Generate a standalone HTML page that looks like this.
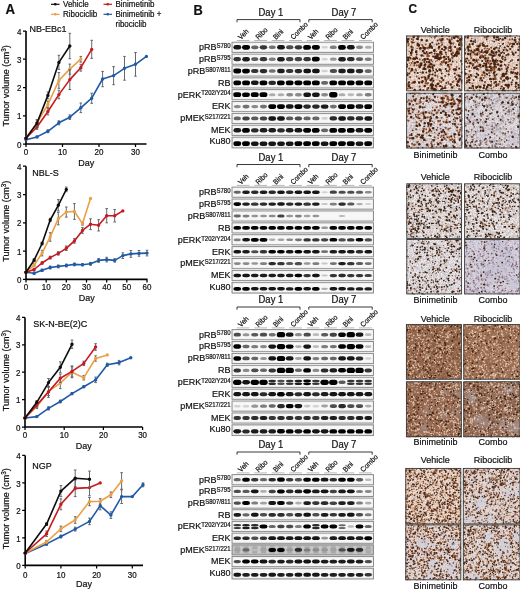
<!DOCTYPE html>
<html><head><meta charset="utf-8"><title>Figure</title>
<style>html,body{margin:0;padding:0;background:#fff;}svg{display:block;}text{stroke:#111;stroke-width:.2px;}</style></head>
<body><svg width="520" height="592" viewBox="0 0 520 592" font-family="&quot;Liberation Sans&quot;, Arial, sans-serif" fill="#111">
<defs><filter id="bl" x="-5%" y="-50%" width="110%" height="200%"><feGaussianBlur stdDeviation="0.7"/></filter>
<filter id="bl2" x="-5%" y="-5%" width="110%" height="110%"><feGaussianBlur stdDeviation="1.2"/></filter><filter id="spT" x="0" y="0" width="1" height="1"><feTurbulence type="fractalNoise" baseFrequency="0.75" numOctaves="2" seed="3"/><feColorMatrix type="matrix" values="0 0 0 0 0.62  0 0 0 0 0.48  0 0 0 0 0.42  3.2 0 0 0 -1.25"/></filter>
<filter id="spG" x="0" y="0" width="1" height="1"><feTurbulence type="fractalNoise" baseFrequency="0.75" numOctaves="2" seed="5"/><feColorMatrix type="matrix" values="0 0 0 0 0.55  0 0 0 0 0.53  0 0 0 0 0.6  3.2 0 0 0 -1.2"/></filter>
<filter id="spB" x="0" y="0" width="1" height="1"><feTurbulence type="fractalNoise" baseFrequency="0.6" numOctaves="2" seed="9"/><feColorMatrix type="matrix" values="0 0 0 0 0.3  0 0 0 0 0.18  0 0 0 0 0.12  3.4 0 0 0 -1.3"/></filter>
<filter id="bl3" x="-20%" y="-20%" width="140%" height="140%"><feGaussianBlur stdDeviation="2.5"/></filter></defs>
<rect width="520" height="592" fill="#fff"/>
<text transform="translate(5.6,13.9) scale(1,1.1)" font-size="13.2" font-weight="bold" stroke="#000" stroke-width="0.35">A</text>
<line x1="51" y1="4.3" x2="59.5" y2="4.3" stroke="#0d0d0d" stroke-width="1.2"/><circle cx="55.25" cy="4.3" r="1.3" fill="#0d0d0d"/>
<text transform="translate(63,7.199999999999999) scale(1,1.1)" font-size="8">Vehicle</text>
<line x1="51" y1="14.3" x2="59.5" y2="14.3" stroke="#eaa045" stroke-width="1.2"/><circle cx="55.25" cy="14.3" r="1.3" fill="#eaa045"/>
<text transform="translate(63,17.2) scale(1,1.1)" font-size="8">Ribociclib</text>
<line x1="103.5" y1="4.3" x2="112.0" y2="4.3" stroke="#c8191f" stroke-width="1.2"/><circle cx="107.75" cy="4.3" r="1.3" fill="#c8191f"/>
<text transform="translate(115.5,7.199999999999999) scale(1,1.1)" font-size="8">Binimetinib</text>
<line x1="103.5" y1="14.3" x2="112.0" y2="14.3" stroke="#1f5aa8" stroke-width="1.2"/><circle cx="107.75" cy="14.3" r="1.3" fill="#1f5aa8"/>
<text transform="translate(115.5,17.2) scale(1,1.1)" font-size="8">Binimetinib +</text>
<text transform="translate(115.5,26.5) scale(1,1.1)" font-size="8">ribociclib</text>
<path d="M26 31V144H146.5" fill="none" stroke="#000" stroke-width="1.6"/>
<text transform="translate(21.4,147.6) scale(1,1.1)" font-size="8" text-anchor="end">0</text>
<text transform="translate(21.4,119.3) scale(1,1.1)" font-size="8" text-anchor="end">1</text>
<text transform="translate(21.4,91.1) scale(1,1.1)" font-size="8" text-anchor="end">2</text>
<text transform="translate(21.4,62.9) scale(1,1.1)" font-size="8" text-anchor="end">3</text>
<text transform="translate(21.4,34.6) scale(1,1.1)" font-size="8" text-anchor="end">4</text>
<text transform="translate(26,155.2) scale(1,1.1)" font-size="8" text-anchor="middle">0</text>
<text transform="translate(62.5,155.2) scale(1,1.1)" font-size="8" text-anchor="middle">10</text>
<text transform="translate(99,155.2) scale(1,1.1)" font-size="8" text-anchor="middle">20</text>
<text transform="translate(135.5,155.2) scale(1,1.1)" font-size="8" text-anchor="middle">30</text>
<path d="M23 144H26M23 115.8H26M23 87.5H26M23 59.2H26M23 31H26M26 144V147M62.5 144V147M99 144V147M135.5 144V147" stroke="#000" stroke-width="1.25"/>
<text transform="translate(86.2,165.6) scale(1,1.1)" font-size="9" text-anchor="middle">Day</text>
<text transform="translate(9.3,85.9) rotate(-90) scale(1,1.1)" font-size="9" text-anchor="middle">Tumor volume (cm<tspan font-size="6.3" dy="-3.2">3</tspan><tspan dy="3.2">)</tspan></text>
<text transform="translate(29.6,32.2) scale(1,1.1)" font-size="9">NB-EBc1</text>
<path d="M37 136.1V137.8M35.7 136.1h2.6M35.7 137.8h2.6M47.9 129.9V132.7M46.6 129.9h2.6M46.6 132.7h2.6M58.9 120.8V124.8M57.6 120.8h2.6M57.6 124.8h2.6M69.8 114.9V119.4M68.5 114.9h2.6M68.5 119.4h2.6M80.8 103V112.6M79.5 103h2.6M79.5 112.6h2.6M91.7 93.2V103.3M90.4 93.2h2.6M90.4 103.3h2.6M102.6 71.4V86.7M101.3 71.4h2.6M101.3 86.7h2.6M113.6 66.6V84.7M112.3 66.6h2.6M112.3 84.7h2.6M124.5 56.4V80.2M123.2 56.4h2.6M123.2 80.2h2.6M135.5 52.5V76.2M134.2 52.5h2.6M134.2 76.2h2.6" stroke="#5c6168" stroke-width="0.95" fill="none"/>
<polyline points="26,139.8 37,136.9 47.9,131.3 58.9,122.8 69.8,117.2 80.8,107.8 91.7,98.2 102.6,79 113.6,75.6 124.5,68.3 135.5,64.3 146.4,56.4" fill="none" stroke="#1f5aa8" stroke-width="1.6" stroke-linejoin="round"/>
<path d="M26 139.8h0M37 136.9h0M47.9 131.3h0M58.9 122.8h0M69.8 117.2h0M80.8 107.8h0M91.7 98.2h0M102.6 79h0M113.6 75.6h0M124.5 68.3h0M135.5 64.3h0M146.4 56.4h0" stroke="#1f5aa8" stroke-width="3.4" stroke-linecap="round"/>
<path d="M37 120V125.6M35.7 120h2.6M35.7 125.6h2.6M47.9 101.1V107.8M46.6 101.1h2.6M46.6 107.8h2.6M58.9 72.5V88.3M57.6 72.5h2.6M57.6 88.3h2.6M69.8 64.1V74.2M68.5 64.1h2.6M68.5 74.2h2.6M80.8 56.4V62.1M79.5 56.4h2.6M79.5 62.1h2.6" stroke="#5c6168" stroke-width="0.95" fill="none"/>
<polyline points="26,138.3 37,122.8 47.9,104.5 58.9,80.4 69.8,69.1 80.8,59.2" fill="none" stroke="#eaa045" stroke-width="1.6" stroke-linejoin="round"/>
<path d="M26 138.3h0M37 122.8h0M47.9 104.5h0M58.9 80.4h0M69.8 69.1h0M80.8 59.2h0" stroke="#eaa045" stroke-width="3.4" stroke-linecap="round"/>
<path d="M37 124.8V129.3M35.7 124.8h2.6M35.7 129.3h2.6M47.9 108.1V114.9M46.6 108.1h2.6M46.6 114.9h2.6M58.9 90.3V98.8M57.6 90.3h2.6M57.6 98.8h2.6M69.8 69.7V89.5M68.5 69.7h2.6M68.5 89.5h2.6M80.8 64.3V71.1M79.5 64.3h2.6M79.5 71.1h2.6M91.7 40.3V58.4M90.4 40.3h2.6M90.4 58.4h2.6" stroke="#5c6168" stroke-width="0.95" fill="none"/>
<polyline points="26,138.3 37,127 47.9,111.5 58.9,94.6 69.8,79.6 80.8,67.7 91.7,49.4" fill="none" stroke="#c8191f" stroke-width="1.6" stroke-linejoin="round"/>
<path d="M26 138.3h0M37 127h0M47.9 111.5h0M58.9 94.6h0M69.8 79.6h0M80.8 67.7h0M91.7 49.4h0" stroke="#c8191f" stroke-width="3.4" stroke-linecap="round"/>
<path d="M37 119.7V126.5M35.7 119.7h2.6M35.7 126.5h2.6M47.9 92V98.8M46.6 92h2.6M46.6 98.8h2.6M58.9 55.3V69.4M57.6 55.3h2.6M57.6 69.4h2.6M69.8 33.3V58.7M68.5 33.3h2.6M68.5 58.7h2.6" stroke="#5c6168" stroke-width="0.95" fill="none"/>
<polyline points="26,138.3 37,123.1 47.9,95.4 58.9,62.4 69.8,46" fill="none" stroke="#0d0d0d" stroke-width="1.6" stroke-linejoin="round"/>
<path d="M26 138.3h0M37 123.1h0M47.9 95.4h0M58.9 62.4h0M69.8 46h0" stroke="#0d0d0d" stroke-width="3.4" stroke-linecap="round"/>
<path d="M26 166.2V279.4H147.5" fill="none" stroke="#000" stroke-width="1.6"/>
<text transform="translate(21.4,283) scale(1,1.1)" font-size="8" text-anchor="end">0</text>
<text transform="translate(21.4,254.7) scale(1,1.1)" font-size="8" text-anchor="end">1</text>
<text transform="translate(21.4,226.4) scale(1,1.1)" font-size="8" text-anchor="end">2</text>
<text transform="translate(21.4,198.1) scale(1,1.1)" font-size="8" text-anchor="end">3</text>
<text transform="translate(21.4,169.8) scale(1,1.1)" font-size="8" text-anchor="end">4</text>
<text transform="translate(26,290.2) scale(1,1.1)" font-size="8" text-anchor="middle">0</text>
<text transform="translate(46.2,290.2) scale(1,1.1)" font-size="8" text-anchor="middle">10</text>
<text transform="translate(66.3,290.2) scale(1,1.1)" font-size="8" text-anchor="middle">20</text>
<text transform="translate(86.5,290.2) scale(1,1.1)" font-size="8" text-anchor="middle">30</text>
<text transform="translate(106.7,290.2) scale(1,1.1)" font-size="8" text-anchor="middle">40</text>
<text transform="translate(126.8,290.2) scale(1,1.1)" font-size="8" text-anchor="middle">50</text>
<text transform="translate(147,290.2) scale(1,1.1)" font-size="8" text-anchor="middle">60</text>
<path d="M23 279.4H26M23 251.1H26M23 222.8H26M23 194.5H26M23 166.2H26M26 279.4V282.4M46.2 279.4V282.4M66.3 279.4V282.4M86.5 279.4V282.4M106.7 279.4V282.4M126.8 279.4V282.4M147 279.4V282.4" stroke="#000" stroke-width="1.25"/>
<text transform="translate(86.8,300.5) scale(1,1.1)" font-size="9" text-anchor="middle">Day</text>
<text transform="translate(9.3,221.2) rotate(-90) scale(1,1.1)" font-size="9" text-anchor="middle">Tumor volume (cm<tspan font-size="6.3" dy="-3.2">3</tspan><tspan dy="3.2">)</tspan></text>
<text transform="translate(32.3,176) scale(1,1.1)" font-size="9">NBL-S</text>
<path d="M34.1 272V274.3M32.8 272h2.6M32.8 274.3h2.6M42.1 269.2V271.5M40.8 269.2h2.6M40.8 271.5h2.6M50.2 266.1V268.9M48.9 266.1h2.6M48.9 268.9h2.6M58.3 265V267.8M57 265h2.6M57 267.8h2.6M66.3 264.1V266.9M65 264.1h2.6M65 266.9h2.6M74.4 263V265.8M73.1 263h2.6M73.1 265.8h2.6M82.5 263.6V265.8M81.2 263.6h2.6M81.2 265.8h2.6M90.5 262.4V265.2M89.2 262.4h2.6M89.2 265.2h2.6M98.6 258.5V262.4M97.3 258.5h2.6M97.3 262.4h2.6M106.7 257.3V261.9M105.4 257.3h2.6M105.4 261.9h2.6M114.7 258.7V262.1M113.4 258.7h2.6M113.4 262.1h2.6M122.8 252.8V258.5M121.5 252.8h2.6M121.5 258.5h2.6M130.9 250.5V257.3M129.6 250.5h2.6M129.6 257.3h2.6M139 250.5V256.2M137.7 250.5h2.6M137.7 256.2h2.6M147 250.3V255.9M145.7 250.3h2.6M145.7 255.9h2.6" stroke="#5c6168" stroke-width="0.95" fill="none"/>
<polyline points="26,272.3 34.1,273.2 42.1,270.3 50.2,267.5 58.3,266.4 66.3,265.5 74.4,264.4 82.5,264.7 90.5,263.8 98.6,260.4 106.7,259.6 114.7,260.4 122.8,255.6 130.9,253.9 139,253.4 147,253.1" fill="none" stroke="#1f5aa8" stroke-width="1.6" stroke-linejoin="round"/>
<path d="M26 272.3h0M34.1 273.2h0M42.1 270.3h0M50.2 267.5h0M58.3 266.4h0M66.3 265.5h0M74.4 264.4h0M82.5 264.7h0M90.5 263.8h0M98.6 260.4h0M106.7 259.6h0M114.7 260.4h0M122.8 255.6h0M130.9 253.9h0M139 253.4h0M147 253.1h0" stroke="#1f5aa8" stroke-width="3.4" stroke-linecap="round"/>
<path d="M34.1 263.8V266.7M32.8 263.8h2.6M32.8 266.7h2.6M42.1 250.3V255.9M40.8 250.3h2.6M40.8 255.9h2.6M50.2 232.7V241.2M48.9 232.7h2.6M48.9 241.2h2.6M58.3 212.3V224.8M57 212.3h2.6M57 224.8h2.6M66.3 207V217.1M65 207h2.6M65 217.1h2.6M74.4 203.6V219.4M73.1 203.6h2.6M73.1 219.4h2.6M82.5 222.2V225.1M81.2 222.2h2.6M81.2 225.1h2.6" stroke="#5c6168" stroke-width="0.95" fill="none"/>
<polyline points="26,272.3 34.1,265.2 42.1,253.1 50.2,236.9 58.3,218.6 66.3,212 74.4,211.5 82.5,223.6 90.5,198.5" fill="none" stroke="#eaa045" stroke-width="1.6" stroke-linejoin="round"/>
<path d="M26 272.3h0M34.1 265.2h0M42.1 253.1h0M50.2 236.9h0M58.3 218.6h0M66.3 212h0M74.4 211.5h0M82.5 223.6h0M90.5 198.5h0" stroke="#eaa045" stroke-width="3.4" stroke-linecap="round"/>
<path d="M34.1 268.6V270.3M32.8 268.6h2.6M32.8 270.3h2.6M42.1 261.9V264.1M40.8 261.9h2.6M40.8 264.1h2.6M50.2 256.2V259M48.9 256.2h2.6M48.9 259h2.6M58.3 251.7V255.1M57 251.7h2.6M57 255.1h2.6M66.3 246V250.5M65 246h2.6M65 250.5h2.6M74.4 238.6V243.2M73.1 238.6h2.6M73.1 243.2h2.6M82.5 227.6V233.3M81.2 227.6h2.6M81.2 233.3h2.6M90.5 218.8V229.6M89.2 218.8h2.6M89.2 229.6h2.6M98.6 219.7V231M97.3 219.7h2.6M97.3 231h2.6M106.7 208.6V222.8M105.4 208.6h2.6M105.4 222.8h2.6M114.7 209.5V222M113.4 209.5h2.6M113.4 222h2.6" stroke="#5c6168" stroke-width="0.95" fill="none"/>
<polyline points="26,272.3 34.1,269.5 42.1,263 50.2,257.6 58.3,253.4 66.3,248.3 74.4,240.9 82.5,230.4 90.5,224.2 98.6,225.3 106.7,215.7 114.7,215.7 122.8,210.9" fill="none" stroke="#c8191f" stroke-width="1.6" stroke-linejoin="round"/>
<path d="M26 272.3h0M34.1 269.5h0M42.1 263h0M50.2 257.6h0M58.3 253.4h0M66.3 248.3h0M74.4 240.9h0M82.5 230.4h0M90.5 224.2h0M98.6 225.3h0M106.7 215.7h0M114.7 215.7h0M122.8 210.9h0" stroke="#c8191f" stroke-width="3.4" stroke-linecap="round"/>
<path d="M34.1 258.7V261.6M32.8 258.7h2.6M32.8 261.6h2.6M42.1 242V244.9M40.8 242h2.6M40.8 244.9h2.6M50.2 218.3V221.7M48.9 218.3h2.6M48.9 221.7h2.6M58.3 199.6V210.9M57 199.6h2.6M57 210.9h2.6M66.3 187.1V191.7M65 187.1h2.6M65 191.7h2.6" stroke="#5c6168" stroke-width="0.95" fill="none"/>
<polyline points="26,272.3 34.1,260.2 42.1,243.5 50.2,220 58.3,205.3 66.3,189.4" fill="none" stroke="#0d0d0d" stroke-width="1.6" stroke-linejoin="round"/>
<path d="M26 272.3h0M34.1 260.2h0M42.1 243.5h0M50.2 220h0M58.3 205.3h0M66.3 189.4h0" stroke="#0d0d0d" stroke-width="3.4" stroke-linecap="round"/>
<path d="M25 317.4V427H142.5" fill="none" stroke="#000" stroke-width="1.6"/>
<text transform="translate(20.4,430.6) scale(1,1.1)" font-size="8" text-anchor="end">0</text>
<text transform="translate(20.4,403.2) scale(1,1.1)" font-size="8" text-anchor="end">1</text>
<text transform="translate(20.4,375.8) scale(1,1.1)" font-size="8" text-anchor="end">2</text>
<text transform="translate(20.4,348.4) scale(1,1.1)" font-size="8" text-anchor="end">3</text>
<text transform="translate(20.4,321) scale(1,1.1)" font-size="8" text-anchor="end">4</text>
<text transform="translate(25,438.2) scale(1,1.1)" font-size="8" text-anchor="middle">0</text>
<text transform="translate(64.2,438.2) scale(1,1.1)" font-size="8" text-anchor="middle">10</text>
<text transform="translate(103.4,438.2) scale(1,1.1)" font-size="8" text-anchor="middle">20</text>
<text transform="translate(142.6,438.2) scale(1,1.1)" font-size="8" text-anchor="middle">30</text>
<path d="M22 427H25M22 399.6H25M22 372.2H25M22 344.8H25M22 317.4H25M25 427V430M64.2 427V430M103.4 427V430M142.6 427V430" stroke="#000" stroke-width="1.25"/>
<text transform="translate(83.8,448.5) scale(1,1.1)" font-size="9" text-anchor="middle">Day</text>
<text transform="translate(9.3,370.6) rotate(-90) scale(1,1.1)" font-size="9" text-anchor="middle">Tumor volume (cm<tspan font-size="6.3" dy="-3.2">3</tspan><tspan dy="3.2">)</tspan></text>
<text transform="translate(33.2,327) scale(1,1.1)" font-size="9">SK-N-BE(2)C</text>
<path d="M36.8 416V417.1M35.5 416h2.6M35.5 417.1h2.6M48.5 406.7V410M47.2 406.7h2.6M47.2 410h2.6M60.3 400.1V402.9M59 400.1h2.6M59 402.9h2.6M72 392.5V394.7M70.7 392.5h2.6M70.7 394.7h2.6M83.8 385.9V387.5M82.5 385.9h2.6M82.5 387.5h2.6M95.6 377.1V382.6M94.3 377.1h2.6M94.3 382.6h2.6M107.3 363.2V366.4M106 363.2h2.6M106 366.4h2.6M119.1 360.4V364.8M117.8 360.4h2.6M117.8 364.8h2.6" stroke="#5c6168" stroke-width="0.95" fill="none"/>
<polyline points="25,418 36.8,416.6 48.5,408.4 60.3,401.5 72,393.6 83.8,386.7 95.6,379.9 107.3,364.8 119.1,362.6 130.8,357.7" fill="none" stroke="#1f5aa8" stroke-width="1.6" stroke-linejoin="round"/>
<path d="M25 418h0M36.8 416.6h0M48.5 408.4h0M60.3 401.5h0M72 393.6h0M83.8 386.7h0M95.6 379.9h0M107.3 364.8h0M119.1 362.6h0M130.8 357.7h0" stroke="#1f5aa8" stroke-width="3.4" stroke-linecap="round"/>
<path d="M36.8 404.3V408.6M35.5 404.3h2.6M35.5 408.6h2.6M48.5 387.3V395.5M47.2 387.3h2.6M47.2 395.5h2.6M60.3 377.7V388.6M59 377.7h2.6M59 388.6h2.6M72 366.7V377.7M70.7 366.7h2.6M70.7 377.7h2.6M83.8 375.5V379.9M82.5 375.5h2.6M82.5 379.9h2.6M95.6 355.8V361.2M94.3 355.8h2.6M94.3 361.2h2.6" stroke="#5c6168" stroke-width="0.95" fill="none"/>
<polyline points="25,418 36.8,406.4 48.5,391.4 60.3,383.2 72,372.2 83.8,377.7 95.6,358.5 107.3,354.9" fill="none" stroke="#eaa045" stroke-width="1.6" stroke-linejoin="round"/>
<path d="M25 418h0M36.8 406.4h0M48.5 391.4h0M60.3 383.2h0M72 372.2h0M83.8 377.7h0M95.6 358.5h0M107.3 354.9h0" stroke="#eaa045" stroke-width="3.4" stroke-linecap="round"/>
<path d="M36.8 402.9V407.3M35.5 402.9h2.6M35.5 407.3h2.6M48.5 386.4V397.4M47.2 386.4h2.6M47.2 397.4h2.6M60.3 374.1V382.3M59 374.1h2.6M59 382.3h2.6M72 365.9V376.9M70.7 365.9h2.6M70.7 376.9h2.6M83.8 361.2V365.6M82.5 361.2h2.6M82.5 365.6h2.6M95.6 343.7V350.3M94.3 343.7h2.6M94.3 350.3h2.6" stroke="#5c6168" stroke-width="0.95" fill="none"/>
<polyline points="25,418 36.8,405.1 48.5,391.9 60.3,378.2 72,371.4 83.8,363.4 95.6,347" fill="none" stroke="#c8191f" stroke-width="1.6" stroke-linejoin="round"/>
<path d="M25 418h0M36.8 405.1h0M48.5 391.9h0M60.3 378.2h0M72 371.4h0M83.8 363.4h0M95.6 347h0" stroke="#c8191f" stroke-width="3.4" stroke-linecap="round"/>
<path d="M36.8 400.7V404M35.5 400.7h2.6M35.5 404h2.6M48.5 378.5V386.7M47.2 378.5h2.6M47.2 386.7h2.6M60.3 361.8V372.7M59 361.8h2.6M59 372.7h2.6M72 340.1V348.4M70.7 340.1h2.6M70.7 348.4h2.6" stroke="#5c6168" stroke-width="0.95" fill="none"/>
<polyline points="25,418 36.8,402.3 48.5,382.6 60.3,367.3 72,344.3" fill="none" stroke="#0d0d0d" stroke-width="1.6" stroke-linejoin="round"/>
<path d="M25 418h0M36.8 402.3h0M48.5 382.6h0M60.3 367.3h0M72 344.3h0" stroke="#0d0d0d" stroke-width="3.4" stroke-linecap="round"/>
<path d="M25.2 455.4V565.4H143" fill="none" stroke="#000" stroke-width="1.6"/>
<text transform="translate(20.6,569) scale(1,1.1)" font-size="8" text-anchor="end">0</text>
<text transform="translate(20.6,541.5) scale(1,1.1)" font-size="8" text-anchor="end">1</text>
<text transform="translate(20.6,514) scale(1,1.1)" font-size="8" text-anchor="end">2</text>
<text transform="translate(20.6,486.5) scale(1,1.1)" font-size="8" text-anchor="end">3</text>
<text transform="translate(20.6,459) scale(1,1.1)" font-size="8" text-anchor="end">4</text>
<text transform="translate(25.2,577.6) scale(1,1.1)" font-size="8" text-anchor="middle">0</text>
<text transform="translate(60.9,577.6) scale(1,1.1)" font-size="8" text-anchor="middle">10</text>
<text transform="translate(96.6,577.6) scale(1,1.1)" font-size="8" text-anchor="middle">20</text>
<text transform="translate(132.3,577.6) scale(1,1.1)" font-size="8" text-anchor="middle">30</text>
<path d="M22.2 565.4H25.2M22.2 537.9H25.2M22.2 510.4H25.2M22.2 482.9H25.2M22.2 455.4H25.2M25.2 565.4V568.4M60.9 565.4V568.4M96.6 565.4V568.4M132.3 565.4V568.4" stroke="#000" stroke-width="1.25"/>
<text transform="translate(84.1,586.8) scale(1,1.1)" font-size="9" text-anchor="middle">Day</text>
<text transform="translate(9.3,508.8) rotate(-90) scale(1,1.1)" font-size="9" text-anchor="middle">Tumor volume (cm<tspan font-size="6.3" dy="-3.2">3</tspan><tspan dy="3.2">)</tspan></text>
<text transform="translate(32.3,468.5) scale(1,1.1)" font-size="9">NGP</text>
<path d="M46.6 542.6V545.3M45.3 542.6h2.6M45.3 545.3h2.6M60.9 535.1V537.9M59.6 535.1h2.6M59.6 537.9h2.6M75.2 527.2V531M73.9 527.2h2.6M73.9 531h2.6M89.5 518.1V524.7M88.2 518.1h2.6M88.2 524.7h2.6M100.2 501.6V509.8M98.9 501.6h2.6M98.9 509.8h2.6M110.9 511.8V518.4M109.6 511.8h2.6M109.6 518.4h2.6M121.6 489.8V503.5M120.3 489.8h2.6M120.3 503.5h2.6M143 482.9V486.8M141.7 482.9h2.6M141.7 486.8h2.6" stroke="#5c6168" stroke-width="0.95" fill="none"/>
<polyline points="25.2,553.6 46.6,543.9 60.9,536.5 75.2,529.1 89.5,521.4 100.2,505.7 110.9,515.1 121.6,496.6 132.3,496.6 143,484.8" fill="none" stroke="#1f5aa8" stroke-width="1.6" stroke-linejoin="round"/>
<path d="M25.2 553.6h0M46.6 543.9h0M60.9 536.5h0M75.2 529.1h0M89.5 521.4h0M100.2 505.7h0M110.9 515.1h0M121.6 496.6h0M132.3 496.6h0M143 484.8h0" stroke="#1f5aa8" stroke-width="3.4" stroke-linecap="round"/>
<path d="M46.6 540.6V543.4M45.3 540.6h2.6M45.3 543.4h2.6M60.9 526.1V531.6M59.6 526.1h2.6M59.6 531.6h2.6M75.2 516.7V523.3M73.9 516.7h2.6M73.9 523.3h2.6M89.5 497.5V505.7M88.2 497.5h2.6M88.2 505.7h2.6M100.2 498.6V504.1M98.9 498.6h2.6M98.9 504.1h2.6M110.9 492V497.5M109.6 492h2.6M109.6 497.5h2.6M121.6 472.7V489.2M120.3 472.7h2.6M120.3 489.2h2.6" stroke="#5c6168" stroke-width="0.95" fill="none"/>
<polyline points="25.2,553 46.6,542 60.9,528.8 75.2,520 89.5,501.6 100.2,501.3 110.9,494.7 121.6,481" fill="none" stroke="#eaa045" stroke-width="1.6" stroke-linejoin="round"/>
<path d="M25.2 553h0M46.6 542h0M60.9 528.8h0M75.2 520h0M89.5 501.6h0M100.2 501.3h0M110.9 494.7h0M121.6 481h0" stroke="#eaa045" stroke-width="3.4" stroke-linecap="round"/>
<path d="M46.6 531V536.5M45.3 531h2.6M45.3 536.5h2.6M60.9 498.8V509.8M59.6 498.8h2.6M59.6 509.8h2.6M75.2 480.1V496.6M73.9 480.1h2.6M73.9 496.6h2.6M89.5 479.3V495.8M88.2 479.3h2.6M88.2 495.8h2.6" stroke="#5c6168" stroke-width="0.95" fill="none"/>
<polyline points="25.2,553 46.6,533.8 60.9,504.3 75.2,488.4 89.5,487.6 100.2,482.9" fill="none" stroke="#c8191f" stroke-width="1.6" stroke-linejoin="round"/>
<path d="M25.2 553h0M46.6 533.8h0M60.9 504.3h0M75.2 488.4h0M89.5 487.6h0M100.2 482.9h0" stroke="#c8191f" stroke-width="3.4" stroke-linecap="round"/>
<path d="M46.6 522.8V525.5M45.3 522.8h2.6M45.3 525.5h2.6M60.9 485.6V496.6M59.6 485.6h2.6M59.6 496.6h2.6M75.2 470V486.5M73.9 470h2.6M73.9 486.5h2.6M89.5 471.1V487.6M88.2 471.1h2.6M88.2 487.6h2.6" stroke="#5c6168" stroke-width="0.95" fill="none"/>
<polyline points="25.2,553 46.6,524.1 60.9,491.1 75.2,478.2 89.5,479.3" fill="none" stroke="#0d0d0d" stroke-width="1.6" stroke-linejoin="round"/>
<path d="M25.2 553h0M46.6 524.1h0M60.9 491.1h0M75.2 478.2h0M89.5 479.3h0" stroke="#0d0d0d" stroke-width="3.4" stroke-linecap="round"/>
<text transform="translate(193.6,14.5) scale(1,1.1)" font-size="12.8" font-weight="bold" stroke="#000" stroke-width="0.35">B</text>
<text transform="translate(270.9,15.6) scale(1,1.1)" font-size="9.5" text-anchor="middle">Day 1</text>
<text transform="translate(344,15.6) scale(1,1.1)" font-size="9.5" text-anchor="middle">Day 7</text>
<path d="M237 22.3V19.6H300V22.3M308.8 22.3V19.6H372.2V22.3" fill="none" stroke="#222" stroke-width="0.9"/>
<text transform="translate(241.1,40) rotate(-45) scale(1,1.1)" font-size="6.6">Veh</text>
<text transform="translate(258.5,40) rotate(-45) scale(1,1.1)" font-size="6.6">Ribo</text>
<text transform="translate(276,40) rotate(-45) scale(1,1.1)" font-size="6.6">Bini</text>
<text transform="translate(293.4,40) rotate(-45) scale(1,1.1)" font-size="6.6">Combo</text>
<text transform="translate(310.9,40) rotate(-45) scale(1,1.1)" font-size="6.6">Veh</text>
<text transform="translate(328.4,40) rotate(-45) scale(1,1.1)" font-size="6.6">Ribo</text>
<text transform="translate(345.8,40) rotate(-45) scale(1,1.1)" font-size="6.6">Bini</text>
<text transform="translate(363.3,40) rotate(-45) scale(1,1.1)" font-size="6.6">Combo</text>
<path d="M236.8 40.5H249.5M254.3 40.5H267M271.7 40.5H284.5M289.2 40.5H301.9M306.6 40.5H319.4M324.1 40.5H336.8M341.6 40.5H354.3M359 40.5H371.8" stroke="#9a9a9a" stroke-width="0.7"/>
<rect x="232" y="42.2" width="141.5" height="10.2" fill="#ececec" stroke="#858585" stroke-width="0.9"/>
<rect x="233.2" y="43.4" width="139.1" height="7.8" fill="#f7f7f7" filter="url(#bl)"/>
<text transform="translate(230.5,50.1) scale(1,1.1)" font-size="9" text-anchor="end">pRB<tspan font-size="6" dy="-1.9">S780</tspan></text>
<g filter="url(#bl)"><rect x="233.4" y="45" width="7.8" height="4.5" rx="2.6" ry="2.3" fill="rgb(18,18,18)"/><rect x="242.1" y="44.9" width="7.9" height="4.8" rx="2.6" ry="2.4" fill="rgb(0,0,0)"/><rect x="251.2" y="45.5" width="7.2" height="3.7" rx="2.6" ry="1.9" fill="rgb(102,102,102)"/><rect x="259.7" y="45.2" width="7.5" height="4.2" rx="2.6" ry="2.1" fill="rgb(54,54,54)"/><rect x="268.7" y="45.5" width="7.1" height="3.6" rx="2.6" ry="1.8" fill="rgb(114,114,114)"/><rect x="277.1" y="45" width="7.8" height="4.5" rx="2.6" ry="2.3" fill="rgb(18,18,18)"/><rect x="286" y="45.3" width="7.4" height="3.9" rx="2.6" ry="2" fill="rgb(78,78,78)"/><rect x="294.7" y="45.2" width="7.5" height="4.2" rx="2.6" ry="2.1" fill="rgb(54,54,54)"/><rect x="303.2" y="45" width="7.8" height="4.7" rx="2.6" ry="2.3" fill="rgb(6,6,6)"/><rect x="311.9" y="44.9" width="7.9" height="4.8" rx="2.6" ry="2.4" fill="rgb(0,0,0)"/><rect x="321.4" y="46" width="6.5" height="2.6" rx="2.6" ry="1.3" fill="rgb(210,210,210)"/><rect x="329.8" y="45.6" width="7" height="3.5" rx="2.6" ry="1.7" fill="rgb(126,126,126)"/><rect x="338.1" y="45" width="7.8" height="4.7" rx="2.6" ry="2.3" fill="rgb(6,6,6)"/><rect x="346.9" y="45" width="7.8" height="4.5" rx="2.6" ry="2.3" fill="rgb(18,18,18)"/><rect x="356" y="45.6" width="7" height="3.3" rx="2.6" ry="1.7" fill="rgb(138,138,138)"/><rect x="364.9" y="45.8" width="6.7" height="3" rx="2.6" ry="1.5" fill="rgb(174,174,174)"/></g>
<rect x="232" y="54.1" width="141.5" height="10.2" fill="#ececec" stroke="#858585" stroke-width="0.9"/>
<rect x="233.2" y="55.3" width="139.1" height="7.8" fill="#f7f7f7" filter="url(#bl)"/>
<text transform="translate(230.5,62) scale(1,1.1)" font-size="9" text-anchor="end">pRB<tspan font-size="6" dy="-1.9">S795</tspan></text>
<g filter="url(#bl)"><rect x="233.5" y="57.1" width="7.5" height="4.2" rx="2.6" ry="2.1" fill="rgb(54,54,54)"/><rect x="242.2" y="57" width="7.7" height="4.4" rx="2.6" ry="2.2" fill="rgb(30,30,30)"/><rect x="251.1" y="57.2" width="7.3" height="3.8" rx="2.6" ry="1.9" fill="rgb(90,90,90)"/><rect x="259.7" y="57.1" width="7.5" height="4.2" rx="2.6" ry="2.1" fill="rgb(54,54,54)"/><rect x="268.7" y="57.4" width="7" height="3.5" rx="2.6" ry="1.7" fill="rgb(126,126,126)"/><rect x="277.1" y="57" width="7.7" height="4.4" rx="2.6" ry="2.2" fill="rgb(30,30,30)"/><rect x="286" y="57.1" width="7.4" height="4.1" rx="2.6" ry="2" fill="rgb(66,66,66)"/><rect x="294.7" y="57.1" width="7.4" height="4.1" rx="2.6" ry="2" fill="rgb(66,66,66)"/><rect x="303.4" y="57.1" width="7.5" height="4.2" rx="2.6" ry="2.1" fill="rgb(54,54,54)"/><rect x="311.9" y="56.8" width="7.8" height="4.7" rx="2.6" ry="2.3" fill="rgb(6,6,6)"/><rect x="321.4" y="57.9" width="6.5" height="2.6" rx="2.6" ry="1.3" fill="rgb(210,210,210)"/><rect x="329.9" y="57.6" width="6.9" height="3.2" rx="2.6" ry="1.6" fill="rgb(150,150,150)"/><rect x="338.2" y="57" width="7.7" height="4.4" rx="2.6" ry="2.2" fill="rgb(30,30,30)"/><rect x="347" y="57" width="7.6" height="4.3" rx="2.6" ry="2.1" fill="rgb(42,42,42)"/><rect x="355.9" y="57.2" width="7.3" height="3.8" rx="2.6" ry="1.9" fill="rgb(90,90,90)"/><rect x="364.7" y="57.4" width="7" height="3.5" rx="2.6" ry="1.7" fill="rgb(126,126,126)"/></g>
<rect x="232" y="65.9" width="141.5" height="10.2" fill="#ececec" stroke="#858585" stroke-width="0.9"/>
<rect x="233.2" y="67.1" width="139.1" height="7.8" fill="#f7f7f7" filter="url(#bl)"/>
<text transform="translate(230.5,73.8) scale(1,1.1)" font-size="9" text-anchor="end">pRB<tspan font-size="6" dy="-1.9">S807/811</tspan></text>
<g filter="url(#bl)"><rect x="233.3" y="68.6" width="7.9" height="4.8" rx="2.6" ry="2.4" fill="rgb(0,0,0)"/><rect x="242.1" y="68.7" width="7.8" height="4.7" rx="2.6" ry="2.3" fill="rgb(6,6,6)"/><rect x="251" y="68.9" width="7.5" height="4.2" rx="2.6" ry="2.1" fill="rgb(54,54,54)"/><rect x="259.7" y="68.9" width="7.6" height="4.3" rx="2.6" ry="2.1" fill="rgb(42,42,42)"/><rect x="268.7" y="69.2" width="7.1" height="3.6" rx="2.6" ry="1.8" fill="rgb(114,114,114)"/><rect x="277.1" y="68.8" width="7.7" height="4.4" rx="2.6" ry="2.2" fill="rgb(30,30,30)"/><rect x="285.9" y="68.9" width="7.5" height="4.2" rx="2.6" ry="2.1" fill="rgb(54,54,54)"/><rect x="294.6" y="68.9" width="7.6" height="4.3" rx="2.6" ry="2.1" fill="rgb(42,42,42)"/><rect x="303.3" y="68.8" width="7.8" height="4.5" rx="2.6" ry="2.3" fill="rgb(18,18,18)"/><rect x="312" y="68.8" width="7.8" height="4.5" rx="2.6" ry="2.3" fill="rgb(18,18,18)"/><rect x="321.4" y="69.7" width="6.5" height="2.6" rx="2.6" ry="1.3" fill="rgb(210,210,210)"/><rect x="329.7" y="69" width="7.4" height="3.9" rx="2.6" ry="2" fill="rgb(78,78,78)"/><rect x="338.2" y="68.8" width="7.7" height="4.4" rx="2.6" ry="2.2" fill="rgb(30,30,30)"/><rect x="346.9" y="68.8" width="7.8" height="4.5" rx="2.6" ry="2.3" fill="rgb(18,18,18)"/><rect x="355.7" y="68.9" width="7.6" height="4.3" rx="2.6" ry="2.1" fill="rgb(42,42,42)"/><rect x="364.6" y="69.2" width="7.2" height="3.7" rx="2.6" ry="1.9" fill="rgb(102,102,102)"/></g>
<rect x="232" y="77.8" width="141.5" height="10.2" fill="#ececec" stroke="#858585" stroke-width="0.9"/>
<rect x="233.2" y="79" width="139.1" height="7.8" fill="#f7f7f7" filter="url(#bl)"/>
<text transform="translate(230.5,85.7) scale(1,1.1)" font-size="9" text-anchor="end">RB</text>
<g filter="url(#bl)"><rect x="233.4" y="80.5" width="7.8" height="4.7" rx="2.6" ry="2.3" fill="rgb(6,6,6)"/><rect x="242.1" y="80.5" width="7.9" height="4.8" rx="2.6" ry="2.4" fill="rgb(0,0,0)"/><rect x="250.9" y="80.6" width="7.8" height="4.5" rx="2.6" ry="2.3" fill="rgb(18,18,18)"/><rect x="259.6" y="80.5" width="7.8" height="4.7" rx="2.6" ry="2.3" fill="rgb(6,6,6)"/><rect x="268.4" y="80.7" width="7.6" height="4.3" rx="2.6" ry="2.1" fill="rgb(42,42,42)"/><rect x="277" y="80.5" width="7.8" height="4.7" rx="2.6" ry="2.3" fill="rgb(6,6,6)"/><rect x="285.8" y="80.5" width="7.8" height="4.7" rx="2.6" ry="2.3" fill="rgb(6,6,6)"/><rect x="294.4" y="80.4" width="8" height="4.9" rx="2.6" ry="2.5" fill="rgb(0,0,0)"/><rect x="303.2" y="80.5" width="7.9" height="4.8" rx="2.6" ry="2.4" fill="rgb(0,0,0)"/><rect x="311.9" y="80.5" width="7.9" height="4.8" rx="2.6" ry="2.4" fill="rgb(0,0,0)"/><rect x="321" y="81" width="7.2" height="3.7" rx="2.6" ry="1.9" fill="rgb(102,102,102)"/><rect x="329.4" y="80.5" width="7.8" height="4.7" rx="2.6" ry="2.3" fill="rgb(6,6,6)"/><rect x="338.1" y="80.5" width="7.9" height="4.8" rx="2.6" ry="2.4" fill="rgb(0,0,0)"/><rect x="346.9" y="80.5" width="7.8" height="4.7" rx="2.6" ry="2.3" fill="rgb(6,6,6)"/><rect x="355.6" y="80.5" width="7.8" height="4.7" rx="2.6" ry="2.3" fill="rgb(6,6,6)"/><rect x="364.3" y="80.5" width="7.9" height="4.8" rx="2.6" ry="2.4" fill="rgb(0,0,0)"/></g>
<rect x="232" y="89.6" width="141.5" height="10.2" fill="#ececec" stroke="#858585" stroke-width="0.9"/>
<rect x="233.2" y="90.8" width="139.1" height="7.8" fill="#f7f7f7" filter="url(#bl)"/>
<text transform="translate(230.5,97.5) scale(1,1.1)" font-size="9" text-anchor="end">pERK<tspan font-size="6" dy="-1.9">T202/Y204</tspan></text>
<g filter="url(#bl)"><rect x="233.3" y="92.3" width="7.9" height="4.8" rx="2.6" ry="2.4" fill="rgb(0,0,0)"/><rect x="242.1" y="92.4" width="7.8" height="4.7" rx="2.6" ry="2.3" fill="rgb(6,6,6)"/><rect x="250.8" y="92.3" width="7.9" height="4.8" rx="2.6" ry="2.4" fill="rgb(0,0,0)"/><rect x="259.5" y="92.3" width="7.9" height="4.8" rx="2.6" ry="2.4" fill="rgb(0,0,0)"/><rect x="268.9" y="93.2" width="6.7" height="3" rx="2.6" ry="1.5" fill="rgb(174,174,174)"/><rect x="277.6" y="93.2" width="6.7" height="3" rx="2.6" ry="1.5" fill="rgb(174,174,174)"/><rect x="286.2" y="93.1" width="7" height="3.3" rx="2.6" ry="1.7" fill="rgb(138,138,138)"/><rect x="294.9" y="93.1" width="7" height="3.3" rx="2.6" ry="1.7" fill="rgb(138,138,138)"/><rect x="303.3" y="92.5" width="7.8" height="4.5" rx="2.6" ry="2.3" fill="rgb(18,18,18)"/><rect x="312" y="92.5" width="7.8" height="4.5" rx="2.6" ry="2.3" fill="rgb(18,18,18)"/><rect x="321.1" y="93.1" width="7" height="3.3" rx="2.6" ry="1.7" fill="rgb(138,138,138)"/><rect x="329.1" y="92" width="8.4" height="5.5" rx="2.6" ry="2.8" fill="rgb(0,0,0)"/><rect x="338.7" y="93.2" width="6.7" height="3" rx="2.6" ry="1.5" fill="rgb(174,174,174)"/><rect x="347.5" y="93.3" width="6.6" height="2.9" rx="2.6" ry="1.4" fill="rgb(186,186,186)"/><rect x="356.1" y="93.2" width="6.8" height="3.1" rx="2.6" ry="1.6" fill="rgb(162,162,162)"/><rect x="364.7" y="93" width="7" height="3.5" rx="2.6" ry="1.7" fill="rgb(126,126,126)"/></g>
<rect x="232" y="101.5" width="141.5" height="10.2" fill="#ececec" stroke="#858585" stroke-width="0.9"/>
<rect x="233.2" y="102.7" width="139.1" height="7.8" fill="#f7f7f7" filter="url(#bl)"/>
<text transform="translate(230.5,109.4) scale(1,1.1)" font-size="9" text-anchor="end">ERK</text>
<g filter="url(#bl)"><rect x="233.8" y="104.9" width="7" height="3.3" rx="2.6" ry="1.7" fill="rgb(138,138,138)"/><rect x="242.5" y="104.8" width="7.1" height="3.6" rx="2.6" ry="1.8" fill="rgb(114,114,114)"/><rect x="251.3" y="104.9" width="7" height="3.3" rx="2.6" ry="1.7" fill="rgb(138,138,138)"/><rect x="259.9" y="104.8" width="7.1" height="3.6" rx="2.6" ry="1.8" fill="rgb(114,114,114)"/><rect x="268.3" y="104.2" width="7.9" height="4.8" rx="2.6" ry="2.4" fill="rgb(0,0,0)"/><rect x="277" y="104.2" width="7.9" height="4.8" rx="2.6" ry="2.4" fill="rgb(0,0,0)"/><rect x="285.8" y="104.3" width="7.8" height="4.5" rx="2.6" ry="2.3" fill="rgb(18,18,18)"/><rect x="294.5" y="104.2" width="7.9" height="4.8" rx="2.6" ry="2.4" fill="rgb(0,0,0)"/><rect x="303.3" y="104.4" width="7.6" height="4.3" rx="2.6" ry="2.1" fill="rgb(42,42,42)"/><rect x="312.1" y="104.4" width="7.6" height="4.3" rx="2.6" ry="2.1" fill="rgb(42,42,42)"/><rect x="320.8" y="104.4" width="7.7" height="4.4" rx="2.6" ry="2.2" fill="rgb(30,30,30)"/><rect x="329.8" y="104.8" width="7.1" height="3.6" rx="2.6" ry="1.8" fill="rgb(114,114,114)"/><rect x="338.1" y="104.2" width="7.9" height="4.8" rx="2.6" ry="2.4" fill="rgb(0,0,0)"/><rect x="346.9" y="104.3" width="7.8" height="4.7" rx="2.6" ry="2.3" fill="rgb(6,6,6)"/><rect x="355.6" y="104.3" width="7.8" height="4.5" rx="2.6" ry="2.3" fill="rgb(18,18,18)"/><rect x="364.3" y="104.3" width="7.8" height="4.7" rx="2.6" ry="2.3" fill="rgb(6,6,6)"/></g>
<rect x="232" y="113.4" width="141.5" height="10.2" fill="#ececec" stroke="#858585" stroke-width="0.9"/>
<rect x="233.2" y="114.6" width="139.1" height="7.8" fill="#f7f7f7" filter="url(#bl)"/>
<text transform="translate(230.5,121.3) scale(1,1.1)" font-size="9" text-anchor="end">pMEK<tspan font-size="6" dy="-1.9">S217/221</tspan></text>
<g filter="url(#bl)"><rect x="233.7" y="116.6" width="7.2" height="3.7" rx="2.6" ry="1.9" fill="rgb(102,102,102)"/><rect x="242.3" y="116.4" width="7.4" height="4.1" rx="2.6" ry="2" fill="rgb(66,66,66)"/><rect x="251.1" y="116.5" width="7.3" height="3.8" rx="2.6" ry="1.9" fill="rgb(90,90,90)"/><rect x="259.8" y="116.4" width="7.4" height="4.1" rx="2.6" ry="2" fill="rgb(66,66,66)"/><rect x="268.3" y="116.2" width="7.8" height="4.5" rx="2.6" ry="2.3" fill="rgb(18,18,18)"/><rect x="277.1" y="116.2" width="7.8" height="4.5" rx="2.6" ry="2.3" fill="rgb(18,18,18)"/><rect x="286" y="116.5" width="7.3" height="3.8" rx="2.6" ry="1.9" fill="rgb(90,90,90)"/><rect x="294.7" y="116.5" width="7.4" height="3.9" rx="2.6" ry="2" fill="rgb(78,78,78)"/><rect x="303.5" y="116.6" width="7.2" height="3.7" rx="2.6" ry="1.9" fill="rgb(102,102,102)"/><rect x="312.3" y="116.6" width="7.2" height="3.7" rx="2.6" ry="1.9" fill="rgb(102,102,102)"/><rect x="321.4" y="117.1" width="6.5" height="2.6" rx="2.6" ry="1.3" fill="rgb(210,210,210)"/><rect x="329.5" y="116.3" width="7.6" height="4.3" rx="2.6" ry="2.1" fill="rgb(42,42,42)"/><rect x="338.2" y="116.2" width="7.8" height="4.5" rx="2.6" ry="2.3" fill="rgb(18,18,18)"/><rect x="347" y="116.3" width="7.6" height="4.3" rx="2.6" ry="2.1" fill="rgb(42,42,42)"/><rect x="355.7" y="116.3" width="7.6" height="4.3" rx="2.6" ry="2.1" fill="rgb(42,42,42)"/><rect x="364.4" y="116.2" width="7.8" height="4.5" rx="2.6" ry="2.3" fill="rgb(18,18,18)"/></g>
<rect x="232" y="125.2" width="141.5" height="10.2" fill="#ececec" stroke="#858585" stroke-width="0.9"/>
<rect x="233.2" y="126.4" width="139.1" height="7.8" fill="#f7f7f7" filter="url(#bl)"/>
<text transform="translate(230.5,133.1) scale(1,1.1)" font-size="9" text-anchor="end">MEK</text>
<g filter="url(#bl)"><rect x="233.5" y="128.1" width="7.7" height="4.4" rx="2.6" ry="2.2" fill="rgb(30,30,30)"/><rect x="242.1" y="128" width="7.8" height="4.7" rx="2.6" ry="2.3" fill="rgb(6,6,6)"/><rect x="251" y="128.2" width="7.6" height="4.3" rx="2.6" ry="2.1" fill="rgb(42,42,42)"/><rect x="259.7" y="128.1" width="7.7" height="4.4" rx="2.6" ry="2.2" fill="rgb(30,30,30)"/><rect x="268.4" y="128.1" width="7.7" height="4.4" rx="2.6" ry="2.2" fill="rgb(30,30,30)"/><rect x="277.2" y="128.2" width="7.6" height="4.3" rx="2.6" ry="2.1" fill="rgb(42,42,42)"/><rect x="285.8" y="128.1" width="7.7" height="4.4" rx="2.6" ry="2.2" fill="rgb(30,30,30)"/><rect x="294.5" y="128" width="7.8" height="4.5" rx="2.6" ry="2.3" fill="rgb(18,18,18)"/><rect x="303.2" y="127.9" width="7.9" height="4.8" rx="2.6" ry="2.4" fill="rgb(0,0,0)"/><rect x="311.9" y="128" width="7.8" height="4.7" rx="2.6" ry="2.3" fill="rgb(6,6,6)"/><rect x="321" y="128.5" width="7.2" height="3.7" rx="2.6" ry="1.9" fill="rgb(102,102,102)"/><rect x="329.4" y="128" width="7.8" height="4.7" rx="2.6" ry="2.3" fill="rgb(6,6,6)"/><rect x="338.1" y="128" width="7.8" height="4.7" rx="2.6" ry="2.3" fill="rgb(6,6,6)"/><rect x="346.9" y="128" width="7.8" height="4.7" rx="2.6" ry="2.3" fill="rgb(6,6,6)"/><rect x="355.6" y="128" width="7.8" height="4.5" rx="2.6" ry="2.3" fill="rgb(18,18,18)"/><rect x="364.3" y="127.9" width="7.9" height="4.8" rx="2.6" ry="2.4" fill="rgb(0,0,0)"/></g>
<rect x="232" y="137.1" width="141.5" height="10.8" fill="#dedede" stroke="#858585" stroke-width="0.9"/>
<rect x="233.2" y="138.3" width="139.1" height="8.4" fill="#f7f7f7" filter="url(#bl)"/>
<text transform="translate(230.5,144.4) scale(1,1.1)" font-size="9" text-anchor="end">Ku80</text>
<g filter="url(#bl)"><rect x="233.4" y="141.3" width="7.8" height="4.7" rx="2.6" ry="2.3" fill="rgb(6,6,6)"/><rect x="242.1" y="141.3" width="7.8" height="4.7" rx="2.6" ry="2.3" fill="rgb(6,6,6)"/><rect x="250.9" y="141.4" width="7.8" height="4.5" rx="2.6" ry="2.3" fill="rgb(18,18,18)"/><rect x="259.6" y="141.4" width="7.8" height="4.5" rx="2.6" ry="2.3" fill="rgb(18,18,18)"/><rect x="268.3" y="141.4" width="7.8" height="4.5" rx="2.6" ry="2.3" fill="rgb(18,18,18)"/><rect x="277.1" y="141.4" width="7.8" height="4.5" rx="2.6" ry="2.3" fill="rgb(18,18,18)"/><rect x="285.8" y="141.4" width="7.8" height="4.5" rx="2.6" ry="2.3" fill="rgb(18,18,18)"/><rect x="294.5" y="141.3" width="7.8" height="4.7" rx="2.6" ry="2.3" fill="rgb(6,6,6)"/><rect x="303.2" y="141.3" width="7.8" height="4.7" rx="2.6" ry="2.3" fill="rgb(6,6,6)"/><rect x="311.9" y="141.3" width="7.8" height="4.7" rx="2.6" ry="2.3" fill="rgb(6,6,6)"/><rect x="320.7" y="141.4" width="7.8" height="4.5" rx="2.6" ry="2.3" fill="rgb(18,18,18)"/><rect x="329.4" y="141.3" width="7.8" height="4.7" rx="2.6" ry="2.3" fill="rgb(6,6,6)"/><rect x="338.1" y="141.3" width="7.8" height="4.7" rx="2.6" ry="2.3" fill="rgb(6,6,6)"/><rect x="346.8" y="141.3" width="7.9" height="4.8" rx="2.6" ry="2.4" fill="rgb(0,0,0)"/><rect x="355.6" y="141.4" width="7.8" height="4.5" rx="2.6" ry="2.3" fill="rgb(18,18,18)"/><rect x="364.3" y="141.3" width="7.8" height="4.7" rx="2.6" ry="2.3" fill="rgb(6,6,6)"/></g>
<text transform="translate(270.9,160.5) scale(1,1.1)" font-size="9.5" text-anchor="middle">Day 1</text>
<text transform="translate(344,160.5) scale(1,1.1)" font-size="9.5" text-anchor="middle">Day 7</text>
<path d="M237 167.2V164.5H300V167.2M308.8 167.2V164.5H372.2V167.2" fill="none" stroke="#222" stroke-width="0.9"/>
<text transform="translate(241.1,184.9) rotate(-45) scale(1,1.1)" font-size="6.6">Veh</text>
<text transform="translate(258.5,184.9) rotate(-45) scale(1,1.1)" font-size="6.6">Ribo</text>
<text transform="translate(276,184.9) rotate(-45) scale(1,1.1)" font-size="6.6">Bini</text>
<text transform="translate(293.4,184.9) rotate(-45) scale(1,1.1)" font-size="6.6">Combo</text>
<text transform="translate(310.9,184.9) rotate(-45) scale(1,1.1)" font-size="6.6">Veh</text>
<text transform="translate(328.4,184.9) rotate(-45) scale(1,1.1)" font-size="6.6">Ribo</text>
<text transform="translate(345.8,184.9) rotate(-45) scale(1,1.1)" font-size="6.6">Bini</text>
<text transform="translate(363.3,184.9) rotate(-45) scale(1,1.1)" font-size="6.6">Combo</text>
<path d="M236.8 185.4H249.5M254.3 185.4H267M271.7 185.4H284.5M289.2 185.4H301.9M306.6 185.4H319.4M324.1 185.4H336.8M341.6 185.4H354.3M359 185.4H371.8" stroke="#9a9a9a" stroke-width="0.7"/>
<rect x="232" y="187.1" width="141.5" height="10.2" fill="#ececec" stroke="#858585" stroke-width="0.9"/>
<rect x="233.2" y="188.3" width="139.1" height="7.8" fill="#f7f7f7" filter="url(#bl)"/>
<text transform="translate(230.5,195) scale(1,1.1)" font-size="9" text-anchor="end">pRB<tspan font-size="6" dy="-1.9">S780</tspan></text>
<g filter="url(#bl)"><rect x="233.7" y="190.8" width="7.2" height="2.9" rx="2.6" ry="1.4" fill="rgb(102,102,102)"/><rect x="242.2" y="190.5" width="7.7" height="3.4" rx="2.6" ry="1.7" fill="rgb(30,30,30)"/><rect x="251" y="190.5" width="7.6" height="3.4" rx="2.6" ry="1.7" fill="rgb(42,42,42)"/><rect x="259.7" y="190.5" width="7.7" height="3.4" rx="2.6" ry="1.7" fill="rgb(30,30,30)"/><rect x="268.4" y="190.5" width="7.6" height="3.4" rx="2.6" ry="1.7" fill="rgb(42,42,42)"/><rect x="277.1" y="190.4" width="7.8" height="3.5" rx="2.6" ry="1.8" fill="rgb(18,18,18)"/><rect x="285.9" y="190.5" width="7.6" height="3.4" rx="2.6" ry="1.7" fill="rgb(42,42,42)"/><rect x="294.5" y="190.4" width="7.8" height="3.5" rx="2.6" ry="1.8" fill="rgb(18,18,18)"/><rect x="303.3" y="190.4" width="7.8" height="3.5" rx="2.6" ry="1.8" fill="rgb(18,18,18)"/><rect x="312" y="190.4" width="7.8" height="3.5" rx="2.6" ry="1.8" fill="rgb(18,18,18)"/><rect x="321.4" y="191.2" width="6.5" height="2" rx="2.6" ry="1" fill="rgb(210,210,210)"/><rect x="329.6" y="190.6" width="7.4" height="3.2" rx="2.6" ry="1.6" fill="rgb(66,66,66)"/><rect x="338.4" y="190.7" width="7.4" height="3.1" rx="2.6" ry="1.5" fill="rgb(78,78,78)"/><rect x="347.1" y="190.7" width="7.4" height="3.1" rx="2.6" ry="1.5" fill="rgb(78,78,78)"/><rect x="355.9" y="190.7" width="7.3" height="3" rx="2.6" ry="1.5" fill="rgb(90,90,90)"/><rect x="364.8" y="190.9" width="7" height="2.6" rx="2.6" ry="1.3" fill="rgb(138,138,138)"/></g>
<rect x="232" y="199" width="141.5" height="10.2" fill="#ececec" stroke="#858585" stroke-width="0.9"/>
<rect x="233.2" y="200.2" width="139.1" height="7.8" fill="#f7f7f7" filter="url(#bl)"/>
<text transform="translate(230.5,206.9) scale(1,1.1)" font-size="9" text-anchor="end">pRB<tspan font-size="6" dy="-1.9">S795</tspan></text>
<g filter="url(#bl)"><rect x="233.4" y="202.3" width="7.8" height="3.6" rx="2.6" ry="1.8" fill="rgb(6,6,6)"/><rect x="242.2" y="202.4" width="7.7" height="3.4" rx="2.6" ry="1.7" fill="rgb(30,30,30)"/><rect x="251" y="202.5" width="7.5" height="3.3" rx="2.6" ry="1.6" fill="rgb(54,54,54)"/><rect x="259.7" y="202.4" width="7.6" height="3.4" rx="2.6" ry="1.7" fill="rgb(42,42,42)"/><rect x="268.4" y="202.4" width="7.7" height="3.4" rx="2.6" ry="1.7" fill="rgb(30,30,30)"/><rect x="277.1" y="202.3" width="7.8" height="3.5" rx="2.6" ry="1.8" fill="rgb(18,18,18)"/><rect x="285.9" y="202.4" width="7.6" height="3.4" rx="2.6" ry="1.7" fill="rgb(42,42,42)"/><rect x="294.6" y="202.4" width="7.7" height="3.4" rx="2.6" ry="1.7" fill="rgb(30,30,30)"/><rect x="303.4" y="202.5" width="7.5" height="3.3" rx="2.6" ry="1.6" fill="rgb(54,54,54)"/><rect x="312" y="202.4" width="7.7" height="3.4" rx="2.6" ry="1.7" fill="rgb(30,30,30)"/><rect x="321.3" y="203" width="6.6" height="2.1" rx="2.6" ry="1.1" fill="rgb(198,198,198)"/><rect x="329.8" y="202.8" width="7" height="2.7" rx="2.6" ry="1.3" fill="rgb(126,126,126)"/><rect x="338.3" y="202.4" width="7.6" height="3.4" rx="2.6" ry="1.7" fill="rgb(42,42,42)"/><rect x="347.2" y="202.6" width="7.3" height="3" rx="2.6" ry="1.5" fill="rgb(90,90,90)"/><rect x="356.2" y="202.9" width="6.7" height="2.3" rx="2.6" ry="1.2" fill="rgb(174,174,174)"/><rect x="365" y="203.1" width="6.5" height="2" rx="2.6" ry="1" fill="rgb(210,210,210)"/></g>
<rect x="232" y="210.9" width="141.5" height="10.2" fill="#ececec" stroke="#858585" stroke-width="0.9"/>
<rect x="233.2" y="212.1" width="139.1" height="7.8" fill="#f7f7f7" filter="url(#bl)"/>
<text transform="translate(230.5,218.8) scale(1,1.1)" font-size="9" text-anchor="end">pRB<tspan font-size="6" dy="-1.9">S807/811</tspan></text>
<g filter="url(#bl)"><rect x="233.7" y="214.6" width="7.2" height="2.9" rx="2.6" ry="1.4" fill="rgb(102,102,102)"/><rect x="242.5" y="214.7" width="7" height="2.7" rx="2.6" ry="1.3" fill="rgb(126,126,126)"/><rect x="251.3" y="214.7" width="6.9" height="2.5" rx="2.6" ry="1.3" fill="rgb(150,150,150)"/><rect x="260.1" y="214.7" width="6.9" height="2.5" rx="2.6" ry="1.3" fill="rgb(150,150,150)"/><rect x="268.7" y="214.7" width="7" height="2.6" rx="2.6" ry="1.3" fill="rgb(138,138,138)"/><rect x="277.2" y="214.4" width="7.4" height="3.2" rx="2.6" ry="1.6" fill="rgb(66,66,66)"/><rect x="286.2" y="214.7" width="6.9" height="2.5" rx="2.6" ry="1.3" fill="rgb(150,150,150)"/><rect x="294.9" y="214.7" width="7" height="2.7" rx="2.6" ry="1.3" fill="rgb(126,126,126)"/><rect x="303.7" y="214.8" width="6.8" height="2.4" rx="2.6" ry="1.2" fill="rgb(162,162,162)"/><rect x="312.4" y="214.7" width="6.9" height="2.5" rx="2.6" ry="1.3" fill="rgb(150,150,150)"/><rect x="338.7" y="214.9" width="6.6" height="2.2" rx="2.6" ry="1.1" fill="rgb(186,186,186)"/></g>
<rect x="232" y="222.8" width="141.5" height="10.2" fill="#ececec" stroke="#858585" stroke-width="0.9"/>
<rect x="233.2" y="224" width="139.1" height="7.8" fill="#f7f7f7" filter="url(#bl)"/>
<text transform="translate(230.5,230.7) scale(1,1.1)" font-size="9" text-anchor="end">RB</text>
<g filter="url(#bl)"><rect x="233.4" y="226.1" width="7.8" height="3.6" rx="2.6" ry="1.8" fill="rgb(6,6,6)"/><rect x="242.1" y="226" width="7.9" height="3.7" rx="2.6" ry="1.9" fill="rgb(0,0,0)"/><rect x="250.8" y="226.1" width="7.8" height="3.6" rx="2.6" ry="1.8" fill="rgb(6,6,6)"/><rect x="259.6" y="226.1" width="7.8" height="3.6" rx="2.6" ry="1.8" fill="rgb(6,6,6)"/><rect x="268.3" y="226.1" width="7.8" height="3.6" rx="2.6" ry="1.8" fill="rgb(6,6,6)"/><rect x="277" y="226.1" width="7.8" height="3.6" rx="2.6" ry="1.8" fill="rgb(6,6,6)"/><rect x="285.8" y="226.1" width="7.8" height="3.6" rx="2.6" ry="1.8" fill="rgb(6,6,6)"/><rect x="294.5" y="226.1" width="7.8" height="3.6" rx="2.6" ry="1.8" fill="rgb(6,6,6)"/><rect x="303.2" y="226" width="7.9" height="3.7" rx="2.6" ry="1.9" fill="rgb(0,0,0)"/><rect x="311.9" y="226" width="7.9" height="3.7" rx="2.6" ry="1.9" fill="rgb(0,0,0)"/><rect x="321.2" y="226.6" width="6.9" height="2.5" rx="2.6" ry="1.3" fill="rgb(150,150,150)"/><rect x="329.4" y="226.1" width="7.8" height="3.6" rx="2.6" ry="1.8" fill="rgb(6,6,6)"/><rect x="338.1" y="226" width="7.9" height="3.7" rx="2.6" ry="1.9" fill="rgb(0,0,0)"/><rect x="346.9" y="226.1" width="7.8" height="3.6" rx="2.6" ry="1.8" fill="rgb(6,6,6)"/><rect x="355.6" y="226.1" width="7.8" height="3.6" rx="2.6" ry="1.8" fill="rgb(6,6,6)"/><rect x="364.3" y="226.1" width="7.8" height="3.6" rx="2.6" ry="1.8" fill="rgb(6,6,6)"/></g>
<rect x="232" y="234.7" width="141.5" height="10.2" fill="#ececec" stroke="#858585" stroke-width="0.9"/>
<rect x="233.2" y="235.9" width="139.1" height="7.8" fill="#f7f7f7" filter="url(#bl)"/>
<text transform="translate(230.5,242.6) scale(1,1.1)" font-size="9" text-anchor="end">pERK<tspan font-size="6" dy="-1.9">T202/Y204</tspan></text>
<g filter="url(#bl)"><rect x="233.8" y="238.5" width="7" height="2.7" rx="2.6" ry="1.3" fill="rgb(126,126,126)"/><rect x="242.2" y="238" width="7.8" height="3.5" rx="2.6" ry="1.8" fill="rgb(18,18,18)"/><rect x="250.8" y="237.9" width="8" height="3.8" rx="2.6" ry="1.9" fill="rgb(0,0,0)"/><rect x="259.5" y="237.9" width="8" height="3.8" rx="2.6" ry="1.9" fill="rgb(0,0,0)"/><rect x="268.9" y="238.6" width="6.7" height="2.3" rx="2.6" ry="1.2" fill="rgb(174,174,174)"/><rect x="277.6" y="238.6" width="6.8" height="2.4" rx="2.6" ry="1.2" fill="rgb(162,162,162)"/><rect x="286.2" y="238.5" width="7" height="2.6" rx="2.6" ry="1.3" fill="rgb(138,138,138)"/><rect x="294.9" y="238.4" width="7.1" height="2.8" rx="2.6" ry="1.4" fill="rgb(114,114,114)"/><rect x="303.4" y="238.2" width="7.5" height="3.3" rx="2.6" ry="1.6" fill="rgb(54,54,54)"/><rect x="312.1" y="238.2" width="7.5" height="3.3" rx="2.6" ry="1.6" fill="rgb(54,54,54)"/><rect x="320.9" y="238.2" width="7.4" height="3.2" rx="2.6" ry="1.6" fill="rgb(66,66,66)"/><rect x="329.4" y="237.9" width="7.9" height="3.7" rx="2.6" ry="1.9" fill="rgb(0,0,0)"/><rect x="338.4" y="238.3" width="7.4" height="3.1" rx="2.6" ry="1.5" fill="rgb(78,78,78)"/><rect x="347" y="238.2" width="7.5" height="3.3" rx="2.6" ry="1.6" fill="rgb(54,54,54)"/><rect x="355.6" y="238" width="7.8" height="3.6" rx="2.6" ry="1.8" fill="rgb(6,6,6)"/><rect x="364.6" y="238.3" width="7.4" height="3.1" rx="2.6" ry="1.5" fill="rgb(78,78,78)"/></g>
<rect x="232" y="246.6" width="141.5" height="10.2" fill="#ececec" stroke="#858585" stroke-width="0.9"/>
<rect x="233.2" y="247.8" width="139.1" height="7.8" fill="#f7f7f7" filter="url(#bl)"/>
<text transform="translate(230.5,254.5) scale(1,1.1)" font-size="9" text-anchor="end">ERK</text>
<g filter="url(#bl)"><rect x="233.4" y="249.9" width="7.8" height="3.5" rx="2.6" ry="1.8" fill="rgb(18,18,18)"/><rect x="242.2" y="250" width="7.7" height="3.4" rx="2.6" ry="1.7" fill="rgb(30,30,30)"/><rect x="251.1" y="250.2" width="7.4" height="3.1" rx="2.6" ry="1.5" fill="rgb(78,78,78)"/><rect x="259.7" y="250.1" width="7.5" height="3.3" rx="2.6" ry="1.6" fill="rgb(54,54,54)"/><rect x="268.3" y="249.9" width="7.8" height="3.6" rx="2.6" ry="1.8" fill="rgb(6,6,6)"/><rect x="277" y="249.9" width="7.8" height="3.6" rx="2.6" ry="1.8" fill="rgb(6,6,6)"/><rect x="285.8" y="249.9" width="7.8" height="3.5" rx="2.6" ry="1.8" fill="rgb(18,18,18)"/><rect x="294.5" y="249.9" width="7.8" height="3.6" rx="2.6" ry="1.8" fill="rgb(6,6,6)"/><rect x="303.3" y="249.9" width="7.8" height="3.5" rx="2.6" ry="1.8" fill="rgb(18,18,18)"/><rect x="312" y="249.9" width="7.8" height="3.5" rx="2.6" ry="1.8" fill="rgb(18,18,18)"/><rect x="321" y="250.3" width="7.1" height="2.8" rx="2.6" ry="1.4" fill="rgb(114,114,114)"/><rect x="329.5" y="250" width="7.7" height="3.4" rx="2.6" ry="1.7" fill="rgb(30,30,30)"/><rect x="338.2" y="249.9" width="7.8" height="3.5" rx="2.6" ry="1.8" fill="rgb(18,18,18)"/><rect x="346.9" y="249.9" width="7.8" height="3.5" rx="2.6" ry="1.8" fill="rgb(18,18,18)"/><rect x="355.7" y="250" width="7.6" height="3.4" rx="2.6" ry="1.7" fill="rgb(42,42,42)"/><rect x="364.4" y="249.9" width="7.8" height="3.5" rx="2.6" ry="1.8" fill="rgb(18,18,18)"/></g>
<rect x="232" y="258.5" width="141.5" height="10.2" fill="#ececec" stroke="#858585" stroke-width="0.9"/>
<rect x="233.2" y="259.7" width="139.1" height="7.8" fill="#f7f7f7" filter="url(#bl)"/>
<text transform="translate(230.5,266.4) scale(1,1.1)" font-size="9" text-anchor="end">pMEK<tspan font-size="6" dy="-1.9">S217/221</tspan></text>
<g filter="url(#bl)"><rect x="233.8" y="262.3" width="7" height="2.6" rx="2.6" ry="1.3" fill="rgb(138,138,138)"/><rect x="242.6" y="262.3" width="7" height="2.6" rx="2.6" ry="1.3" fill="rgb(138,138,138)"/><rect x="251.3" y="262.3" width="6.9" height="2.5" rx="2.6" ry="1.3" fill="rgb(150,150,150)"/><rect x="260" y="262.3" width="7" height="2.7" rx="2.6" ry="1.3" fill="rgb(126,126,126)"/><rect x="268.4" y="261.9" width="7.6" height="3.4" rx="2.6" ry="1.7" fill="rgb(42,42,42)"/><rect x="277.2" y="262" width="7.5" height="3.3" rx="2.6" ry="1.6" fill="rgb(54,54,54)"/><rect x="286" y="262.1" width="7.3" height="3" rx="2.6" ry="1.5" fill="rgb(90,90,90)"/><rect x="294.7" y="262.1" width="7.4" height="3.1" rx="2.6" ry="1.5" fill="rgb(78,78,78)"/><rect x="303.7" y="262.3" width="6.9" height="2.5" rx="2.6" ry="1.3" fill="rgb(150,150,150)"/><rect x="312.4" y="262.3" width="7" height="2.7" rx="2.6" ry="1.3" fill="rgb(126,126,126)"/><rect x="321.3" y="262.5" width="6.6" height="2.1" rx="2.6" ry="1.1" fill="rgb(198,198,198)"/><rect x="329.8" y="262.2" width="7.1" height="2.8" rx="2.6" ry="1.4" fill="rgb(114,114,114)"/><rect x="338.2" y="261.9" width="7.7" height="3.4" rx="2.6" ry="1.7" fill="rgb(30,30,30)"/><rect x="347" y="262" width="7.5" height="3.3" rx="2.6" ry="1.6" fill="rgb(54,54,54)"/><rect x="355.9" y="262.1" width="7.3" height="3" rx="2.6" ry="1.5" fill="rgb(90,90,90)"/><rect x="364.7" y="262.2" width="7.1" height="2.8" rx="2.6" ry="1.4" fill="rgb(114,114,114)"/></g>
<rect x="232" y="270.4" width="141.5" height="10.2" fill="#ececec" stroke="#858585" stroke-width="0.9"/>
<rect x="233.2" y="271.6" width="139.1" height="7.8" fill="#f7f7f7" filter="url(#bl)"/>
<text transform="translate(230.5,278.3) scale(1,1.1)" font-size="9" text-anchor="end">MEK</text>
<g filter="url(#bl)"><rect x="233.4" y="273.7" width="7.8" height="3.5" rx="2.6" ry="1.8" fill="rgb(18,18,18)"/><rect x="242.2" y="273.7" width="7.8" height="3.5" rx="2.6" ry="1.8" fill="rgb(18,18,18)"/><rect x="250.9" y="273.8" width="7.7" height="3.4" rx="2.6" ry="1.7" fill="rgb(30,30,30)"/><rect x="259.7" y="273.8" width="7.7" height="3.4" rx="2.6" ry="1.7" fill="rgb(30,30,30)"/><rect x="268.4" y="273.8" width="7.7" height="3.4" rx="2.6" ry="1.7" fill="rgb(30,30,30)"/><rect x="277.1" y="273.8" width="7.7" height="3.4" rx="2.6" ry="1.7" fill="rgb(30,30,30)"/><rect x="285.8" y="273.8" width="7.7" height="3.4" rx="2.6" ry="1.7" fill="rgb(30,30,30)"/><rect x="294.5" y="273.7" width="7.8" height="3.6" rx="2.6" ry="1.8" fill="rgb(6,6,6)"/><rect x="303.4" y="273.9" width="7.5" height="3.3" rx="2.6" ry="1.6" fill="rgb(54,54,54)"/><rect x="312" y="273.7" width="7.8" height="3.5" rx="2.6" ry="1.8" fill="rgb(18,18,18)"/><rect x="321.3" y="274.4" width="6.6" height="2.1" rx="2.6" ry="1.1" fill="rgb(198,198,198)"/><rect x="329.6" y="273.9" width="7.5" height="3.3" rx="2.6" ry="1.6" fill="rgb(54,54,54)"/><rect x="338.3" y="273.8" width="7.6" height="3.4" rx="2.6" ry="1.7" fill="rgb(42,42,42)"/><rect x="347" y="273.9" width="7.5" height="3.3" rx="2.6" ry="1.6" fill="rgb(54,54,54)"/><rect x="355.8" y="273.9" width="7.5" height="3.3" rx="2.6" ry="1.6" fill="rgb(54,54,54)"/><rect x="364.5" y="273.9" width="7.4" height="3.2" rx="2.6" ry="1.6" fill="rgb(66,66,66)"/></g>
<rect x="232" y="282.3" width="141.5" height="10.8" fill="#dedede" stroke="#858585" stroke-width="0.9"/>
<rect x="233.2" y="283.5" width="139.1" height="8.4" fill="#f7f7f7" filter="url(#bl)"/>
<text transform="translate(230.5,289.6) scale(1,1.1)" font-size="9" text-anchor="end">Ku80</text>
<g filter="url(#bl)"><rect x="233.4" y="287.1" width="7.8" height="3.6" rx="2.6" ry="1.8" fill="rgb(6,6,6)"/><rect x="242.1" y="287.1" width="7.8" height="3.6" rx="2.6" ry="1.8" fill="rgb(6,6,6)"/><rect x="250.9" y="287.1" width="7.8" height="3.5" rx="2.6" ry="1.8" fill="rgb(18,18,18)"/><rect x="259.6" y="287.1" width="7.8" height="3.5" rx="2.6" ry="1.8" fill="rgb(18,18,18)"/><rect x="268.3" y="287.1" width="7.8" height="3.5" rx="2.6" ry="1.8" fill="rgb(18,18,18)"/><rect x="277.1" y="287.1" width="7.8" height="3.5" rx="2.6" ry="1.8" fill="rgb(18,18,18)"/><rect x="285.8" y="287.2" width="7.7" height="3.4" rx="2.6" ry="1.7" fill="rgb(30,30,30)"/><rect x="294.5" y="287.1" width="7.8" height="3.6" rx="2.6" ry="1.8" fill="rgb(6,6,6)"/><rect x="303.3" y="287.1" width="7.8" height="3.5" rx="2.6" ry="1.8" fill="rgb(18,18,18)"/><rect x="311.9" y="287.1" width="7.8" height="3.6" rx="2.6" ry="1.8" fill="rgb(6,6,6)"/><rect x="321.2" y="287.7" width="6.7" height="2.3" rx="2.6" ry="1.2" fill="rgb(174,174,174)"/><rect x="329.5" y="287.1" width="7.8" height="3.5" rx="2.6" ry="1.8" fill="rgb(18,18,18)"/><rect x="338.2" y="287.1" width="7.8" height="3.5" rx="2.6" ry="1.8" fill="rgb(18,18,18)"/><rect x="347" y="287.2" width="7.7" height="3.4" rx="2.6" ry="1.7" fill="rgb(30,30,30)"/><rect x="355.7" y="287.2" width="7.7" height="3.4" rx="2.6" ry="1.7" fill="rgb(30,30,30)"/><rect x="364.4" y="287.2" width="7.7" height="3.4" rx="2.6" ry="1.7" fill="rgb(30,30,30)"/></g>
<text transform="translate(270.9,303) scale(1,1.1)" font-size="9.5" text-anchor="middle">Day 1</text>
<text transform="translate(344,303) scale(1,1.1)" font-size="9.5" text-anchor="middle">Day 7</text>
<path d="M237 309.7V307H300V309.7M308.8 309.7V307H372.2V309.7" fill="none" stroke="#222" stroke-width="0.9"/>
<text transform="translate(241.1,327.4) rotate(-45) scale(1,1.1)" font-size="6.6">Veh</text>
<text transform="translate(258.5,327.4) rotate(-45) scale(1,1.1)" font-size="6.6">Ribo</text>
<text transform="translate(276,327.4) rotate(-45) scale(1,1.1)" font-size="6.6">Bini</text>
<text transform="translate(293.4,327.4) rotate(-45) scale(1,1.1)" font-size="6.6">Combo</text>
<text transform="translate(310.9,327.4) rotate(-45) scale(1,1.1)" font-size="6.6">Veh</text>
<text transform="translate(328.4,327.4) rotate(-45) scale(1,1.1)" font-size="6.6">Ribo</text>
<text transform="translate(345.8,327.4) rotate(-45) scale(1,1.1)" font-size="6.6">Bini</text>
<text transform="translate(363.3,327.4) rotate(-45) scale(1,1.1)" font-size="6.6">Combo</text>
<path d="M236.8 327.9H249.5M254.3 327.9H267M271.7 327.9H284.5M289.2 327.9H301.9M306.6 327.9H319.4M324.1 327.9H336.8M341.6 327.9H354.3M359 327.9H371.8" stroke="#9a9a9a" stroke-width="0.7"/>
<rect x="232" y="329.6" width="141.5" height="10.2" fill="#ececec" stroke="#858585" stroke-width="0.9"/>
<rect x="233.2" y="330.8" width="139.1" height="7.8" fill="#f7f7f7" filter="url(#bl)"/>
<text transform="translate(230.5,337.5) scale(1,1.1)" font-size="9" text-anchor="end">pRB<tspan font-size="6" dy="-1.9">S780</tspan></text>
<g filter="url(#bl)"><rect x="233.6" y="332.8" width="7.4" height="3.7" rx="2.6" ry="1.9" fill="rgb(78,78,78)"/><rect x="242.6" y="333.2" width="6.9" height="3.1" rx="2.6" ry="1.5" fill="rgb(150,150,150)"/><rect x="251.1" y="332.9" width="7.3" height="3.6" rx="2.6" ry="1.8" fill="rgb(90,90,90)"/><rect x="259.8" y="332.8" width="7.4" height="3.7" rx="2.6" ry="1.9" fill="rgb(78,78,78)"/><rect x="268.7" y="333" width="7.1" height="3.4" rx="2.6" ry="1.7" fill="rgb(114,114,114)"/><rect x="276.8" y="332.1" width="8.4" height="5.2" rx="2.6" ry="2.6" fill="rgb(0,0,0)"/><rect x="285.8" y="332.5" width="7.8" height="4.3" rx="2.6" ry="2.2" fill="rgb(18,18,18)"/><rect x="294.9" y="333.1" width="7" height="3.2" rx="2.6" ry="1.6" fill="rgb(138,138,138)"/><rect x="303.5" y="332.8" width="7.4" height="3.7" rx="2.6" ry="1.9" fill="rgb(78,78,78)"/><rect x="312.6" y="333.3" width="6.6" height="2.7" rx="2.6" ry="1.4" fill="rgb(186,186,186)"/><rect x="321" y="332.9" width="7.3" height="3.6" rx="2.6" ry="1.8" fill="rgb(90,90,90)"/><rect x="329.6" y="332.8" width="7.4" height="3.9" rx="2.6" ry="1.9" fill="rgb(66,66,66)"/><rect x="338.1" y="332.5" width="7.8" height="4.4" rx="2.6" ry="2.2" fill="rgb(6,6,6)"/><rect x="346.6" y="332.1" width="8.4" height="5.2" rx="2.6" ry="2.6" fill="rgb(0,0,0)"/><rect x="355.6" y="332.5" width="7.8" height="4.3" rx="2.6" ry="2.2" fill="rgb(18,18,18)"/><rect x="364.9" y="333.3" width="6.6" height="2.7" rx="2.6" ry="1.4" fill="rgb(186,186,186)"/></g>
<rect x="232" y="341.5" width="141.5" height="10.2" fill="#ececec" stroke="#858585" stroke-width="0.9"/>
<rect x="233.2" y="342.7" width="139.1" height="7.8" fill="#f7f7f7" filter="url(#bl)"/>
<text transform="translate(230.5,349.4) scale(1,1.1)" font-size="9" text-anchor="end">pRB<tspan font-size="6" dy="-1.9">S795</tspan></text>
<g filter="url(#bl)"><rect x="233.3" y="344.3" width="7.9" height="4.5" rx="2.6" ry="2.3" fill="rgb(0,0,0)"/><rect x="242.4" y="344.8" width="7.2" height="3.5" rx="2.6" ry="1.8" fill="rgb(102,102,102)"/><rect x="251.2" y="345" width="7" height="3.3" rx="2.6" ry="1.6" fill="rgb(126,126,126)"/><rect x="260" y="345" width="7" height="3.2" rx="2.6" ry="1.6" fill="rgb(138,138,138)"/><rect x="268.3" y="344.4" width="7.8" height="4.3" rx="2.6" ry="2.2" fill="rgb(18,18,18)"/><rect x="276.8" y="344" width="8.4" height="5.2" rx="2.6" ry="2.6" fill="rgb(0,0,0)"/><rect x="285.8" y="344.4" width="7.8" height="4.4" rx="2.6" ry="2.2" fill="rgb(6,6,6)"/><rect x="295.1" y="345.2" width="6.7" height="2.8" rx="2.6" ry="1.4" fill="rgb(174,174,174)"/><rect x="303.3" y="344.4" width="7.8" height="4.3" rx="2.6" ry="2.2" fill="rgb(18,18,18)"/><rect x="312.6" y="345.2" width="6.6" height="2.7" rx="2.6" ry="1.4" fill="rgb(186,186,186)"/><rect x="321.1" y="345" width="7" height="3.3" rx="2.6" ry="1.6" fill="rgb(126,126,126)"/><rect x="329.8" y="344.9" width="7.1" height="3.4" rx="2.6" ry="1.7" fill="rgb(114,114,114)"/><rect x="338.1" y="344.3" width="7.9" height="4.5" rx="2.6" ry="2.3" fill="rgb(0,0,0)"/><rect x="346.6" y="344" width="8.4" height="5.2" rx="2.6" ry="2.6" fill="rgb(0,0,0)"/><rect x="355.6" y="344.3" width="7.9" height="4.5" rx="2.6" ry="2.3" fill="rgb(0,0,0)"/><rect x="364.9" y="345.2" width="6.6" height="2.7" rx="2.6" ry="1.4" fill="rgb(186,186,186)"/></g>
<rect x="232" y="353.4" width="141.5" height="10.2" fill="#ececec" stroke="#858585" stroke-width="0.9"/>
<rect x="233.2" y="354.6" width="139.1" height="7.8" fill="#f7f7f7" filter="url(#bl)"/>
<text transform="translate(230.5,361.3) scale(1,1.1)" font-size="9" text-anchor="end">pRB<tspan font-size="6" dy="-1.9">S807/811</tspan></text>
<g filter="url(#bl)"><rect x="233.4" y="356.3" width="7.8" height="4.4" rx="2.6" ry="2.2" fill="rgb(6,6,6)"/><rect x="242.3" y="356.6" width="7.4" height="3.7" rx="2.6" ry="1.9" fill="rgb(78,78,78)"/><rect x="251.2" y="356.7" width="7.2" height="3.5" rx="2.6" ry="1.8" fill="rgb(102,102,102)"/><rect x="260.1" y="357" width="6.9" height="3.1" rx="2.6" ry="1.5" fill="rgb(150,150,150)"/><rect x="268.3" y="356.3" width="7.8" height="4.3" rx="2.6" ry="2.2" fill="rgb(18,18,18)"/><rect x="276.8" y="355.9" width="8.4" height="5.2" rx="2.6" ry="2.6" fill="rgb(0,0,0)"/><rect x="285.8" y="356.3" width="7.8" height="4.3" rx="2.6" ry="2.2" fill="rgb(18,18,18)"/><rect x="295" y="357" width="6.8" height="2.9" rx="2.6" ry="1.5" fill="rgb(162,162,162)"/><rect x="303.3" y="356.3" width="7.8" height="4.3" rx="2.6" ry="2.2" fill="rgb(18,18,18)"/><rect x="312.4" y="356.9" width="7" height="3.3" rx="2.6" ry="1.6" fill="rgb(126,126,126)"/><rect x="321" y="356.7" width="7.2" height="3.5" rx="2.6" ry="1.8" fill="rgb(102,102,102)"/><rect x="329.7" y="356.7" width="7.2" height="3.5" rx="2.6" ry="1.8" fill="rgb(102,102,102)"/><rect x="338.2" y="356.3" width="7.8" height="4.3" rx="2.6" ry="2.2" fill="rgb(18,18,18)"/><rect x="346.9" y="356.3" width="7.8" height="4.3" rx="2.6" ry="2.2" fill="rgb(18,18,18)"/><rect x="355.7" y="356.5" width="7.6" height="4.1" rx="2.6" ry="2" fill="rgb(42,42,42)"/><rect x="365" y="357.3" width="6.5" height="2.5" rx="2.6" ry="1.2" fill="rgb(210,210,210)"/></g>
<rect x="232" y="365.3" width="141.5" height="10.2" fill="#ececec" stroke="#858585" stroke-width="0.9"/>
<rect x="233.2" y="366.5" width="139.1" height="7.8" fill="#f7f7f7" filter="url(#bl)"/>
<text transform="translate(230.5,373.2) scale(1,1.1)" font-size="9" text-anchor="end">RB</text>
<g filter="url(#bl)"><rect x="233.5" y="368.4" width="7.5" height="4" rx="2.6" ry="2" fill="rgb(54,54,54)"/><rect x="242.6" y="368.8" width="7" height="3.2" rx="2.6" ry="1.6" fill="rgb(138,138,138)"/><rect x="251.1" y="368.5" width="7.4" height="3.7" rx="2.6" ry="1.9" fill="rgb(78,78,78)"/><rect x="259.9" y="368.6" width="7.2" height="3.5" rx="2.6" ry="1.8" fill="rgb(102,102,102)"/><rect x="268.5" y="368.4" width="7.5" height="4" rx="2.6" ry="2" fill="rgb(54,54,54)"/><rect x="276.8" y="367.8" width="8.4" height="5.2" rx="2.6" ry="2.6" fill="rgb(0,0,0)"/><rect x="285.5" y="367.8" width="8.4" height="5.2" rx="2.6" ry="2.6" fill="rgb(0,0,0)"/><rect x="294.8" y="368.6" width="7.2" height="3.5" rx="2.6" ry="1.8" fill="rgb(102,102,102)"/><rect x="303.2" y="368.2" width="7.8" height="4.4" rx="2.6" ry="2.2" fill="rgb(6,6,6)"/><rect x="312.4" y="368.8" width="7" height="3.2" rx="2.6" ry="1.6" fill="rgb(138,138,138)"/><rect x="320.8" y="368.4" width="7.6" height="4.1" rx="2.6" ry="2" fill="rgb(42,42,42)"/><rect x="329.5" y="368.3" width="7.7" height="4.2" rx="2.6" ry="2.1" fill="rgb(30,30,30)"/><rect x="338.1" y="368.1" width="7.9" height="4.5" rx="2.6" ry="2.3" fill="rgb(0,0,0)"/><rect x="346.6" y="367.8" width="8.4" height="5.2" rx="2.6" ry="2.6" fill="rgb(0,0,0)"/><rect x="355.3" y="367.8" width="8.4" height="5.2" rx="2.6" ry="2.6" fill="rgb(0,0,0)"/><rect x="364.5" y="368.4" width="7.5" height="4" rx="2.6" ry="2" fill="rgb(54,54,54)"/></g>
<rect x="232" y="377.2" width="141.5" height="10.2" fill="#ececec" stroke="#858585" stroke-width="0.9"/>
<rect x="233.2" y="378.4" width="139.1" height="7.8" fill="#f7f7f7" filter="url(#bl)"/>
<text transform="translate(230.5,385.1) scale(1,1.1)" font-size="9" text-anchor="end">pERK<tspan font-size="6" dy="-1.9">T202/Y204</tspan></text>
<g filter="url(#bl)"><rect x="233.1" y="379.7" width="8.4" height="5.2" rx="2.6" ry="2.6" fill="rgb(0,0,0)"/><rect x="242.2" y="380.1" width="7.8" height="4.3" rx="2.6" ry="2.2" fill="rgb(18,18,18)"/><rect x="250.6" y="379.7" width="8.4" height="5.2" rx="2.6" ry="2.6" fill="rgb(0,0,0)"/><rect x="259.3" y="379.7" width="8.4" height="5.2" rx="2.6" ry="2.6" fill="rgb(0,0,0)"/><ellipse cx="272.2" cy="381" rx="3.8" ry="1.3" fill="rgb(42,42,42)"/><ellipse cx="272.2" cy="383.8" rx="3.8" ry="1.3" fill="rgb(42,42,42)"/><ellipse cx="281" cy="381" rx="3.7" ry="1.2" fill="rgb(78,78,78)"/><ellipse cx="281" cy="383.8" rx="3.7" ry="1.2" fill="rgb(78,78,78)"/><ellipse cx="289.7" cy="381" rx="3.8" ry="1.2" fill="rgb(54,54,54)"/><ellipse cx="289.7" cy="383.8" rx="3.8" ry="1.2" fill="rgb(54,54,54)"/><ellipse cx="298.4" cy="381" rx="3.8" ry="1.3" fill="rgb(30,30,30)"/><ellipse cx="298.4" cy="383.8" rx="3.8" ry="1.3" fill="rgb(30,30,30)"/><ellipse cx="307.1" cy="381" rx="3.9" ry="1.4" fill="rgb(6,6,6)"/><ellipse cx="307.1" cy="383.8" rx="3.9" ry="1.4" fill="rgb(6,6,6)"/><ellipse cx="315.9" cy="381" rx="3.8" ry="1.2" fill="rgb(54,54,54)"/><ellipse cx="315.9" cy="383.8" rx="3.8" ry="1.2" fill="rgb(54,54,54)"/><rect x="320.4" y="379.7" width="8.4" height="5.2" rx="2.6" ry="2.6" fill="rgb(0,0,0)"/><rect x="329.1" y="379.7" width="8.4" height="5.2" rx="2.6" ry="2.6" fill="rgb(0,0,0)"/><rect x="338.4" y="380.5" width="7.3" height="3.6" rx="2.6" ry="1.8" fill="rgb(90,90,90)"/><ellipse cx="350.8" cy="381" rx="3.8" ry="1.2" fill="rgb(54,54,54)"/><ellipse cx="350.8" cy="383.8" rx="3.8" ry="1.2" fill="rgb(54,54,54)"/><ellipse cx="359.5" cy="381" rx="3.8" ry="1.2" fill="rgb(54,54,54)"/><ellipse cx="359.5" cy="383.8" rx="3.8" ry="1.2" fill="rgb(54,54,54)"/><ellipse cx="368.2" cy="381" rx="3.8" ry="1.2" fill="rgb(54,54,54)"/><ellipse cx="368.2" cy="383.8" rx="3.8" ry="1.2" fill="rgb(54,54,54)"/></g>
<rect x="232" y="389.1" width="141.5" height="10.2" fill="#ececec" stroke="#858585" stroke-width="0.9"/>
<rect x="233.2" y="390.3" width="139.1" height="7.8" fill="#f7f7f7" filter="url(#bl)"/>
<text transform="translate(230.5,397) scale(1,1.1)" font-size="9" text-anchor="end">ERK</text>
<g filter="url(#bl)"><rect x="233.4" y="392" width="7.8" height="4.3" rx="2.6" ry="2.2" fill="rgb(18,18,18)"/><rect x="242.2" y="392" width="7.8" height="4.3" rx="2.6" ry="2.2" fill="rgb(18,18,18)"/><rect x="250.9" y="392" width="7.8" height="4.3" rx="2.6" ry="2.2" fill="rgb(18,18,18)"/><rect x="259.7" y="392.2" width="7.6" height="4.1" rx="2.6" ry="2" fill="rgb(42,42,42)"/><rect x="268.3" y="392" width="7.8" height="4.3" rx="2.6" ry="2.2" fill="rgb(18,18,18)"/><rect x="277" y="392" width="7.8" height="4.4" rx="2.6" ry="2.2" fill="rgb(6,6,6)"/><rect x="285.8" y="392" width="7.8" height="4.3" rx="2.6" ry="2.2" fill="rgb(18,18,18)"/><rect x="294.6" y="392.2" width="7.6" height="4.1" rx="2.6" ry="2" fill="rgb(42,42,42)"/><rect x="303.3" y="392" width="7.8" height="4.3" rx="2.6" ry="2.2" fill="rgb(18,18,18)"/><rect x="312.1" y="392.2" width="7.6" height="4.1" rx="2.6" ry="2" fill="rgb(42,42,42)"/><rect x="320.8" y="392.1" width="7.7" height="4.2" rx="2.6" ry="2.1" fill="rgb(30,30,30)"/><rect x="329.5" y="392" width="7.8" height="4.3" rx="2.6" ry="2.2" fill="rgb(18,18,18)"/><rect x="338.2" y="392" width="7.8" height="4.3" rx="2.6" ry="2.2" fill="rgb(18,18,18)"/><rect x="346.9" y="392" width="7.8" height="4.3" rx="2.6" ry="2.2" fill="rgb(18,18,18)"/><rect x="355.6" y="392" width="7.8" height="4.3" rx="2.6" ry="2.2" fill="rgb(18,18,18)"/><rect x="364.4" y="392" width="7.8" height="4.3" rx="2.6" ry="2.2" fill="rgb(18,18,18)"/></g>
<rect x="232" y="401" width="141.5" height="10.2" fill="#ececec" stroke="#858585" stroke-width="0.9"/>
<rect x="233.2" y="402.2" width="139.1" height="7.8" fill="#f7f7f7" filter="url(#bl)"/>
<text transform="translate(230.5,408.9) scale(1,1.1)" font-size="9" text-anchor="end">pMEK<tspan font-size="6" dy="-1.9">S217/221</tspan></text>
<g filter="url(#bl)"><rect x="234.1" y="404.9" width="6.5" height="2.5" rx="2.6" ry="1.2" fill="rgb(210,210,210)"/><rect x="242.8" y="404.9" width="6.5" height="2.5" rx="2.6" ry="1.2" fill="rgb(210,210,210)"/><rect x="251.3" y="404.6" width="6.9" height="3.1" rx="2.6" ry="1.5" fill="rgb(150,150,150)"/><rect x="260" y="404.5" width="7" height="3.3" rx="2.6" ry="1.6" fill="rgb(126,126,126)"/><rect x="268.6" y="404.3" width="7.2" height="3.5" rx="2.6" ry="1.8" fill="rgb(102,102,102)"/><rect x="277.2" y="404.1" width="7.6" height="4.1" rx="2.6" ry="2" fill="rgb(42,42,42)"/><rect x="285.8" y="403.9" width="7.8" height="4.4" rx="2.6" ry="2.2" fill="rgb(6,6,6)"/><rect x="294.5" y="403.9" width="7.8" height="4.3" rx="2.6" ry="2.2" fill="rgb(18,18,18)"/><rect x="303.9" y="404.8" width="6.6" height="2.6" rx="2.6" ry="1.3" fill="rgb(198,198,198)"/><rect x="312.6" y="404.9" width="6.5" height="2.5" rx="2.6" ry="1.2" fill="rgb(210,210,210)"/><rect x="321.2" y="404.6" width="6.8" height="2.9" rx="2.6" ry="1.5" fill="rgb(162,162,162)"/><rect x="329.7" y="404.2" width="7.4" height="3.7" rx="2.6" ry="1.9" fill="rgb(78,78,78)"/><rect x="338.3" y="404.1" width="7.6" height="4.1" rx="2.6" ry="2" fill="rgb(42,42,42)"/><rect x="347.1" y="404.2" width="7.4" height="3.7" rx="2.6" ry="1.9" fill="rgb(78,78,78)"/><rect x="355.8" y="404.2" width="7.4" height="3.7" rx="2.6" ry="1.9" fill="rgb(78,78,78)"/><rect x="364.9" y="404.7" width="6.7" height="2.8" rx="2.6" ry="1.4" fill="rgb(174,174,174)"/></g>
<rect x="232" y="412.9" width="141.5" height="10.2" fill="#ececec" stroke="#858585" stroke-width="0.9"/>
<rect x="233.2" y="414.1" width="139.1" height="7.8" fill="#f7f7f7" filter="url(#bl)"/>
<text transform="translate(230.5,420.8) scale(1,1.1)" font-size="9" text-anchor="end">MEK</text>
<g filter="url(#bl)"><rect x="233.5" y="416" width="7.5" height="4" rx="2.6" ry="2" fill="rgb(54,54,54)"/><rect x="242.3" y="416" width="7.5" height="4" rx="2.6" ry="2" fill="rgb(54,54,54)"/><rect x="251" y="416" width="7.6" height="4.1" rx="2.6" ry="2" fill="rgb(42,42,42)"/><rect x="259.7" y="415.9" width="7.7" height="4.2" rx="2.6" ry="2.1" fill="rgb(30,30,30)"/><rect x="268.5" y="416" width="7.5" height="4" rx="2.6" ry="2" fill="rgb(54,54,54)"/><rect x="277.2" y="416" width="7.6" height="4.1" rx="2.6" ry="2" fill="rgb(42,42,42)"/><rect x="285.9" y="416" width="7.6" height="4.1" rx="2.6" ry="2" fill="rgb(42,42,42)"/><rect x="294.7" y="416" width="7.5" height="4" rx="2.6" ry="2" fill="rgb(54,54,54)"/><rect x="303.3" y="416" width="7.6" height="4.1" rx="2.6" ry="2" fill="rgb(42,42,42)"/><rect x="312.1" y="416" width="7.5" height="4" rx="2.6" ry="2" fill="rgb(54,54,54)"/><rect x="320.8" y="415.9" width="7.7" height="4.2" rx="2.6" ry="2.1" fill="rgb(30,30,30)"/><rect x="329.5" y="415.9" width="7.7" height="4.2" rx="2.6" ry="2.1" fill="rgb(30,30,30)"/><rect x="338.3" y="416" width="7.6" height="4.1" rx="2.6" ry="2" fill="rgb(42,42,42)"/><rect x="347" y="416" width="7.6" height="4.1" rx="2.6" ry="2" fill="rgb(42,42,42)"/><rect x="355.7" y="415.9" width="7.7" height="4.2" rx="2.6" ry="2.1" fill="rgb(30,30,30)"/><rect x="364.4" y="415.9" width="7.7" height="4.2" rx="2.6" ry="2.1" fill="rgb(30,30,30)"/></g>
<rect x="232" y="424.8" width="141.5" height="10.8" fill="#dedede" stroke="#858585" stroke-width="0.9"/>
<rect x="233.2" y="426" width="139.1" height="8.4" fill="#f7f7f7" filter="url(#bl)"/>
<text transform="translate(230.5,432.1) scale(1,1.1)" font-size="9" text-anchor="end">Ku80</text>
<g filter="url(#bl)"><rect x="233.4" y="429.2" width="7.8" height="4.3" rx="2.6" ry="2.2" fill="rgb(18,18,18)"/><rect x="242.2" y="429.4" width="7.6" height="4.1" rx="2.6" ry="2" fill="rgb(42,42,42)"/><rect x="250.9" y="429.3" width="7.7" height="4.2" rx="2.6" ry="2.1" fill="rgb(30,30,30)"/><rect x="259.7" y="429.3" width="7.7" height="4.2" rx="2.6" ry="2.1" fill="rgb(30,30,30)"/><rect x="268.4" y="429.3" width="7.7" height="4.2" rx="2.6" ry="2.1" fill="rgb(30,30,30)"/><rect x="277" y="429.1" width="7.9" height="4.5" rx="2.6" ry="2.3" fill="rgb(0,0,0)"/><rect x="285.8" y="429.2" width="7.8" height="4.4" rx="2.6" ry="2.2" fill="rgb(6,6,6)"/><rect x="294.5" y="429.2" width="7.8" height="4.3" rx="2.6" ry="2.2" fill="rgb(18,18,18)"/><rect x="303.2" y="429.2" width="7.8" height="4.4" rx="2.6" ry="2.2" fill="rgb(6,6,6)"/><rect x="312" y="429.2" width="7.8" height="4.3" rx="2.6" ry="2.2" fill="rgb(18,18,18)"/><rect x="320.7" y="429.2" width="7.8" height="4.3" rx="2.6" ry="2.2" fill="rgb(18,18,18)"/><rect x="329.4" y="429.2" width="7.8" height="4.4" rx="2.6" ry="2.2" fill="rgb(6,6,6)"/><rect x="338.1" y="429.2" width="7.8" height="4.4" rx="2.6" ry="2.2" fill="rgb(6,6,6)"/><rect x="346.9" y="429.2" width="7.8" height="4.4" rx="2.6" ry="2.2" fill="rgb(6,6,6)"/><rect x="355.6" y="429.2" width="7.8" height="4.4" rx="2.6" ry="2.2" fill="rgb(6,6,6)"/><rect x="364.3" y="429.2" width="7.8" height="4.4" rx="2.6" ry="2.2" fill="rgb(6,6,6)"/></g>
<text transform="translate(270.9,448) scale(1,1.1)" font-size="9.5" text-anchor="middle">Day 1</text>
<text transform="translate(344,448) scale(1,1.1)" font-size="9.5" text-anchor="middle">Day 7</text>
<path d="M237 454.7V452H300V454.7M308.8 454.7V452H372.2V454.7" fill="none" stroke="#222" stroke-width="0.9"/>
<text transform="translate(241.1,472.4) rotate(-45) scale(1,1.1)" font-size="6.6">Veh</text>
<text transform="translate(258.5,472.4) rotate(-45) scale(1,1.1)" font-size="6.6">Ribo</text>
<text transform="translate(276,472.4) rotate(-45) scale(1,1.1)" font-size="6.6">Bini</text>
<text transform="translate(293.4,472.4) rotate(-45) scale(1,1.1)" font-size="6.6">Combo</text>
<text transform="translate(310.9,472.4) rotate(-45) scale(1,1.1)" font-size="6.6">Veh</text>
<text transform="translate(328.4,472.4) rotate(-45) scale(1,1.1)" font-size="6.6">Ribo</text>
<text transform="translate(345.8,472.4) rotate(-45) scale(1,1.1)" font-size="6.6">Bini</text>
<text transform="translate(363.3,472.4) rotate(-45) scale(1,1.1)" font-size="6.6">Combo</text>
<path d="M236.8 472.9H249.5M254.3 472.9H267M271.7 472.9H284.5M289.2 472.9H301.9M306.6 472.9H319.4M324.1 472.9H336.8M341.6 472.9H354.3M359 472.9H371.8" stroke="#9a9a9a" stroke-width="0.7"/>
<rect x="232" y="474.6" width="141.5" height="10.2" fill="#ececec" stroke="#858585" stroke-width="0.9"/>
<rect x="233.2" y="475.8" width="139.1" height="7.8" fill="#f7f7f7" filter="url(#bl)"/>
<text transform="translate(230.5,482.5) scale(1,1.1)" font-size="9" text-anchor="end">pRB<tspan font-size="6" dy="-1.9">S780</tspan></text>
<g filter="url(#bl)"><rect x="233.7" y="478.1" width="7.2" height="3.2" rx="2.6" ry="1.6" fill="rgb(102,102,102)"/><rect x="242.1" y="477.7" width="7.8" height="4" rx="2.6" ry="2" fill="rgb(6,6,6)"/><rect x="251" y="477.9" width="7.5" height="3.6" rx="2.6" ry="1.8" fill="rgb(54,54,54)"/><rect x="259.9" y="478.1" width="7.2" height="3.2" rx="2.6" ry="1.6" fill="rgb(102,102,102)"/><rect x="268.4" y="477.9" width="7.6" height="3.7" rx="2.6" ry="1.8" fill="rgb(42,42,42)"/><rect x="277" y="477.6" width="7.9" height="4.1" rx="2.6" ry="2.1" fill="rgb(0,0,0)"/><rect x="285.9" y="477.9" width="7.5" height="3.6" rx="2.6" ry="1.8" fill="rgb(54,54,54)"/><rect x="294.7" y="478" width="7.4" height="3.4" rx="2.6" ry="1.7" fill="rgb(78,78,78)"/><rect x="303.2" y="477.7" width="7.8" height="4" rx="2.6" ry="2" fill="rgb(6,6,6)"/><rect x="311.9" y="477.7" width="7.8" height="4" rx="2.6" ry="2" fill="rgb(6,6,6)"/><rect x="320.7" y="477.7" width="7.8" height="3.9" rx="2.6" ry="2" fill="rgb(18,18,18)"/><rect x="329.5" y="477.9" width="7.6" height="3.7" rx="2.6" ry="1.8" fill="rgb(42,42,42)"/><rect x="338.1" y="477.7" width="7.8" height="4" rx="2.6" ry="2" fill="rgb(6,6,6)"/><rect x="346.9" y="477.7" width="7.8" height="4" rx="2.6" ry="2" fill="rgb(6,6,6)"/><rect x="355.9" y="478.1" width="7.3" height="3.3" rx="2.6" ry="1.6" fill="rgb(90,90,90)"/><rect x="364.9" y="478.5" width="6.6" height="2.5" rx="2.6" ry="1.2" fill="rgb(186,186,186)"/></g>
<rect x="232" y="486.3" width="141.5" height="10.2" fill="#ececec" stroke="#858585" stroke-width="0.9"/>
<rect x="233.2" y="487.5" width="139.1" height="7.8" fill="#f7f7f7" filter="url(#bl)"/>
<text transform="translate(230.5,494.2) scale(1,1.1)" font-size="9" text-anchor="end">pRB<tspan font-size="6" dy="-1.9">S795</tspan></text>
<g filter="url(#bl)"><rect x="233.6" y="489.7" width="7.4" height="3.4" rx="2.6" ry="1.7" fill="rgb(78,78,78)"/><rect x="242.4" y="489.8" width="7.3" height="3.3" rx="2.6" ry="1.6" fill="rgb(90,90,90)"/><rect x="250.9" y="489.4" width="7.8" height="3.9" rx="2.6" ry="2" fill="rgb(18,18,18)"/><rect x="260.1" y="490.1" width="6.7" height="2.6" rx="2.6" ry="1.3" fill="rgb(174,174,174)"/><rect x="268.5" y="489.7" width="7.4" height="3.5" rx="2.6" ry="1.7" fill="rgb(66,66,66)"/><rect x="277" y="489.4" width="7.8" height="4" rx="2.6" ry="2" fill="rgb(6,6,6)"/><rect x="285.9" y="489.6" width="7.6" height="3.7" rx="2.6" ry="1.8" fill="rgb(42,42,42)"/><rect x="294.6" y="489.5" width="7.7" height="3.8" rx="2.6" ry="1.9" fill="rgb(30,30,30)"/><rect x="303.2" y="489.3" width="7.9" height="4.1" rx="2.6" ry="2.1" fill="rgb(0,0,0)"/><rect x="312" y="489.5" width="7.7" height="3.8" rx="2.6" ry="1.9" fill="rgb(30,30,30)"/><rect x="320.7" y="489.4" width="7.8" height="3.9" rx="2.6" ry="2" fill="rgb(18,18,18)"/><rect x="329.6" y="489.7" width="7.4" height="3.5" rx="2.6" ry="1.7" fill="rgb(66,66,66)"/><rect x="338.2" y="489.5" width="7.7" height="3.8" rx="2.6" ry="1.9" fill="rgb(30,30,30)"/><rect x="346.9" y="489.4" width="7.8" height="3.9" rx="2.6" ry="2" fill="rgb(18,18,18)"/><rect x="356" y="489.9" width="7" height="3" rx="2.6" ry="1.5" fill="rgb(126,126,126)"/><rect x="364.8" y="490" width="7" height="2.9" rx="2.6" ry="1.4" fill="rgb(138,138,138)"/></g>
<rect x="232" y="498" width="141.5" height="10.2" fill="#ececec" stroke="#858585" stroke-width="0.9"/>
<rect x="233.2" y="499.2" width="139.1" height="7.8" fill="#f7f7f7" filter="url(#bl)"/>
<text transform="translate(230.5,505.9) scale(1,1.1)" font-size="9" text-anchor="end">pRB<tspan font-size="6" dy="-1.9">S807/811</tspan></text>
<g filter="url(#bl)"><rect x="233.6" y="501.4" width="7.4" height="3.4" rx="2.6" ry="1.7" fill="rgb(78,78,78)"/><rect x="242.1" y="501" width="7.9" height="4.1" rx="2.6" ry="2.1" fill="rgb(0,0,0)"/><rect x="251.2" y="501.6" width="7" height="3" rx="2.6" ry="1.5" fill="rgb(126,126,126)"/><rect x="260.1" y="501.8" width="6.8" height="2.7" rx="2.6" ry="1.3" fill="rgb(162,162,162)"/><rect x="268.3" y="501.1" width="7.8" height="3.9" rx="2.6" ry="2" fill="rgb(18,18,18)"/><rect x="277" y="501.1" width="7.8" height="4" rx="2.6" ry="2" fill="rgb(6,6,6)"/><rect x="286" y="501.4" width="7.4" height="3.4" rx="2.6" ry="1.7" fill="rgb(78,78,78)"/><rect x="295.1" y="501.8" width="6.7" height="2.6" rx="2.6" ry="1.3" fill="rgb(174,174,174)"/><rect x="303.3" y="501.2" width="7.7" height="3.8" rx="2.6" ry="1.9" fill="rgb(30,30,30)"/><rect x="312.1" y="501.3" width="7.5" height="3.6" rx="2.6" ry="1.8" fill="rgb(54,54,54)"/><rect x="320.8" y="501.3" width="7.6" height="3.7" rx="2.6" ry="1.8" fill="rgb(42,42,42)"/><rect x="329.6" y="501.4" width="7.4" height="3.5" rx="2.6" ry="1.7" fill="rgb(66,66,66)"/><rect x="338.2" y="501.2" width="7.7" height="3.8" rx="2.6" ry="1.9" fill="rgb(30,30,30)"/><rect x="347" y="501.2" width="7.7" height="3.8" rx="2.6" ry="1.9" fill="rgb(30,30,30)"/><rect x="356" y="501.6" width="7" height="3" rx="2.6" ry="1.5" fill="rgb(126,126,126)"/><rect x="364.9" y="501.8" width="6.7" height="2.6" rx="2.6" ry="1.3" fill="rgb(174,174,174)"/></g>
<rect x="232" y="509.7" width="141.5" height="10.2" fill="#ececec" stroke="#858585" stroke-width="0.9"/>
<rect x="233.2" y="510.9" width="139.1" height="7.8" fill="#f7f7f7" filter="url(#bl)"/>
<text transform="translate(230.5,517.6) scale(1,1.1)" font-size="9" text-anchor="end">RB</text>
<g filter="url(#bl)"><rect x="233.5" y="512.9" width="7.7" height="3.8" rx="2.6" ry="1.9" fill="rgb(30,30,30)"/><rect x="242.4" y="513.2" width="7.2" height="3.2" rx="2.6" ry="1.6" fill="rgb(102,102,102)"/><rect x="250.9" y="512.8" width="7.8" height="3.9" rx="2.6" ry="2" fill="rgb(18,18,18)"/><rect x="259.8" y="513.1" width="7.4" height="3.4" rx="2.6" ry="1.7" fill="rgb(78,78,78)"/><rect x="268.4" y="513" width="7.6" height="3.7" rx="2.6" ry="1.8" fill="rgb(42,42,42)"/><rect x="277.2" y="513" width="7.6" height="3.7" rx="2.6" ry="1.8" fill="rgb(42,42,42)"/><rect x="286" y="513.1" width="7.4" height="3.4" rx="2.6" ry="1.7" fill="rgb(78,78,78)"/><rect x="294.6" y="513" width="7.6" height="3.7" rx="2.6" ry="1.8" fill="rgb(42,42,42)"/><rect x="303.3" y="512.8" width="7.8" height="3.9" rx="2.6" ry="2" fill="rgb(18,18,18)"/><rect x="312.2" y="513.1" width="7.4" height="3.4" rx="2.6" ry="1.7" fill="rgb(78,78,78)"/><rect x="320.8" y="512.9" width="7.7" height="3.8" rx="2.6" ry="1.9" fill="rgb(30,30,30)"/><rect x="329.6" y="513" width="7.5" height="3.6" rx="2.6" ry="1.8" fill="rgb(54,54,54)"/><rect x="338.2" y="512.9" width="7.7" height="3.8" rx="2.6" ry="1.9" fill="rgb(30,30,30)"/><rect x="346.9" y="512.8" width="7.8" height="3.9" rx="2.6" ry="2" fill="rgb(18,18,18)"/><rect x="355.8" y="513.1" width="7.4" height="3.4" rx="2.6" ry="1.7" fill="rgb(78,78,78)"/><rect x="364.7" y="513.3" width="7" height="3" rx="2.6" ry="1.5" fill="rgb(126,126,126)"/></g>
<rect x="232" y="521.4" width="141.5" height="10.2" fill="#ececec" stroke="#858585" stroke-width="0.9"/>
<rect x="233.2" y="522.6" width="139.1" height="7.8" fill="#f7f7f7" filter="url(#bl)"/>
<text transform="translate(230.5,529.3) scale(1,1.1)" font-size="9" text-anchor="end">pERK<tspan font-size="6" dy="-1.9">T202/Y204</tspan></text>
<g filter="url(#bl)"><ellipse cx="237.3" cy="525.2" rx="3.8" ry="1.1" fill="rgb(54,54,54)"/><ellipse cx="237.3" cy="528" rx="3.8" ry="1.1" fill="rgb(54,54,54)"/><ellipse cx="246" cy="525.2" rx="3.8" ry="1.2" fill="rgb(30,30,30)"/><ellipse cx="246" cy="528" rx="3.8" ry="1.2" fill="rgb(30,30,30)"/><ellipse cx="254.8" cy="525.2" rx="3.8" ry="1.2" fill="rgb(42,42,42)"/><ellipse cx="254.8" cy="528" rx="3.8" ry="1.2" fill="rgb(42,42,42)"/><rect x="259.5" y="524.4" width="8" height="4.2" rx="2.6" ry="2.1" fill="rgb(0,0,0)"/><rect x="268.6" y="524.9" width="7.2" height="3.2" rx="2.6" ry="1.6" fill="rgb(102,102,102)"/><rect x="277.2" y="524.8" width="7.4" height="3.5" rx="2.6" ry="1.7" fill="rgb(66,66,66)"/><rect x="286" y="524.8" width="7.4" height="3.4" rx="2.6" ry="1.7" fill="rgb(78,78,78)"/><rect x="294.9" y="525" width="7" height="3" rx="2.6" ry="1.5" fill="rgb(126,126,126)"/><rect x="303.2" y="524.5" width="7.8" height="4" rx="2.6" ry="2" fill="rgb(6,6,6)"/><ellipse cx="315.9" cy="525.2" rx="3.8" ry="1.2" fill="rgb(42,42,42)"/><ellipse cx="315.9" cy="528" rx="3.8" ry="1.2" fill="rgb(42,42,42)"/><rect x="320.7" y="524.5" width="7.8" height="4" rx="2.6" ry="2" fill="rgb(6,6,6)"/><rect x="329.4" y="524.5" width="7.8" height="4" rx="2.6" ry="2" fill="rgb(6,6,6)"/><ellipse cx="342.1" cy="525.2" rx="3.6" ry="1" fill="rgb(102,102,102)"/><ellipse cx="342.1" cy="528" rx="3.6" ry="1" fill="rgb(102,102,102)"/><rect x="347.5" y="525.3" width="6.6" height="2.5" rx="2.6" ry="1.2" fill="rgb(186,186,186)"/><rect x="355.6" y="524.5" width="7.8" height="4" rx="2.6" ry="2" fill="rgb(6,6,6)"/><rect x="364.6" y="524.9" width="7.2" height="3.2" rx="2.6" ry="1.6" fill="rgb(102,102,102)"/></g>
<rect x="232" y="533.1" width="141.5" height="10.2" fill="#ececec" stroke="#858585" stroke-width="0.9"/>
<rect x="233.2" y="534.3" width="139.1" height="7.8" fill="#f7f7f7" filter="url(#bl)"/>
<text transform="translate(230.5,541) scale(1,1.1)" font-size="9" text-anchor="end">ERK</text>
<g filter="url(#bl)"><rect x="233.5" y="536.4" width="7.6" height="3.7" rx="2.6" ry="1.8" fill="rgb(42,42,42)"/><rect x="242.2" y="536.4" width="7.6" height="3.7" rx="2.6" ry="1.8" fill="rgb(42,42,42)"/><rect x="251.1" y="536.5" width="7.4" height="3.4" rx="2.6" ry="1.7" fill="rgb(78,78,78)"/><rect x="259.7" y="536.4" width="7.5" height="3.6" rx="2.6" ry="1.8" fill="rgb(54,54,54)"/><rect x="268.3" y="536.2" width="7.8" height="3.9" rx="2.6" ry="2" fill="rgb(18,18,18)"/><rect x="277.1" y="536.2" width="7.8" height="3.9" rx="2.6" ry="2" fill="rgb(18,18,18)"/><rect x="285.8" y="536.3" width="7.7" height="3.8" rx="2.6" ry="1.9" fill="rgb(30,30,30)"/><rect x="294.5" y="536.2" width="7.8" height="3.9" rx="2.6" ry="2" fill="rgb(18,18,18)"/><rect x="303.3" y="536.2" width="7.8" height="3.9" rx="2.6" ry="2" fill="rgb(18,18,18)"/><rect x="312" y="536.2" width="7.8" height="3.9" rx="2.6" ry="2" fill="rgb(18,18,18)"/><rect x="321.2" y="536.8" width="6.9" height="2.8" rx="2.6" ry="1.4" fill="rgb(150,150,150)"/><rect x="329.5" y="536.3" width="7.7" height="3.8" rx="2.6" ry="1.9" fill="rgb(30,30,30)"/><rect x="338.2" y="536.2" width="7.8" height="3.9" rx="2.6" ry="2" fill="rgb(18,18,18)"/><rect x="346.9" y="536.2" width="7.8" height="3.9" rx="2.6" ry="2" fill="rgb(18,18,18)"/><rect x="355.7" y="536.3" width="7.7" height="3.8" rx="2.6" ry="1.9" fill="rgb(30,30,30)"/><rect x="364.3" y="536.2" width="7.8" height="4" rx="2.6" ry="2" fill="rgb(6,6,6)"/></g>
<rect x="232" y="544.8" width="141.5" height="10.2" fill="#b4b4b4" stroke="#858585" stroke-width="0.9"/>
<rect x="233.2" y="546" width="139.1" height="7.8" fill="#c6c6c6" filter="url(#bl)"/>
<g filter="url(#bl)"><rect x="234.8" y="546.3" width="5" height="7.2" fill="#a8a8a8"/><rect x="243.5" y="546.3" width="5" height="7.2" fill="#a8a8a8"/><rect x="252.3" y="546.3" width="5" height="7.2" fill="#a8a8a8"/><rect x="261" y="546.3" width="5" height="7.2" fill="#a8a8a8"/><rect x="269.7" y="546.3" width="5" height="7.2" fill="#a8a8a8"/><rect x="278.5" y="546.3" width="5" height="7.2" fill="#a8a8a8"/><rect x="287.2" y="546.3" width="5" height="7.2" fill="#a8a8a8"/><rect x="295.9" y="546.3" width="5" height="7.2" fill="#a8a8a8"/><rect x="304.6" y="546.3" width="5" height="7.2" fill="#a8a8a8"/><rect x="313.4" y="546.3" width="5" height="7.2" fill="#a8a8a8"/><rect x="322.1" y="546.3" width="5" height="7.2" fill="#a8a8a8"/><rect x="330.8" y="546.3" width="5" height="7.2" fill="#a8a8a8"/><rect x="339.6" y="546.3" width="5" height="7.2" fill="#a8a8a8"/><rect x="348.3" y="546.3" width="5" height="7.2" fill="#a8a8a8"/><rect x="357" y="546.3" width="5" height="7.2" fill="#a8a8a8"/><rect x="365.8" y="546.3" width="5" height="7.2" fill="#a8a8a8"/></g>
<text transform="translate(230.5,552.7) scale(1,1.1)" font-size="9" text-anchor="end">pMEK<tspan font-size="6" dy="-1.9">S217/221</tspan></text>
<g filter="url(#bl)"><rect x="233.9" y="548.6" width="6.8" height="2.7" rx="2.6" ry="1.3" fill="rgb(162,162,162)"/><rect x="242.4" y="548.3" width="7.2" height="3.2" rx="2.6" ry="1.6" fill="rgb(102,102,102)"/><rect x="251.4" y="548.7" width="6.6" height="2.5" rx="2.6" ry="1.2" fill="rgb(186,186,186)"/><rect x="260.1" y="548.6" width="6.8" height="2.7" rx="2.6" ry="1.3" fill="rgb(162,162,162)"/><rect x="268.3" y="547.9" width="7.8" height="4" rx="2.6" ry="2" fill="rgb(6,6,6)"/><rect x="277" y="547.9" width="7.8" height="4" rx="2.6" ry="2" fill="rgb(6,6,6)"/><rect x="286.2" y="548.5" width="6.9" height="2.8" rx="2.6" ry="1.4" fill="rgb(150,150,150)"/><rect x="294.6" y="548.1" width="7.6" height="3.7" rx="2.6" ry="1.8" fill="rgb(42,42,42)"/><rect x="303.6" y="548.4" width="7" height="3" rx="2.6" ry="1.5" fill="rgb(126,126,126)"/><rect x="312.4" y="548.5" width="7" height="2.9" rx="2.6" ry="1.4" fill="rgb(138,138,138)"/><rect x="321.2" y="548.5" width="6.9" height="2.8" rx="2.6" ry="1.4" fill="rgb(150,150,150)"/><rect x="329.9" y="548.6" width="6.8" height="2.7" rx="2.6" ry="1.3" fill="rgb(162,162,162)"/><rect x="338.4" y="548.2" width="7.4" height="3.4" rx="2.6" ry="1.7" fill="rgb(78,78,78)"/><rect x="346.9" y="547.9" width="7.8" height="3.9" rx="2.6" ry="2" fill="rgb(18,18,18)"/><rect x="355.7" y="548.1" width="7.6" height="3.7" rx="2.6" ry="1.8" fill="rgb(42,42,42)"/><rect x="364.9" y="548.6" width="6.7" height="2.6" rx="2.6" ry="1.3" fill="rgb(174,174,174)"/></g>
<rect x="232" y="556.5" width="141.5" height="10.2" fill="#ececec" stroke="#858585" stroke-width="0.9"/>
<rect x="233.2" y="557.7" width="139.1" height="7.8" fill="#f7f7f7" filter="url(#bl)"/>
<text transform="translate(230.5,564.4) scale(1,1.1)" font-size="9" text-anchor="end">MEK</text>
<g filter="url(#bl)"><rect x="233.6" y="559.9" width="7.4" height="3.4" rx="2.6" ry="1.7" fill="rgb(78,78,78)"/><rect x="242.1" y="559.6" width="7.8" height="4" rx="2.6" ry="2" fill="rgb(6,6,6)"/><rect x="250.8" y="559.6" width="7.8" height="4" rx="2.6" ry="2" fill="rgb(6,6,6)"/><rect x="259.6" y="559.6" width="7.8" height="3.9" rx="2.6" ry="2" fill="rgb(18,18,18)"/><rect x="268.4" y="559.8" width="7.6" height="3.7" rx="2.6" ry="1.8" fill="rgb(42,42,42)"/><rect x="277.1" y="559.7" width="7.7" height="3.8" rx="2.6" ry="1.9" fill="rgb(30,30,30)"/><rect x="285.9" y="559.8" width="7.6" height="3.7" rx="2.6" ry="1.8" fill="rgb(42,42,42)"/><rect x="294.5" y="559.6" width="7.8" height="3.9" rx="2.6" ry="2" fill="rgb(18,18,18)"/><rect x="303.3" y="559.6" width="7.8" height="3.9" rx="2.6" ry="2" fill="rgb(18,18,18)"/><rect x="312" y="559.6" width="7.8" height="3.9" rx="2.6" ry="2" fill="rgb(18,18,18)"/><rect x="320.8" y="559.7" width="7.7" height="3.8" rx="2.6" ry="1.9" fill="rgb(30,30,30)"/><rect x="329.5" y="559.7" width="7.7" height="3.8" rx="2.6" ry="1.9" fill="rgb(30,30,30)"/><rect x="338.2" y="559.7" width="7.7" height="3.8" rx="2.6" ry="1.9" fill="rgb(30,30,30)"/><rect x="346.9" y="559.6" width="7.8" height="3.9" rx="2.6" ry="2" fill="rgb(18,18,18)"/><rect x="355.7" y="559.7" width="7.7" height="3.8" rx="2.6" ry="1.9" fill="rgb(30,30,30)"/><rect x="364.6" y="559.9" width="7.4" height="3.4" rx="2.6" ry="1.7" fill="rgb(78,78,78)"/></g>
<rect x="232" y="568.2" width="141.5" height="10.8" fill="#dedede" stroke="#858585" stroke-width="0.9"/>
<rect x="233.2" y="569.4" width="139.1" height="8.4" fill="#f7f7f7" filter="url(#bl)"/>
<text transform="translate(230.5,575.5) scale(1,1.1)" font-size="9" text-anchor="end">Ku80</text>
<g filter="url(#bl)"><rect x="233.4" y="572.8" width="7.8" height="3.9" rx="2.6" ry="2" fill="rgb(18,18,18)"/><rect x="242.2" y="572.9" width="7.7" height="3.8" rx="2.6" ry="1.9" fill="rgb(30,30,30)"/><rect x="250.9" y="572.9" width="7.7" height="3.8" rx="2.6" ry="1.9" fill="rgb(30,30,30)"/><rect x="259.7" y="572.9" width="7.7" height="3.8" rx="2.6" ry="1.9" fill="rgb(30,30,30)"/><rect x="268.3" y="572.8" width="7.8" height="3.9" rx="2.6" ry="2" fill="rgb(18,18,18)"/><rect x="277.1" y="572.9" width="7.7" height="3.8" rx="2.6" ry="1.9" fill="rgb(30,30,30)"/><rect x="285.8" y="572.9" width="7.7" height="3.8" rx="2.6" ry="1.9" fill="rgb(30,30,30)"/><rect x="294.5" y="572.8" width="7.8" height="3.9" rx="2.6" ry="2" fill="rgb(18,18,18)"/><rect x="303.3" y="572.8" width="7.8" height="3.9" rx="2.6" ry="2" fill="rgb(18,18,18)"/><rect x="312" y="572.8" width="7.8" height="3.9" rx="2.6" ry="2" fill="rgb(18,18,18)"/><rect x="320.8" y="572.9" width="7.7" height="3.8" rx="2.6" ry="1.9" fill="rgb(30,30,30)"/><rect x="329.5" y="572.9" width="7.7" height="3.8" rx="2.6" ry="1.9" fill="rgb(30,30,30)"/><rect x="338.2" y="572.9" width="7.7" height="3.8" rx="2.6" ry="1.9" fill="rgb(30,30,30)"/><rect x="347" y="572.9" width="7.7" height="3.8" rx="2.6" ry="1.9" fill="rgb(30,30,30)"/><rect x="355.7" y="572.9" width="7.7" height="3.8" rx="2.6" ry="1.9" fill="rgb(30,30,30)"/><rect x="364.5" y="573" width="7.5" height="3.6" rx="2.6" ry="1.8" fill="rgb(54,54,54)"/></g>
<text transform="translate(408.4,13.1) scale(1,1.1)" font-size="11.9" font-weight="bold" stroke="#000" stroke-width="0.35">C</text>
<text transform="translate(435.3,32.7) scale(1,1.1)" font-size="9" text-anchor="middle">Vehicle</text>
<text transform="translate(492.9,32.7) scale(1,1.1)" font-size="9" text-anchor="middle">Ribociclib</text>
<text transform="translate(435.6,157.7) scale(1,1.1)" font-size="9" text-anchor="middle">Binimetinib</text>
<text transform="translate(493.1,157.7) scale(1,1.1)" font-size="9" text-anchor="middle">Combo</text>
<clipPath id="c1"><rect x="406.2" y="35.5" width="56.1" height="55.7"/></clipPath>
<g clip-path="url(#c1)"><rect x="406.2" y="35.5" width="56.1" height="55.7" fill="#f2e5dc"/><rect x="406.2" y="35.5" width="56.1" height="55.7" filter="url(#spT)"/><g filter="url(#bl2)" transform="translate(406.2,35.5) scale(0.5)"><path d="M100 34h0M79 67h0M65 51h0M96 107h0M53 75h0M5 79h0M73 113h0M94 31h0M43 75h0M1 51h0M18 12h0M5 87h0M13 27h0M43 99h0M7 50h0M62 100h0M93 98h0M30 46h0M40 100h0M109 15h0M18 25h0M25 54h0M66 28h0M-2 46h0M41 63h0M109 78h0M58 69h0M77 4h0M103 88h0M100 90h0M44 44h0M10 71h0M5 6h0M22 17h0M38 4h0M-2 15h0M10 40h0M1 99h0M69 15h0M27 38h0M40 12h0M97 113h0M52 54h0M8 10h0M38 29h0M94 17h0M1 108h0M59 15h0M61 1h0M59 111h0M98 78h0M28 40h0M17 87h0M60 88h0M36 24h0M92 112h0M97 91h0M93 83h0M24 58h0M39 1h0M1 30h0M28 78h0M109 50h0M107 112h0M109 40h0M24 24h0" stroke="#d2b4a4" stroke-width="2.7" stroke-linecap="round"/><path d="M21 22h0M71 102h0M96 53h0M74 90h0M8 74h0M104 88h0M85 53h0M19 89h0M37 90h0M111 44h0M45 107h0M82 18h0M13 15h0M103 91h0M15 93h0M112 74h0M39 61h0M13 0h0M111 73h0M59 106h0M48 99h0M94 22h0M27 32h0M26 66h0M28 46h0M13 103h0M39 51h0M66 102h0M47 104h0M56 59h0M59 0h0M49 19h0M-2 90h0M18 53h0M82 62h0M36 58h0M63 89h0M10 63h0M27 30h0M88 57h0M63 86h0M104 49h0M69 56h0M58 78h0M51 60h0M54 107h0M79 99h0M107 28h0M63 107h0M96 14h0M12 49h0M6 26h0M6 75h0M89 102h0M16 81h0M75 14h0M101 110h0M24 108h0M44 54h0M113 94h0M17 48h0M58 37h0M21 35h0M82 0h0M62 49h0M0 36h0" stroke="#d2b4a4" stroke-width="3.4" stroke-linecap="round"/><path d="M71 57h0M5 112h0M90 110h0M10 29h0M3 88h0M29 13h0M47 103h0M93 28h0M15 104h0M64 79h0M8 5h0M78 47h0M6 106h0M72 91h0M8 97h0M6 98h0M51 37h0M62 105h0M29 13h0M59 26h0M11 17h0M4 21h0M34 33h0M86 31h0M56 19h0M38 0h0M27 0h0M83 62h0M20 53h0M107 10h0M93 48h0M56 94h0M44 56h0M78 111h0M38 94h0M80 71h0M45 38h0M4 13h0M6 83h0M28 17h0M8 95h0M99 75h0M31 26h0M32 51h0M16 49h0M29 109h0M111 61h0M26 109h0M34 39h0M-2 42h0M53 56h0M21 56h0M-1 28h0M8 44h0M3 1h0M33 25h0M66 59h0M85 74h0M81 99h0M43 36h0M112 15h0M82 72h0M3 94h0M102 70h0M83 92h0M14 58h0" stroke="#d2b4a4" stroke-width="4.1" stroke-linecap="round"/><path d="M95 91h0M66 101h0M79 25h0M-8 34h0M50 4h0M3 15h0M126 21h0M9 59h0M53 91h0M25 85h0M60 32h0M54 77h0M70 72h0M-1 58h0M70 13h0M54 110h0M45 86h0M52 52h0M-2 72h0M80 42h0M110 50h0M63 83h0M66 48h0M13 93h0M101 79h0M10 69h0M68 34h0M46 41h0M122 5h0M12 105h0M103 31h0M44 113h0M40 47h0M73 10h0M72 15h0M49 34h0M89 47h0M70 20h0M62 81h0M50 103h0M17 57h0M13 52h0M33 83h0M28 74h0M63 44h0M16 14h0M62 50h0M86 47h0M26 18h0M35 41h0M21 0h0M42 84h0M69 108h0M103 39h0M98 23h0M6 32h0M34 92h0M13 47h0M91 110h0M6 105h0M59 52h0M89 24h0M100 87h0M96 101h0M95 35h0M97 67h0M71 59h0M87 9h0M108 20h0M109 12h0M52 109h0M101 53h0M22 26h0M4 20h0M73 7h0M39 88h0M108 -2h0M-1 32h0M6 55h0M84 27h0" stroke="#8a4a26" stroke-width="3.1" stroke-linecap="round"/><path d="M85 30h0M69 101h0M104 5h0M105 4h0M37 67h0M5 17h0M11 7h0M55 108h0M2 75h0M41 36h0M39 18h0M101 63h0M42 87h0M91 8h0M21 60h0M36 83h0M71 27h0M45 41h0M91 5h0M66 37h0M47 69h0M105 32h0M67 91h0M6 93h0M46 59h0M27 48h0M106 19h0M84 93h0M69 36h0M40 88h0M44 95h0M73 54h0M17 47h0M60 44h0M92 40h0M-5 54h0M85 96h0M12 95h0M76 53h0M20 70h0M9 72h0M79 105h0M117 18h0M22 19h0M104 3h0M16 60h0M21 7h0M19 68h0M75 -1h0M80 38h0M113 9h0M33 49h0M93 45h0M70 7h0M69 41h0M14 9h0M74 44h0M61 37h0M52 95h0M98 113h0M21 82h0M32 19h0M47 49h0M17 0h0M72 103h0M46 60h0M94 41h0M11 55h0M110 21h0M82 7h0M84 61h0M78 101h0M98 70h0M21 53h0M3 106h0M100 36h0M102 3h0M86 2h0M12 67h0M71 33h0" stroke="#8a4a26" stroke-width="3.8" stroke-linecap="round"/><path d="M66 47h0M50 49h0M44 64h0M70 93h0M92 44h0M93 34h0M57 3h0M8 83h0M57 4h0M42 108h0M27 59h0M11 13h0M31 92h0M78 81h0M39 95h0M-8 64h0M28 109h0M67 69h0M101 33h0M85 71h0M90 29h0M4 97h0M51 58h0M102 27h0M98 83h0M42 41h0M110 -3h0M65 96h0M34 109h0M106 101h0M85 24h0M43 37h0M13 24h0M1 -2h0M10 39h0M75 51h0M94 16h0M110 17h0M58 42h0M110 14h0M63 38h0M50 106h0M27 102h0M11 24h0M86 63h0M107 14h0M28 57h0M69 57h0M66 38h0M81 -1h0M85 52h0M51 24h0M11 22h0M106 107h0M72 18h0M90 58h0M65 26h0M67 8h0M60 102h0M20 43h0M42 96h0M112 95h0M53 59h0M25 21h0M34 22h0M7 103h0M44 24h0M4 46h0M43 25h0M6 66h0M93 93h0M6 98h0M108 10h0M25 60h0M86 8h0M71 53h0M110 8h0M47 0h0M77 48h0M87 67h0" stroke="#8a4a26" stroke-width="4.5" stroke-linecap="round"/><path d="M31 84h0M2 58h0M69 32h0M22 46h0M40 91h0M112 -1h0M55 90h0M56 31h0M65 16h0M107 25h0M52 25h0M63 10h0M9 105h0M85 47h0M41 33h0M61 18h0M71 107h0M36 53h0M38 36h0M38 87h0M52 78h0M20 31h0M26 20h0M80 95h0M16 46h0M39 25h0M28 108h0M17 74h0M18 47h0M49 21h0M10 22h0M2 44h0M79 56h0M52 14h0M45 84h0M48 64h0M47 24h0M100 87h0M97 76h0M51 34h0M9 46h0M81 71h0M33 91h0M58 74h0M102 36h0M26 86h0M9 35h0M21 38h0M51 22h0M0 89h0M38 84h0M113 19h0M106 82h0M72 27h0M5 7h0M71 76h0M11 33h0M109 110h0M110 51h0M88 50h0M53 63h0M-2 57h0M93 52h0M-1 12h0M89 25h0M78 111h0M54 91h0M40 74h0M54 70h0M-7 88h0M5 94h0M89 14h0M72 0h0M57 36h0M7 44h0M89 22h0M60 68h0M112 8h0" stroke="#44200e" stroke-width="3.6" stroke-linecap="round"/><path d="M62 71h0M68 33h0M49 100h0M29 25h0M63 38h0M79 26h0M36 65h0M52 63h0M96 41h0M110 7h0M72 1h0M77 105h0M112 57h0M102 2h0M71 37h0M41 53h0M88 22h0M47 62h0M32 94h0M57 29h0M111 74h0M36 35h0M80 47h0M44 62h0M65 44h0M79 24h0M74 89h0M69 69h0M79 67h0M23 75h0M87 10h0M70 10h0M0 99h0M59 42h0M47 35h0M73 106h0M62 46h0M47 78h0M6 76h0M113 74h0M79 34h0M23 16h0M48 17h0M98 23h0M84 43h0M58 80h0M85 78h0M91 37h0M52 106h0M73 7h0M47 24h0M34 67h0M95 68h0M108 82h0M17 110h0M58 45h0M88 50h0M76 29h0M47 20h0M68 111h0M68 34h0M101 41h0M68 101h0M31 -2h0M44 105h0M89 31h0M11 67h0M20 45h0M56 60h0M54 42h0M82 111h0M5 44h0M106 66h0M13 14h0M88 25h0M102 100h0M53 66h0M59 100h0" stroke="#44200e" stroke-width="4.4" stroke-linecap="round"/><path d="M69 45h0M15 3h0M41 10h0M89 16h0M38 58h0M77 23h0M66 23h0M31 9h0M67 68h0M52 86h0M62 41h0M80 54h0M102 98h0M105 80h0M100 1h0M76 43h0M17 109h0M24 2h0M105 36h0M99 68h0M73 112h0M4 49h0M56 107h0M10 35h0M1 62h0M92 104h0M52 103h0M16 94h0M46 53h0M37 60h0M1 7h0M35 25h0M100 36h0M12 69h0M15 46h0M34 31h0M17 55h0M103 11h0M5 101h0M23 53h0M71 85h0M28 26h0M12 29h0M63 97h0M49 57h0M49 89h0M31 40h0M37 101h0M2 9h0M38 67h0M56 30h0M30 56h0M66 47h0M45 81h0M106 18h0M108 8h0M87 13h0M27 63h0M2 79h0M98 39h0M111 6h0M26 94h0M89 98h0M102 32h0M50 98h0M60 0h0M24 19h0M53 99h0M84 59h0M30 59h0M33 74h0M3 12h0M56 30h0M23 7h0M20 33h0M17 93h0M43 47h0M59 44h0" stroke="#44200e" stroke-width="5.2" stroke-linecap="round"/><path d="M107 88h0M37 26h0M37 48h0" stroke="#4a2410" stroke-width="5.9" stroke-linecap="round"/><path d="M112 91h0M104 92h0M96 4h0" stroke="#4a2410" stroke-width="6.4" stroke-linecap="round"/><path d="M58 109h0M107 27h0M47 71h0" stroke="#4a2410" stroke-width="6.9" stroke-linecap="round"/></g></g>
<rect x="406.6" y="36" width="55.2" height="54.8" fill="none" stroke="#3c3c3c" stroke-width="0.9"/>
<clipPath id="c2"><rect x="464.2" y="35.5" width="56.3" height="55.7"/></clipPath>
<g clip-path="url(#c2)"><rect x="464.2" y="35.5" width="56.3" height="55.7" fill="#f0e3da"/><rect x="464.2" y="35.5" width="56.3" height="55.7" filter="url(#spT)"/><g filter="url(#bl2)" transform="translate(464.2,35.5) scale(0.5)"><path d="M66 -1h0M39 97h0M26 62h0M55 31h0M113 32h0M88 16h0M6 99h0M49 5h0M43 49h0M84 11h0M24 109h0M84 16h0M37 39h0M77 69h0M97 93h0M58 83h0M85 86h0M53 89h0M81 104h0M13 98h0M-1 86h0M66 55h0M110 64h0M47 88h0M100 68h0M42 50h0M51 81h0M32 43h0M63 42h0M36 89h0M97 56h0M50 19h0M33 15h0M65 65h0M8 104h0M36 95h0M96 109h0M22 47h0M104 -1h0M4 63h0M56 104h0M88 60h0M114 58h0M58 77h0M43 39h0M67 39h0M109 76h0M59 9h0M42 44h0M63 64h0M101 109h0M55 49h0M71 113h0M38 59h0M93 18h0M35 111h0M94 57h0M11 101h0M78 93h0M113 100h0M47 16h0M32 57h0M57 20h0M19 71h0M68 39h0M114 71h0M3 45h0M90 33h0M79 -2h0M33 95h0M66 75h0M21 55h0M63 29h0" stroke="#d2b4a4" stroke-width="2.7" stroke-linecap="round"/><path d="M73 59h0M114 64h0M46 12h0M16 86h0M10 10h0M18 58h0M94 69h0M92 5h0M-1 87h0M36 81h0M39 18h0M29 9h0M103 65h0M39 50h0M43 4h0M102 65h0M110 49h0M70 27h0M3 105h0M98 34h0M103 92h0M33 68h0M110 55h0M109 26h0M43 81h0M24 34h0M100 54h0M90 26h0M18 39h0M20 110h0M32 63h0M11 60h0M43 45h0M6 12h0M94 39h0M27 20h0M31 25h0M2 75h0M38 16h0M80 9h0M29 94h0M13 49h0M96 91h0M17 39h0M82 41h0M110 22h0M109 56h0M25 50h0M13 80h0M28 102h0M67 40h0M27 68h0M23 99h0M12 57h0M61 29h0M88 42h0M75 64h0M34 43h0M8 18h0M97 35h0M75 11h0M64 40h0M56 32h0M6 34h0M24 13h0M82 31h0M45 103h0M88 100h0M98 13h0M30 1h0M77 75h0M39 46h0M75 79h0" stroke="#d2b4a4" stroke-width="3.4" stroke-linecap="round"/><path d="M27 96h0M39 71h0M19 11h0M104 83h0M81 3h0M3 17h0M21 33h0M42 3h0M34 72h0M19 95h0M64 81h0M28 48h0M78 38h0M-2 94h0M89 31h0M3 97h0M69 3h0M27 11h0M90 22h0M105 84h0M8 78h0M44 84h0M95 30h0M8 107h0M47 105h0M79 83h0M95 70h0M51 4h0M79 47h0M58 105h0M13 86h0M3 79h0M92 28h0M62 110h0M72 61h0M27 5h0M40 46h0M21 34h0M14 80h0M76 25h0M26 57h0M50 106h0M39 33h0M101 14h0M64 36h0M93 61h0M87 18h0M76 67h0M52 86h0M95 11h0M32 40h0M22 5h0M31 21h0M80 50h0M11 35h0M53 40h0M18 6h0M-1 112h0M86 8h0M82 111h0M64 11h0M55 48h0M20 61h0M-1 104h0M73 70h0M107 73h0M27 26h0M14 1h0M88 95h0M33 19h0M72 96h0M106 17h0M89 94h0" stroke="#d2b4a4" stroke-width="4.1" stroke-linecap="round"/><path d="M36 19h0M35 41h0M41 94h0M19 57h0M115 45h0M91 99h0M22 54h0M8 79h0M8 3h0M20 81h0M51 59h0M15 6h0M55 97h0M76 93h0M17 32h0M64 38h0M48 0h0M60 70h0M59 103h0M5 76h0M33 64h0M54 73h0M94 67h0M24 83h0M15 65h0M108 40h0M70 16h0M31 37h0M62 72h0M27 54h0M24 64h0M66 25h0M77 90h0M46 26h0M11 112h0M10 94h0M18 109h0M88 14h0M5 25h0M0 67h0M34 63h0M8 112h0M29 100h0M76 52h0M-1 27h0M56 11h0M3 68h0M48 69h0M55 37h0M95 16h0M90 54h0M34 84h0M20 -3h0M27 113h0M29 49h0M79 105h0M66 69h0M77 43h0M16 96h0M100 68h0M98 68h0M19 34h0M53 65h0M39 -1h0M37 0h0M113 3h0M32 16h0M24 83h0M14 79h0M103 9h0M25 26h0M31 90h0M107 77h0" stroke="#8a4a26" stroke-width="3.1" stroke-linecap="round"/><path d="M87 83h0M72 38h0M45 5h0M36 112h0M41 26h0M31 62h0M76 45h0M88 105h0M15 81h0M0 8h0M105 65h0M69 97h0M111 78h0M105 95h0M18 102h0M86 70h0M43 67h0M13 41h0M2 52h0M7 91h0M38 14h0M52 58h0M1 35h0M1 54h0M91 18h0M91 8h0M88 112h0M108 99h0M83 60h0M11 19h0M43 63h0M8 92h0M61 66h0M75 67h0M84 28h0M87 88h0M88 111h0M30 58h0M13 -1h0M74 87h0M113 24h0M8 1h0M3 47h0M28 68h0M103 98h0M89 59h0M81 49h0M23 103h0M43 22h0M1 74h0M75 45h0M5 63h0M105 107h0M24 27h0M33 41h0M48 30h0M56 111h0M54 106h0M109 14h0M8 -2h0M27 35h0M110 22h0M84 67h0M89 98h0M64 48h0M92 16h0M14 33h0M39 85h0M44 46h0M76 44h0M102 66h0M45 30h0M25 48h0" stroke="#8a4a26" stroke-width="3.8" stroke-linecap="round"/><path d="M56 64h0M22 114h0M38 34h0M72 61h0M60 95h0M7 110h0M111 24h0M64 99h0M9 50h0M109 29h0M3 50h0M96 49h0M82 44h0M47 110h0M43 45h0M56 32h0M28 68h0M26 21h0M60 67h0M45 62h0M50 75h0M65 53h0M53 38h0M42 93h0M99 39h0M57 41h0M6 90h0M106 86h0M50 70h0M54 24h0M58 35h0M73 85h0M59 64h0M98 73h0M36 40h0M48 45h0M42 40h0M59 33h0M30 32h0M11 71h0M18 58h0M81 111h0M15 56h0M56 69h0M68 99h0M28 29h0M59 55h0M76 111h0M41 3h0M41 80h0M23 38h0M-4 78h0M20 110h0M41 75h0M6 85h0M59 55h0M86 1h0M52 51h0M46 53h0M49 55h0M94 75h0M45 3h0M63 87h0M12 23h0M71 69h0M23 50h0M21 37h0M62 84h0M14 45h0M50 38h0M-1 112h0M36 79h0M33 44h0" stroke="#8a4a26" stroke-width="4.5" stroke-linecap="round"/><path d="M77 33h0M54 92h0M103 102h0M107 74h0M14 105h0M51 80h0M83 -1h0M18 12h0M70 25h0M67 50h0M50 99h0M35 31h0M36 29h0M55 30h0M-1 61h0M95 98h0M81 58h0M22 9h0M1 67h0M78 16h0M65 97h0M86 99h0M80 81h0M28 61h0M77 47h0M36 16h0M43 31h0M83 48h0M11 94h0M60 53h0M7 55h0M62 52h0M66 113h0M86 21h0M88 86h0M65 33h0M10 -2h0M86 102h0M50 27h0M19 89h0M55 -6h0M11 17h0M2 3h0M46 78h0M96 7h0M84 39h0M8 -1h0M96 33h0M18 105h0M60 12h0M17 60h0M41 21h0M22 13h0M47 33h0M24 105h0M65 78h0M80 35h0M47 70h0M19 12h0M25 67h0M81 5h0M13 36h0M68 9h0M93 51h0M-1 107h0M45 8h0M64 63h0M88 22h0M78 80h0M43 51h0M89 103h0M72 21h0M97 89h0M71 92h0M55 87h0M28 78h0M4 52h0M77 17h0M73 106h0M85 67h0M72 6h0M92 85h0M26 66h0M100 64h0M102 4h0M44 70h0" stroke="#44200e" stroke-width="3.5" stroke-linecap="round"/><path d="M38 42h0M25 76h0M75 102h0M34 33h0M109 99h0M46 33h0M54 66h0M70 32h0M36 90h0M61 26h0M59 36h0M28 79h0M36 51h0M44 56h0M57 112h0M69 67h0M61 51h0M92 27h0M10 62h0M58 41h0M102 75h0M12 38h0M25 51h0M59 76h0M56 40h0M5 94h0M63 50h0M102 82h0M2 36h0M61 40h0M65 3h0M85 72h0M74 35h0M63 58h0M77 42h0M81 78h0M76 82h0M50 63h0M100 17h0M18 34h0M44 58h0M79 29h0M53 70h0M45 77h0M35 90h0M11 105h0M56 45h0M26 29h0M53 62h0M86 30h0M105 59h0M52 38h0M57 51h0M108 29h0M59 0h0M95 94h0M106 17h0M61 55h0M44 107h0M38 43h0M39 19h0M60 58h0M103 13h0M6 46h0M97 75h0M45 64h0M46 21h0M-2 60h0M103 102h0M94 73h0M13 79h0M69 30h0M8 27h0M103 34h0M64 101h0M40 56h0M36 -2h0M14 30h0M64 8h0M54 56h0M64 24h0M25 62h0M31 110h0M81 24h0M72 51h0M45 35h0" stroke="#44200e" stroke-width="4.2" stroke-linecap="round"/><path d="M39 105h0M55 33h0M60 74h0M42 33h0M78 80h0M38 20h0M31 20h0M58 49h0M61 80h0M67 3h0M109 104h0M82 5h0M47 50h0M61 62h0M64 34h0M10 83h0M47 1h0M88 38h0M40 100h0M8 37h0M103 111h0M60 27h0M39 74h0M21 30h0M59 87h0M17 101h0M14 11h0M60 1h0M111 8h0M22 64h0M98 37h0M52 87h0M-1 22h0M101 9h0M108 49h0M105 77h0M87 64h0M98 17h0M98 112h0M53 100h0M12 55h0M80 90h0M-1 63h0M24 83h0M26 103h0M43 60h0M70 39h0M42 46h0M79 106h0M87 100h0M89 100h0M10 89h0M105 -2h0M63 93h0M70 67h0M7 4h0M32 44h0M70 68h0M96 22h0M84 76h0M69 8h0M77 8h0M29 22h0M33 86h0M9 30h0M60 4h0M68 58h0M46 69h0M105 83h0M104 95h0M2 77h0M48 99h0M20 65h0M32 59h0M17 17h0M74 53h0M86 85h0M92 0h0M38 61h0M93 -2h0M26 38h0M83 99h0M71 40h0M111 17h0M74 60h0M46 103h0" stroke="#44200e" stroke-width="4.9" stroke-linecap="round"/><path d="M78 110h0M8 23h0M32 103h0" stroke="#4a2410" stroke-width="5.9" stroke-linecap="round"/><path d="M0 28h0M81 112h0M19 49h0" stroke="#4a2410" stroke-width="6.4" stroke-linecap="round"/><path d="M78 78h0M85 85h0M27 28h0" stroke="#4a2410" stroke-width="6.9" stroke-linecap="round"/></g></g>
<rect x="464.6" y="36" width="55.4" height="54.8" fill="none" stroke="#3c3c3c" stroke-width="0.9"/>
<clipPath id="c3"><rect x="406.2" y="92.8" width="56.1" height="55.7"/></clipPath>
<g clip-path="url(#c3)"><rect x="406.2" y="92.8" width="56.1" height="55.7" fill="#ede6e3"/><rect x="406.2" y="92.8" width="56.1" height="55.7" filter="url(#spG)"/><g filter="url(#bl3)" opacity="0.3"><circle cx="407.8" cy="131.3" r="4.6" fill="#b7b5cc"/><circle cx="420.8" cy="146.5" r="5.9" fill="#b7b5cc"/><circle cx="439.4" cy="129.3" r="5.8" fill="#b7b5cc"/><circle cx="445.2" cy="109.7" r="4.2" fill="#b7b5cc"/><circle cx="410" cy="93.6" r="5.1" fill="#b7b5cc"/><circle cx="414.2" cy="99.1" r="5.5" fill="#b7b5cc"/></g><g filter="url(#bl2)" transform="translate(406.2,92.8) scale(0.5)"><path d="M24 5h0M97 13h0M110 40h0M82 14h0M90 27h0M41 58h0M11 27h0M90 31h0M42 86h0M24 20h0M23 42h0M40 72h0M53 98h0M25 1h0M49 11h0M51 80h0M9 12h0M18 25h0M49 12h0M6 40h0M53 106h0M62 6h0M24 84h0M63 98h0M110 97h0M11 107h0M59 26h0M18 98h0M23 8h0M105 51h0M83 7h0M51 35h0M22 75h0M40 12h0M112 54h0M19 -1h0M74 57h0M1 52h0M84 60h0M25 56h0M68 73h0M91 107h0M84 97h0M41 102h0M19 24h0M67 102h0M8 23h0M2 49h0M66 106h0M45 76h0M-1 107h0M25 53h0M57 107h0M55 112h0M70 23h0M95 21h0M114 51h0M24 109h0M45 38h0M76 1h0M41 17h0M94 -2h0M69 28h0M51 63h0M81 14h0M15 14h0M66 100h0M5 25h0M17 66h0M51 45h0M101 74h0M98 108h0M29 107h0M4 104h0M10 0h0M47 59h0M97 91h0M74 57h0M12 26h0M102 109h0M64 19h0M78 28h0M41 58h0M77 6h0M84 70h0M53 76h0M91 -1h0M53 76h0M80 73h0M25 48h0M109 22h0M46 109h0M103 25h0" stroke="#c8b0a4" stroke-width="2.7" stroke-linecap="round"/><path d="M87 13h0M24 23h0M29 2h0M14 45h0M47 7h0M66 107h0M65 39h0M80 48h0M18 54h0M0 76h0M41 109h0M87 94h0M110 21h0M87 33h0M28 93h0M68 96h0M100 66h0M21 0h0M60 82h0M6 -1h0M79 -2h0M25 29h0M81 112h0M0 11h0M107 110h0M15 37h0M59 35h0M47 53h0M28 4h0M8 17h0M71 78h0M90 82h0M38 55h0M20 105h0M4 16h0M78 42h0M81 24h0M91 91h0M9 66h0M20 80h0M91 89h0M64 14h0M20 65h0M11 71h0M26 28h0M47 60h0M82 2h0M82 24h0M32 72h0M78 69h0M103 22h0M34 74h0M28 16h0M24 87h0M94 81h0M109 90h0M34 34h0M82 4h0M69 8h0M4 57h0M16 106h0M100 51h0M21 12h0M59 40h0M81 59h0M88 10h0M6 43h0M54 27h0M76 24h0M35 53h0M81 87h0M41 50h0M106 106h0M70 10h0M51 71h0M30 2h0M112 103h0M13 52h0M70 33h0M85 87h0M49 8h0M44 9h0M110 4h0M31 87h0M14 10h0M17 59h0M95 18h0M18 86h0M47 37h0M12 26h0M111 11h0M28 83h0M102 102h0" stroke="#c8b0a4" stroke-width="3.4" stroke-linecap="round"/><path d="M53 108h0M68 31h0M52 81h0M83 13h0M21 109h0M93 37h0M27 27h0M53 112h0M15 97h0M35 18h0M85 37h0M47 93h0M98 64h0M-1 86h0M68 102h0M109 36h0M97 93h0M29 40h0M42 39h0M42 11h0M24 103h0M72 100h0M86 26h0M105 91h0M113 82h0M86 92h0M27 74h0M42 95h0M14 60h0M37 93h0M38 95h0M97 99h0M14 106h0M84 76h0M74 4h0M99 61h0M51 37h0M89 88h0M99 23h0M38 27h0M10 36h0M1 90h0M24 6h0M84 21h0M52 44h0M91 108h0M34 71h0M102 52h0M103 83h0M34 99h0M10 66h0M94 58h0M54 46h0M100 75h0M22 40h0M13 104h0M2 66h0M48 81h0M48 9h0M59 93h0M90 39h0M24 84h0M91 23h0M101 113h0M48 42h0M80 105h0M21 33h0M36 82h0M20 61h0M56 75h0M109 113h0M63 90h0M19 103h0M86 98h0M40 105h0M1 56h0M102 102h0M109 57h0M106 63h0M15 71h0M91 47h0M68 28h0M30 46h0M58 52h0M9 -1h0M81 84h0M26 27h0M58 18h0M68 102h0M21 66h0M82 84h0M81 80h0M30 95h0" stroke="#c8b0a4" stroke-width="4.1" stroke-linecap="round"/><path d="M4 107h0M15 51h0M114 37h0M26 21h0M69 72h0M50 14h0M12 32h0M96 87h0M53 30h0M53 57h0M25 39h0M80 95h0M52 94h0M3 89h0M57 80h0M109 70h0M113 75h0M97 89h0M45 19h0M99 67h0M30 58h0M56 60h0M53 36h0M69 89h0M2 18h0M71 -1h0M31 55h0M42 7h0M81 54h0M108 39h0M10 15h0M88 15h0M3 55h0M47 71h0M19 13h0M83 12h0M71 11h0M84 17h0M46 49h0M70 102h0M62 100h0M82 13h0M44 107h0M104 63h0M80 6h0M56 104h0M107 95h0M80 20h0M75 37h0M112 17h0M20 113h0M69 -2h0M36 72h0M91 37h0M61 108h0M113 55h0M3 47h0M82 60h0M106 8h0M10 30h0M63 70h0M73 9h0M82 23h0M30 41h0M108 113h0M64 91h0M51 98h0M108 53h0M80 44h0M99 83h0M39 96h0M28 56h0M23 67h0M7 32h0M69 108h0M86 72h0M28 17h0M24 97h0M88 71h0M97 49h0M20 0h0M25 51h0M110 105h0M27 43h0M84 44h0M63 9h0" stroke="#8a4a26" stroke-width="3.1" stroke-linecap="round"/><path d="M111 36h0M9 42h0M71 50h0M65 19h0M35 51h0M51 41h0M107 78h0M106 21h0M75 18h0M98 57h0M15 14h0M75 85h0M27 30h0M77 80h0M34 85h0M102 76h0M60 19h0M113 103h0M110 36h0M58 35h0M45 78h0M84 73h0M64 56h0M133 76h0M74 17h0M62 39h0M28 14h0M88 58h0M86 89h0M46 61h0M31 90h0M-1 101h0M88 94h0M48 53h0M22 88h0M68 19h0M22 -1h0M7 85h0M50 77h0M17 3h0M73 16h0M5 56h0M10 84h0M57 17h0M48 74h0M80 20h0M37 29h0M24 44h0M48 16h0M77 27h0M63 50h0M18 13h0M1 19h0M82 89h0M7 91h0M83 -3h0M74 20h0M81 57h0M92 22h0M76 -2h0M7 24h0M96 84h0M107 49h0M89 95h0M34 22h0M13 39h0M113 69h0M13 1h0M3 32h0M76 11h0M101 40h0M34 78h0M23 50h0M34 39h0M83 22h0M68 56h0M79 29h0M2 109h0M76 110h0M25 37h0M74 11h0M20 12h0M109 31h0M82 49h0M104 29h0M40 73h0" stroke="#8a4a26" stroke-width="3.8" stroke-linecap="round"/><path d="M20 87h0M12 102h0M44 67h0M105 80h0M83 11h0M92 8h0M104 25h0M65 35h0M61 29h0M78 24h0M46 40h0M11 112h0M74 75h0M75 58h0M54 112h0M92 20h0M94 13h0M100 34h0M79 6h0M19 -1h0M51 104h0M41 80h0M103 43h0M22 99h0M69 63h0M5 15h0M73 14h0M11 17h0M24 -2h0M21 59h0M28 18h0M17 104h0M5 41h0M35 44h0M68 64h0M73 -2h0M79 70h0M14 34h0M24 49h0M64 85h0M50 110h0M74 10h0M2 106h0M121 44h0M26 1h0M98 21h0M37 1h0M78 0h0M83 8h0M58 8h0M-1 5h0M108 74h0M68 100h0M61 41h0M94 106h0M93 11h0M92 93h0M-6 23h0M71 86h0M80 44h0M15 0h0M16 104h0M57 89h0M85 14h0M91 28h0M99 51h0M33 90h0M65 57h0M78 25h0M77 92h0M76 108h0M37 49h0M35 72h0M30 10h0M96 17h0M20 73h0M10 111h0M50 101h0M10 48h0M113 71h0M107 18h0M10 91h0M16 33h0M43 49h0M21 22h0M29 19h0" stroke="#8a4a26" stroke-width="4.5" stroke-linecap="round"/><path d="M75 26h0M46 85h0M11 85h0M55 1h0M14 24h0M106 43h0M6 107h0M49 48h0M95 53h0M86 58h0M23 83h0M26 62h0M7 41h0M112 0h0M71 95h0M13 33h0M83 22h0M74 74h0M36 67h0M13 75h0M93 98h0M11 82h0M108 91h0M19 44h0M46 12h0M33 110h0M24 110h0M95 43h0M30 11h0M73 37h0M69 40h0M18 15h0M12 0h0M75 89h0M49 86h0M27 51h0M92 40h0M8 1h0M93 62h0M6 31h0M49 66h0M110 63h0M61 74h0M36 47h0M66 81h0M20 48h0M105 43h0M113 37h0M27 103h0M68 26h0" stroke="#44200e" stroke-width="3.6" stroke-linecap="round"/><path d="M52 107h0M91 14h0M13 91h0M96 22h0M101 41h0M33 90h0M109 41h0M95 23h0M79 83h0M45 64h0M113 52h0M26 84h0M107 94h0M29 89h0M34 41h0M96 95h0M18 16h0M81 24h0M76 78h0M33 29h0M-1 48h0M-1 97h0M-2 109h0M94 35h0M47 75h0M70 40h0M113 100h0M102 69h0M54 15h0M102 51h0M75 37h0M90 87h0M41 10h0M80 105h0M75 106h0M50 51h0M35 11h0M92 27h0M102 13h0M14 7h0M54 3h0M93 5h0M57 8h0M79 40h0M55 44h0M57 35h0M114 21h0M-1 9h0M80 59h0M41 9h0" stroke="#44200e" stroke-width="4.4" stroke-linecap="round"/><path d="M109 56h0M48 56h0M32 -5h0M3 99h0M27 65h0M32 86h0M37 61h0M64 103h0M113 1h0M54 71h0M80 107h0M72 19h0M26 103h0M108 7h0M112 87h0M14 91h0M10 49h0M109 16h0M96 109h0M7 22h0M107 17h0M44 61h0M5 36h0M86 46h0M39 39h0M55 95h0M79 44h0M104 33h0M72 94h0M36 94h0M34 77h0M97 63h0M89 22h0M41 16h0M0 99h0M97 83h0M106 84h0M61 49h0M105 15h0M118 83h0M91 4h0M71 11h0M21 66h0M38 50h0M97 99h0M71 78h0M42 104h0M50 63h0M28 28h0M107 32h0" stroke="#44200e" stroke-width="5.2" stroke-linecap="round"/></g></g>
<rect x="406.6" y="93.2" width="55.2" height="54.8" fill="none" stroke="#3c3c3c" stroke-width="0.9"/>
<clipPath id="c4"><rect x="464.2" y="92.8" width="56.3" height="55.7"/></clipPath>
<g clip-path="url(#c4)"><rect x="464.2" y="92.8" width="56.3" height="55.7" fill="#e8e3e3"/><rect x="464.2" y="92.8" width="56.3" height="55.7" filter="url(#spG)"/><g filter="url(#bl3)" opacity="0.3"><circle cx="493" cy="103.4" r="4" fill="#b7b5cc"/><circle cx="513.8" cy="139.4" r="6.9" fill="#b7b5cc"/><circle cx="483.5" cy="128.5" r="5.7" fill="#b7b5cc"/><circle cx="504.9" cy="97.5" r="5.2" fill="#b7b5cc"/><circle cx="473" cy="115.6" r="4.4" fill="#b7b5cc"/><circle cx="482.5" cy="139.1" r="4.9" fill="#b7b5cc"/><circle cx="513.2" cy="136" r="5.8" fill="#b7b5cc"/><circle cx="498.7" cy="127.4" r="4.5" fill="#b7b5cc"/></g><g filter="url(#bl2)" transform="translate(464.2,92.8) scale(0.5)"><path d="M28 56h0M0 80h0M91 30h0M61 55h0M100 99h0M0 113h0M83 79h0M114 34h0M78 50h0M49 43h0M24 34h0M11 84h0M87 106h0M26 70h0M57 112h0M36 42h0M115 82h0M2 56h0M58 74h0M93 4h0M33 7h0M23 56h0M33 102h0M46 7h0M83 18h0M9 16h0M60 84h0M40 14h0M36 47h0M12 7h0M36 97h0M83 41h0M113 29h0M14 80h0M93 86h0M33 40h0M30 25h0M92 62h0M43 69h0M-1 78h0M48 71h0M56 64h0M24 22h0M72 63h0M8 98h0M65 85h0M73 55h0M49 73h0M22 111h0M53 101h0M32 77h0M97 31h0M113 44h0M1 32h0M105 20h0M15 46h0M33 86h0M73 51h0M105 38h0M75 110h0M83 24h0M25 88h0M91 28h0M31 57h0M109 14h0M41 72h0M57 47h0M8 105h0M56 40h0M58 93h0M3 47h0M71 28h0M19 56h0M104 26h0M28 78h0M25 27h0M27 21h0M59 13h0M77 55h0M98 41h0M5 75h0M25 58h0M54 3h0M38 8h0M39 54h0M58 100h0M109 71h0M58 15h0M33 65h0M7 53h0M90 22h0M88 0h0M55 54h0M21 56h0M111 78h0M52 110h0M24 86h0M37 15h0M20 62h0M73 40h0M7 10h0M61 32h0M71 91h0M52 29h0M20 18h0M22 38h0M66 20h0M60 96h0M3 13h0M59 54h0M108 74h0M28 104h0M46 63h0M30 51h0M22 98h0M26 1h0M72 76h0M55 40h0M103 48h0M79 56h0" stroke="#b4aab2" stroke-width="2.7" stroke-linecap="round"/><path d="M113 56h0M66 96h0M100 45h0M14 87h0M18 88h0M45 99h0M57 105h0M30 8h0M11 105h0M40 9h0M97 60h0M19 58h0M14 9h0M25 24h0M3 19h0M9 53h0M99 74h0M100 22h0M46 85h0M72 15h0M77 52h0M53 3h0M63 22h0M103 82h0M12 84h0M37 58h0M108 65h0M15 77h0M4 29h0M-1 65h0M47 4h0M36 71h0M26 58h0M58 15h0M33 68h0M36 11h0M56 18h0M2 63h0M16 4h0M81 98h0M77 103h0M104 25h0M76 50h0M50 11h0M20 91h0M90 40h0M90 104h0M111 47h0M23 82h0M50 65h0M90 106h0M-1 45h0M57 81h0M115 66h0M49 23h0M102 8h0M69 96h0M83 58h0M111 82h0M6 99h0M0 27h0M107 18h0M56 95h0M50 35h0M22 98h0M29 103h0M78 50h0M83 32h0M80 23h0M69 66h0M100 82h0M93 33h0M97 111h0M16 40h0M94 72h0M19 104h0M37 22h0M112 93h0M105 113h0M93 57h0M68 14h0M73 112h0M88 29h0M77 84h0M20 109h0M9 11h0M33 56h0M68 112h0M64 74h0M1 63h0M99 7h0M71 98h0M20 54h0M61 91h0M51 96h0M34 112h0M87 44h0M89 88h0M81 84h0M81 35h0M30 68h0M89 8h0M65 74h0M110 58h0M62 2h0M41 57h0M14 108h0M47 65h0M41 8h0M74 95h0M1 5h0M19 33h0M74 61h0M32 18h0M50 49h0M19 33h0M14 35h0M26 41h0M90 59h0M69 51h0" stroke="#b4aab2" stroke-width="3.4" stroke-linecap="round"/><path d="M64 68h0M36 98h0M9 19h0M107 47h0M108 28h0M4 84h0M30 12h0M51 73h0M3 33h0M81 10h0M4 80h0M60 77h0M40 62h0M50 14h0M6 98h0M71 78h0M75 48h0M3 105h0M31 104h0M19 103h0M61 13h0M27 76h0M109 49h0M71 94h0M-2 25h0M24 81h0M86 105h0M42 100h0M65 110h0M92 -1h0M96 25h0M106 2h0M49 13h0M71 13h0M68 74h0M74 80h0M111 79h0M62 62h0M-1 53h0M95 44h0M64 1h0M56 104h0M53 8h0M45 25h0M74 73h0M61 96h0M107 65h0M60 60h0M55 96h0M113 23h0M48 46h0M57 80h0M61 104h0M76 22h0M26 26h0M38 44h0M31 0h0M47 104h0M90 43h0M83 86h0M65 71h0M51 97h0M45 9h0M108 35h0M72 56h0M1 81h0M107 98h0M43 85h0M108 100h0M82 92h0M15 89h0M1 96h0M98 51h0M113 34h0M24 56h0M-2 23h0M46 28h0M37 60h0M7 60h0M79 72h0M6 62h0M81 42h0M65 103h0M86 38h0M1 32h0M0 4h0M5 62h0M60 51h0M67 37h0M60 27h0M110 84h0M89 96h0M26 19h0M81 91h0M107 37h0M94 53h0M89 27h0M8 111h0M61 97h0M5 90h0M94 38h0M46 96h0M20 77h0M94 61h0M13 49h0M77 81h0M81 112h0M1 96h0M35 5h0M29 26h0M73 24h0M25 9h0M66 11h0M49 113h0M107 90h0M16 42h0M60 76h0M9 63h0M56 6h0M26 90h0" stroke="#b4aab2" stroke-width="4.1" stroke-linecap="round"/><path d="M97 8h0M77 46h0M112 42h0M14 98h0M56 105h0M32 9h0M68 102h0M17 41h0M93 25h0M50 92h0M98 56h0M56 60h0M90 15h0M95 36h0M6 12h0M101 52h0M45 65h0M20 112h0M108 13h0M86 38h0M36 22h0M74 20h0M107 21h0M103 107h0M109 84h0M97 5h0M76 0h0M80 108h0M1 109h0M40 95h0M72 70h0M67 16h0M95 80h0M65 86h0M99 52h0M32 101h0M0 87h0M6 49h0M90 59h0M98 89h0M96 9h0M101 29h0M43 99h0M71 108h0M44 24h0M78 68h0M78 58h0M79 110h0M64 17h0M72 71h0M19 25h0M18 113h0M44 97h0M76 56h0M94 21h0M33 -1h0M22 111h0M25 3h0M38 43h0M25 106h0M43 9h0M10 60h0M55 98h0" stroke="#7e5a48" stroke-width="2.7" stroke-linecap="round"/><path d="M8 78h0M2 2h0M13 100h0M60 70h0M47 26h0M38 72h0M51 113h0M50 109h0M52 97h0M23 24h0M33 102h0M61 82h0M7 113h0M84 72h0M97 17h0M17 61h0M41 93h0M14 28h0M36 15h0M57 34h0M7 52h0M75 94h0M54 14h0M108 50h0M113 -1h0M19 60h0M20 68h0M92 59h0M75 21h0M65 96h0M33 100h0M50 11h0M64 110h0M107 111h0M30 21h0M45 11h0M47 27h0M46 47h0M15 74h0M15 88h0M79 112h0M56 108h0M22 19h0M44 52h0M79 35h0M75 111h0M5 105h0M0 76h0M65 109h0M86 10h0M107 47h0M110 41h0M83 63h0M63 113h0M3 33h0M22 17h0M44 103h0M48 52h0M46 29h0M33 110h0M49 83h0M81 98h0M79 3h0" stroke="#7e5a48" stroke-width="3.4" stroke-linecap="round"/><path d="M56 73h0M17 94h0M33 54h0M7 100h0M49 110h0M54 30h0M37 69h0M71 8h0M41 15h0M89 35h0M15 109h0M104 24h0M37 13h0M64 65h0M3 66h0M95 25h0M78 81h0M15 113h0M64 102h0M34 46h0M55 41h0M57 21h0M25 54h0M19 84h0M62 107h0M53 98h0M113 56h0M78 28h0M6 86h0M10 55h0M24 7h0M100 41h0M97 103h0M95 79h0M56 67h0M24 29h0M-1 44h0M82 82h0M25 96h0M31 10h0M32 96h0M72 103h0M109 13h0M-1 22h0M90 38h0M31 105h0M4 35h0M52 25h0M16 88h0M100 11h0M27 110h0M23 98h0M17 34h0M36 42h0M19 16h0M109 45h0M88 54h0M6 8h0M114 16h0M84 10h0M111 58h0M9 78h0M94 12h0" stroke="#7e5a48" stroke-width="4.1" stroke-linecap="round"/><path d="M57 53h0M85 95h0M9 36h0M8 44h0M37 25h0M67 62h0M37 39h0M71 91h0M94 108h0M26 54h0M23 78h0M-1 13h0M88 78h0M110 7h0M18 64h0M22 104h0M9 37h0M26 111h0M95 19h0M21 47h0M2 10h0M19 4h0M84 31h0M83 42h0M45 53h0" stroke="#44200e" stroke-width="3.2" stroke-linecap="round"/><path d="M2 103h0M6 50h0M5 76h0M52 42h0M68 47h0M4 95h0M66 -1h0M16 98h0M28 60h0M56 98h0M104 9h0M11 13h0M1 98h0M43 92h0M36 14h0M33 76h0M1 100h0M33 69h0M33 42h0M25 8h0M52 89h0M12 58h0M98 33h0M73 54h0M55 79h0" stroke="#44200e" stroke-width="4" stroke-linecap="round"/><path d="M47 0h0M39 2h0M4 107h0M44 35h0M110 8h0M0 61h0M40 27h0M17 43h0M42 10h0M70 3h0M43 58h0M0 15h0M38 76h0M88 20h0M96 113h0M104 109h0M112 29h0M110 46h0M77 19h0M66 39h0M12 106h0M97 88h0M108 68h0M97 23h0M15 10h0" stroke="#44200e" stroke-width="4.8" stroke-linecap="round"/></g></g>
<rect x="464.6" y="93.2" width="55.4" height="54.8" fill="none" stroke="#3c3c3c" stroke-width="0.9"/>
<text transform="translate(435.3,180.1) scale(1,1.1)" font-size="9" text-anchor="middle">Vehicle</text>
<text transform="translate(492.9,180.1) scale(1,1.1)" font-size="9" text-anchor="middle">Ribociclib</text>
<text transform="translate(435.6,303.1) scale(1,1.1)" font-size="9" text-anchor="middle">Binimetinib</text>
<text transform="translate(493.1,303.1) scale(1,1.1)" font-size="9" text-anchor="middle">Combo</text>
<clipPath id="c5"><rect x="406.3" y="183.4" width="55.7" height="55.7"/></clipPath>
<g clip-path="url(#c5)"><rect x="406.3" y="183.4" width="55.7" height="55.7" fill="#f0e9e4"/><rect x="406.3" y="183.4" width="55.7" height="55.7" filter="url(#spG)"/><g filter="url(#bl2)" transform="translate(406.3,183.4) scale(0.5)"><path d="M89 65h0M42 40h0M112 35h0M103 89h0M94 82h0M15 60h0M27 33h0M24 63h0M104 33h0M60 16h0M32 40h0M42 86h0M53 5h0M99 71h0M10 9h0M15 113h0M35 113h0M108 47h0M90 22h0M65 6h0M52 75h0M32 11h0M92 94h0M52 13h0M107 74h0M76 42h0M28 57h0M6 41h0M54 26h0M49 11h0M16 112h0M73 32h0M92 94h0M96 24h0M-1 41h0M62 86h0M64 29h0M48 57h0M50 4h0M6 15h0M5 75h0M95 91h0M5 1h0M70 79h0M37 68h0M21 9h0M32 60h0M12 52h0M26 108h0M97 98h0M81 67h0M26 77h0M78 23h0M112 34h0M41 89h0M40 61h0M22 89h0M62 82h0M65 55h0M20 81h0M56 113h0M0 65h0M22 35h0M57 58h0M13 98h0M41 105h0M14 39h0M20 52h0M99 110h0M89 62h0M98 6h0M54 84h0M21 54h0M60 4h0M51 82h0M65 18h0M113 40h0M6 22h0M100 61h0M93 62h0M73 78h0M113 22h0M59 8h0M45 3h0M45 103h0M97 79h0M111 61h0M97 56h0M11 51h0M80 36h0M90 96h0M5 57h0M79 88h0" stroke="#cdbab0" stroke-width="2.7" stroke-linecap="round"/><path d="M105 20h0M38 38h0M93 19h0M106 104h0M23 60h0M12 101h0M55 71h0M36 24h0M65 39h0M69 110h0M47 32h0M54 38h0M69 100h0M85 25h0M95 90h0M94 51h0M79 84h0M85 8h0M6 55h0M98 86h0M61 83h0M96 53h0M106 11h0M7 44h0M5 102h0M34 113h0M112 0h0M98 5h0M100 25h0M41 110h0M51 17h0M48 97h0M20 41h0M31 29h0M34 14h0M65 75h0M55 21h0M30 47h0M65 87h0M93 73h0M3 7h0M94 16h0M87 5h0M16 106h0M86 73h0M41 57h0M20 4h0M23 14h0M57 111h0M61 39h0M57 35h0M111 79h0M2 78h0M62 43h0M80 99h0M3 106h0M87 74h0M86 105h0M4 75h0M60 13h0M97 112h0M56 43h0M94 24h0M110 11h0M63 48h0M18 45h0M89 98h0M111 23h0M107 8h0M12 90h0M66 52h0M3 51h0M43 54h0M8 47h0M64 52h0M3 41h0M56 66h0M62 26h0M55 5h0M12 15h0M59 0h0M54 70h0M65 105h0M32 48h0M95 70h0M23 111h0M26 68h0M59 13h0M2 66h0M9 41h0M86 105h0M89 1h0M40 83h0" stroke="#cdbab0" stroke-width="3.2" stroke-linecap="round"/><path d="M11 46h0M20 19h0M80 88h0M49 70h0M9 54h0M41 68h0M59 85h0M78 67h0M40 52h0M21 15h0M52 22h0M68 111h0M26 46h0M94 55h0M0 44h0M99 48h0M52 97h0M84 87h0M23 38h0M89 31h0M17 105h0M9 39h0M105 8h0M15 75h0M104 35h0M75 20h0M113 62h0M94 11h0M74 -1h0M67 91h0M49 61h0M101 19h0M88 59h0M46 8h0M84 15h0M59 2h0M111 86h0M57 101h0M0 59h0M6 91h0M28 7h0M80 16h0M53 90h0M-1 82h0M81 71h0M103 63h0M91 13h0M6 78h0M5 20h0M28 78h0M23 34h0M56 13h0M49 11h0M88 57h0M6 55h0M5 25h0M75 16h0M23 12h0M81 37h0M1 6h0M41 106h0M40 40h0M31 39h0M112 105h0M107 66h0M108 28h0M24 92h0M94 15h0M92 29h0M8 -1h0M57 62h0M87 113h0M16 103h0M79 54h0M17 52h0M69 84h0M-2 110h0M29 85h0M110 82h0M95 79h0M109 52h0M86 57h0M62 49h0M18 55h0M13 28h0M11 44h0M0 91h0M27 2h0M60 21h0M44 107h0M104 109h0M35 17h0M59 110h0" stroke="#cdbab0" stroke-width="3.7" stroke-linecap="round"/><path d="M69 58h0M60 108h0M55 16h0M37 30h0M7 72h0M19 58h0M104 32h0M48 38h0M5 31h0M50 15h0M32 67h0M45 13h0M57 48h0M59 75h0M111 38h0M-1 8h0M82 46h0M7 91h0M63 72h0M89 85h0M80 94h0M102 82h0M3 8h0M26 97h0M24 98h0M91 49h0M18 9h0M104 7h0M62 11h0M75 29h0M85 38h0M84 97h0M85 64h0M4 60h0M57 68h0M32 113h0M74 96h0M110 101h0M86 12h0M77 105h0M66 109h0M97 31h0M41 82h0M39 87h0M10 100h0M64 109h0M36 13h0M92 77h0M49 31h0M102 71h0M60 1h0M26 79h0M0 96h0M60 35h0M31 56h0M95 23h0M112 67h0M95 63h0M86 93h0M57 105h0M14 79h0M99 101h0M67 67h0" stroke="#7a4a30" stroke-width="2.4" stroke-linecap="round"/><path d="M55 25h0M69 11h0M44 52h0M12 40h0M13 92h0M79 66h0M47 90h0M85 32h0M54 44h0M109 43h0M112 73h0M92 18h0M37 70h0M110 22h0M67 84h0M62 29h0M23 91h0M51 43h0M75 93h0M15 59h0M79 80h0M5 102h0M108 51h0M-1 -1h0M3 47h0M84 45h0M31 23h0M109 52h0M26 34h0M60 56h0M35 87h0M32 94h0M58 11h0M96 78h0M53 67h0M49 40h0M86 46h0M43 56h0M40 102h0M14 5h0M35 104h0M75 55h0M80 74h0M24 35h0M-1 30h0M94 22h0M81 85h0M102 27h0M45 -2h0M100 0h0M25 7h0M98 71h0M83 69h0M72 87h0M24 89h0M112 16h0M27 7h0M96 82h0M22 96h0M2 112h0M8 16h0M6 75h0M8 70h0" stroke="#7a4a30" stroke-width="2.9" stroke-linecap="round"/><path d="M33 96h0M-2 31h0M101 84h0M2 61h0M13 83h0M110 41h0M77 91h0M79 11h0M13 87h0M66 82h0M16 60h0M105 1h0M27 53h0M40 50h0M17 90h0M63 100h0M13 46h0M111 84h0M51 113h0M109 20h0M55 22h0M91 1h0M97 90h0M23 76h0M24 57h0M8 23h0M9 102h0M50 104h0M79 55h0M9 95h0M2 19h0M96 33h0M15 62h0M65 67h0M92 15h0M64 13h0M106 29h0M88 87h0M67 106h0M113 33h0M44 109h0M32 4h0M109 35h0M102 31h0M81 8h0M92 102h0M66 103h0M71 85h0M61 59h0M91 18h0M99 14h0M38 111h0M19 42h0M83 88h0M7 5h0M11 106h0M20 112h0M64 35h0M26 58h0M20 20h0M3 65h0M80 90h0M90 68h0" stroke="#7a4a30" stroke-width="3.4" stroke-linecap="round"/><path d="M7 66h0M62 1h0M43 26h0M57 106h0M27 1h0M52 80h0M33 62h0M4 43h0M93 13h0M10 92h0M64 30h0M44 -1h0M5 82h0M26 25h0M63 109h0M34 105h0M12 99h0M111 9h0M38 108h0M110 6h0M68 95h0M1 20h0M73 36h0M35 -1h0M-1 44h0M59 46h0M111 38h0M23 20h0M37 85h0M102 107h0M108 70h0M25 64h0M88 105h0M53 61h0M54 80h0M94 103h0M98 55h0M-1 101h0M22 97h0M44 108h0M28 83h0M15 99h0M59 46h0M59 15h0M95 39h0M108 88h0M37 85h0M46 37h0M2 22h0M66 75h0M8 105h0M105 80h0M96 40h0M93 28h0M66 25h0M35 90h0M61 90h0M10 86h0M36 79h0M45 54h0M20 99h0M78 19h0M24 35h0M40 111h0M101 46h0M93 76h0M11 71h0M67 84h0M62 6h0M78 39h0M68 69h0M106 48h0M30 40h0M18 89h0M88 34h0M67 36h0M112 8h0M76 36h0M21 64h0M87 26h0M91 86h0M47 19h0M49 46h0M96 65h0M9 13h0M81 108h0M91 1h0M16 50h0M78 111h0M33 52h0M107 96h0M21 4h0M106 107h0M-1 100h0M10 69h0M18 1h0" stroke="#33200f" stroke-width="2.7" stroke-linecap="round"/><path d="M5 27h0M21 106h0M55 113h0M104 38h0M30 37h0M60 80h0M5 80h0M57 25h0M5 39h0M16 63h0M31 52h0M-1 11h0M50 37h0M39 76h0M85 61h0M27 80h0M25 37h0M5 43h0M87 75h0M21 18h0M30 16h0M51 5h0M80 73h0M81 108h0M54 13h0M111 73h0M74 15h0M58 10h0M86 62h0M103 9h0M100 50h0M14 107h0M27 29h0M18 110h0M53 54h0M54 68h0M89 44h0M62 37h0M25 90h0M89 15h0M89 48h0M16 12h0M29 46h0M112 78h0M81 4h0M24 71h0M35 82h0M2 97h0M64 79h0M35 33h0M77 0h0M17 72h0M42 87h0M85 44h0M69 52h0M38 25h0M9 15h0M107 29h0M71 92h0M32 22h0M99 35h0M6 77h0M107 15h0M24 14h0M104 35h0M35 14h0M30 75h0M46 80h0M60 34h0M42 72h0M0 55h0M69 55h0M17 66h0M81 113h0M11 51h0M23 36h0M32 43h0M70 53h0M6 3h0M66 16h0M44 40h0M42 56h0M95 65h0M59 113h0M76 0h0M48 54h0M14 25h0M51 80h0M77 6h0M79 106h0M52 15h0M0 30h0M104 15h0M113 3h0M98 83h0M32 10h0" stroke="#33200f" stroke-width="3.3" stroke-linecap="round"/><path d="M33 111h0M35 32h0M9 79h0M32 66h0M24 91h0M43 89h0M21 81h0M66 52h0M91 15h0M95 23h0M9 28h0M81 95h0M40 41h0M94 14h0M109 82h0M109 19h0M38 34h0M88 16h0M2 51h0M31 80h0M89 -1h0M90 37h0M91 16h0M64 77h0M85 17h0M47 34h0M64 76h0M101 53h0M65 22h0M77 93h0M-1 78h0M84 10h0M108 97h0M101 64h0M85 31h0M58 105h0M90 23h0M40 45h0M3 50h0M69 20h0M61 16h0M98 68h0M51 110h0M89 91h0M47 54h0M25 81h0M98 25h0M3 69h0M86 73h0M36 67h0M21 95h0M96 66h0M84 10h0M25 34h0M0 7h0M24 86h0M75 54h0M43 50h0M106 26h0M91 31h0M104 16h0M22 75h0M19 7h0M89 57h0M62 107h0M14 91h0M102 89h0M86 12h0M59 56h0M82 74h0M111 85h0M79 30h0M4 4h0M81 67h0M112 107h0M20 72h0M21 66h0M7 78h0M46 87h0M76 47h0M59 46h0M64 39h0M25 45h0M18 93h0M16 113h0M89 95h0M53 23h0M21 10h0M90 33h0M35 98h0M77 50h0M5 7h0M35 89h0M60 32h0M47 55h0M10 96h0" stroke="#33200f" stroke-width="3.9" stroke-linecap="round"/></g></g>
<rect x="406.8" y="183.8" width="54.8" height="54.8" fill="none" stroke="#3c3c3c" stroke-width="0.9"/>
<clipPath id="c6"><rect x="464.2" y="183.4" width="56.3" height="55.7"/></clipPath>
<g clip-path="url(#c6)"><rect x="464.2" y="183.4" width="56.3" height="55.7" fill="#f1ebe6"/><rect x="464.2" y="183.4" width="56.3" height="55.7" filter="url(#spG)"/><g filter="url(#bl2)" transform="translate(464.2,183.4) scale(0.5)"><path d="M35 37h0M30 16h0M9 44h0M81 106h0M99 99h0M2 106h0M111 50h0M35 56h0M107 112h0M106 89h0M102 63h0M60 38h0M37 98h0M103 8h0M105 82h0M74 23h0M11 67h0M26 70h0M73 26h0M72 95h0M54 63h0M106 108h0M97 107h0M31 105h0M82 82h0M71 55h0M89 59h0M87 78h0M59 65h0M20 71h0M44 111h0M56 101h0M56 31h0M84 110h0M109 27h0M99 104h0M109 99h0M7 67h0M110 108h0M86 51h0M113 10h0M69 22h0M98 8h0M100 105h0M10 74h0M50 4h0M76 96h0M25 20h0M93 8h0M13 67h0M11 23h0M81 66h0M7 104h0M78 42h0M86 10h0M98 111h0M35 37h0M57 97h0M86 40h0M94 -1h0M97 108h0M114 91h0M11 57h0M114 70h0M106 108h0M14 95h0M77 109h0M113 67h0M63 11h0M37 97h0M2 54h0M13 4h0M10 27h0M58 106h0M18 22h0M75 24h0M8 58h0M85 31h0M86 15h0M105 56h0M68 71h0M33 77h0M14 4h0M40 87h0M12 35h0M31 10h0" stroke="#cfbdb4" stroke-width="2.7" stroke-linecap="round"/><path d="M110 62h0M12 50h0M104 96h0M44 18h0M92 44h0M34 95h0M35 42h0M23 87h0M99 0h0M105 105h0M63 38h0M68 3h0M111 33h0M3 73h0M108 16h0M106 30h0M60 79h0M92 34h0M99 9h0M103 70h0M46 67h0M51 4h0M91 98h0M54 103h0M33 21h0M62 98h0M106 2h0M48 15h0M111 16h0M-1 44h0M95 7h0M57 11h0M78 111h0M101 63h0M87 83h0M82 40h0M86 51h0M11 14h0M110 75h0M82 96h0M31 77h0M61 47h0M74 56h0M46 13h0M7 74h0M109 61h0M61 37h0M3 48h0M83 15h0M59 21h0M87 58h0M44 86h0M70 44h0M99 76h0M92 43h0M98 66h0M59 102h0M113 105h0M70 88h0M81 44h0M55 47h0M102 44h0M36 89h0M15 28h0M39 113h0M59 20h0M35 81h0M91 66h0M80 54h0M44 85h0M69 86h0M30 20h0M57 33h0M0 6h0M47 37h0M37 9h0M105 90h0M28 15h0M111 104h0M80 40h0M66 12h0M105 112h0M100 47h0M47 65h0M52 98h0M87 103h0" stroke="#cfbdb4" stroke-width="3.2" stroke-linecap="round"/><path d="M77 16h0M68 4h0M84 15h0M101 83h0M88 76h0M98 8h0M84 72h0M76 28h0M36 28h0M104 13h0M19 47h0M98 113h0M19 0h0M92 95h0M55 72h0M76 77h0M99 53h0M108 87h0M63 39h0M11 15h0M38 54h0M102 7h0M64 21h0M39 54h0M42 87h0M111 60h0M34 27h0M68 11h0M-1 76h0M70 109h0M50 9h0M94 64h0M109 37h0M33 15h0M5 7h0M93 24h0M23 111h0M16 64h0M23 102h0M88 52h0M18 66h0M19 73h0M49 80h0M87 28h0M81 19h0M19 104h0M4 96h0M53 2h0M12 79h0M16 29h0M25 91h0M109 20h0M93 21h0M85 91h0M35 7h0M114 74h0M39 52h0M64 82h0M26 33h0M45 76h0M83 74h0M57 50h0M94 83h0M53 6h0M55 47h0M59 44h0M54 47h0M77 38h0M19 75h0M49 49h0M98 107h0M1 45h0M34 113h0M99 56h0M63 33h0M64 49h0M3 16h0M10 100h0M58 84h0M97 49h0M49 94h0M87 -1h0M47 106h0M-1 -2h0M85 102h0M38 10h0" stroke="#cfbdb4" stroke-width="3.7" stroke-linecap="round"/><path d="M9 92h0M61 6h0M42 83h0M10 29h0M22 23h0M31 85h0M83 10h0M94 13h0M82 22h0M76 36h0M3 38h0M77 45h0M41 25h0M70 98h0M50 17h0M57 58h0M83 76h0M75 48h0M50 113h0M88 57h0M17 42h0M21 8h0M94 24h0M24 44h0M14 8h0M73 73h0M3 48h0M25 80h0M41 56h0M104 12h0M88 4h0M36 0h0M45 76h0M68 32h0M41 22h0M38 71h0M47 13h0M53 111h0M48 69h0M33 76h0M45 -2h0M13 49h0M54 71h0M32 105h0M82 53h0M86 55h0M80 5h0M58 84h0M33 25h0M48 113h0M85 48h0M25 94h0M77 30h0M114 52h0M18 85h0M76 4h0" stroke="#7e4a2e" stroke-width="2.4" stroke-linecap="round"/><path d="M52 106h0M58 10h0M8 7h0M36 87h0M68 102h0M8 52h0M1 18h0M46 51h0M95 51h0M93 47h0M15 96h0M19 100h0M3 31h0M72 56h0M2 36h0M111 97h0M61 17h0M9 24h0M94 90h0M12 10h0M94 82h0M40 81h0M24 29h0M89 49h0M20 11h0M80 78h0M87 6h0M24 12h0M72 14h0M29 48h0M5 42h0M107 105h0M26 63h0M51 85h0M86 77h0M11 38h0M111 3h0M89 111h0M82 33h0M62 58h0M73 18h0M91 107h0M31 48h0M103 22h0M47 70h0M34 105h0M57 39h0M111 35h0M78 41h0M32 49h0M76 58h0M108 91h0M60 26h0M103 60h0M26 105h0M46 38h0" stroke="#7e4a2e" stroke-width="2.9" stroke-linecap="round"/><path d="M106 113h0M53 109h0M113 68h0M29 16h0M57 58h0M87 13h0M110 111h0M10 58h0M2 84h0M14 39h0M37 81h0M42 83h0M65 98h0M20 34h0M50 80h0M52 52h0M110 21h0M0 62h0M64 60h0M83 50h0M48 35h0M20 47h0M60 40h0M23 70h0M58 1h0M40 39h0M61 107h0M25 51h0M109 94h0M75 58h0M83 76h0M101 86h0M25 74h0M100 30h0M60 85h0M1 26h0M68 34h0M94 19h0M57 45h0M19 95h0M39 8h0M32 85h0M78 19h0M48 25h0M33 87h0M26 0h0M63 16h0M56 54h0M25 22h0M99 10h0M99 62h0M75 81h0M90 35h0M10 25h0M59 55h0M60 19h0" stroke="#7e4a2e" stroke-width="3.4" stroke-linecap="round"/><path d="M50 31h0M1 79h0M48 23h0M113 45h0M45 54h0M15 10h0M36 86h0M110 47h0M45 24h0M6 91h0M79 30h0M47 106h0M20 24h0M45 84h0M60 24h0M1 60h0M51 4h0M72 18h0M75 18h0M62 104h0M5 67h0M35 51h0M1 3h0M97 46h0M12 46h0M73 2h0M95 38h0M27 95h0M52 13h0M20 81h0M62 48h0M84 36h0M18 72h0M23 30h0M5 71h0M77 98h0M19 86h0M29 56h0M58 82h0M10 46h0M91 27h0M4 52h0M37 89h0M55 79h0M79 8h0M76 44h0M52 73h0M46 7h0M69 74h0M110 108h0M3 77h0M9 81h0M113 42h0M97 81h0M56 103h0M32 35h0M91 45h0M12 65h0M68 43h0M29 33h0M89 68h0M11 105h0M47 65h0M111 38h0M79 63h0M70 46h0M92 56h0M48 69h0M78 19h0M36 35h0M61 113h0M101 46h0M47 26h0M86 42h0M19 89h0M82 38h0" stroke="#33200f" stroke-width="2.7" stroke-linecap="round"/><path d="M90 72h0M67 107h0M40 65h0M67 39h0M105 55h0M53 2h0M50 103h0M0 72h0M9 59h0M83 4h0M84 11h0M37 30h0M57 80h0M72 53h0M6 97h0M53 102h0M-1 103h0M77 50h0M59 41h0M27 67h0M12 13h0M70 108h0M113 51h0M90 38h0M114 37h0M30 41h0M67 30h0M18 95h0M6 48h0M35 60h0M68 50h0M32 0h0M66 99h0M59 76h0M32 85h0M33 80h0M37 10h0M80 108h0M45 105h0M104 97h0M61 91h0M70 100h0M19 46h0M20 36h0M0 53h0M55 51h0M17 3h0M113 52h0M8 24h0M86 8h0M78 35h0M106 20h0M99 36h0M111 90h0M80 87h0M23 106h0M29 60h0M42 15h0M108 46h0M92 35h0M40 47h0M20 6h0M47 41h0M58 6h0M3 36h0M30 5h0M60 87h0M56 111h0M64 -1h0M54 74h0M74 68h0M9 78h0M13 6h0M2 61h0M8 104h0M26 56h0" stroke="#33200f" stroke-width="3.3" stroke-linecap="round"/><path d="M32 1h0M109 33h0M70 100h0M88 14h0M43 102h0M41 75h0M50 85h0M76 43h0M97 33h0M35 78h0M27 54h0M86 24h0M36 59h0M71 15h0M17 27h0M38 91h0M46 62h0M17 81h0M93 66h0M92 66h0M69 31h0M1 66h0M38 86h0M55 23h0M9 27h0M72 62h0M6 53h0M40 113h0M97 90h0M25 100h0M40 73h0M94 25h0M108 32h0M73 105h0M18 13h0M90 63h0M8 113h0M90 86h0M87 5h0M18 2h0M57 0h0M6 107h0M14 91h0M64 39h0M65 79h0M37 59h0M79 67h0M37 36h0M24 47h0M-1 26h0M29 17h0M7 43h0M60 24h0M45 92h0M102 38h0M3 17h0M42 19h0M24 73h0M97 86h0M61 57h0M75 19h0M25 79h0M70 39h0M17 37h0M73 27h0M79 110h0M-1 12h0M82 87h0M11 34h0M98 21h0M43 107h0M49 101h0M57 63h0M57 56h0M90 12h0M30 95h0" stroke="#33200f" stroke-width="3.9" stroke-linecap="round"/></g></g>
<rect x="464.6" y="183.8" width="55.4" height="54.8" fill="none" stroke="#3c3c3c" stroke-width="0.9"/>
<clipPath id="c7"><rect x="406.3" y="239.1" width="55.7" height="55.3"/></clipPath>
<g clip-path="url(#c7)"><rect x="406.3" y="239.1" width="55.7" height="55.3" fill="#eee9e8"/><rect x="406.3" y="239.1" width="55.7" height="55.3" filter="url(#spG)"/><g filter="url(#bl2)" transform="translate(406.3,239.1) scale(0.5)"><path d="M57 105h0M113 23h0M88 6h0M73 32h0M57 35h0M18 71h0M95 55h0M57 40h0M110 13h0M99 34h0M17 47h0M65 6h0M19 57h0M23 96h0M11 5h0M110 82h0M101 56h0M45 70h0M61 30h0M19 102h0M24 2h0M46 33h0M58 12h0M53 35h0M24 99h0M21 91h0M106 64h0M79 96h0M103 84h0M36 26h0M48 83h0M77 39h0M47 91h0M90 59h0M11 32h0M31 50h0M58 49h0M112 97h0M14 83h0M58 8h0M31 59h0M44 88h0M87 24h0M-2 30h0M71 101h0M103 36h0M1 16h0M59 105h0M0 9h0M34 98h0M41 17h0M13 98h0M61 87h0M52 22h0M11 8h0M12 46h0M10 94h0M104 73h0M113 71h0M99 86h0M46 97h0M73 65h0M52 31h0M19 25h0M68 76h0M27 44h0M68 74h0M48 37h0M99 23h0M76 51h0M23 57h0M112 11h0M62 56h0M28 8h0M69 36h0M69 49h0M105 37h0M71 66h0M45 48h0M47 74h0M61 75h0M108 51h0M69 44h0M50 -1h0M44 63h0M7 75h0M57 112h0M53 69h0M88 109h0M24 80h0M109 60h0M40 51h0M26 6h0" stroke="#c8bab8" stroke-width="2.7" stroke-linecap="round"/><path d="M37 3h0M44 48h0M-1 60h0M70 30h0M35 41h0M105 37h0M36 8h0M91 61h0M43 32h0M56 9h0M33 22h0M84 88h0M67 14h0M12 8h0M58 85h0M41 38h0M105 33h0M32 71h0M3 104h0M69 108h0M58 69h0M49 68h0M16 81h0M-1 71h0M15 75h0M92 5h0M5 38h0M37 66h0M99 15h0M12 111h0M75 111h0M48 47h0M4 64h0M110 45h0M81 25h0M108 14h0M32 67h0M74 50h0M33 59h0M74 96h0M82 46h0M111 55h0M74 31h0M18 26h0M98 63h0M29 31h0M92 35h0M22 47h0M102 105h0M91 97h0M42 28h0M58 -1h0M104 24h0M12 63h0M12 92h0M48 57h0M100 45h0M106 57h0M43 12h0M50 80h0M7 110h0M26 73h0M96 8h0M25 99h0M105 4h0M67 81h0M37 91h0M68 47h0M18 101h0M111 34h0M79 65h0M80 18h0M25 88h0M4 8h0M103 9h0M38 75h0M12 101h0M79 80h0M30 52h0M107 10h0M45 62h0M76 71h0M75 17h0M64 89h0M85 4h0M81 52h0M24 27h0M38 8h0M14 40h0M15 37h0M74 33h0M13 48h0M26 24h0" stroke="#c8bab8" stroke-width="3.2" stroke-linecap="round"/><path d="M106 25h0M47 69h0M70 23h0M18 41h0M23 59h0M82 25h0M67 32h0M19 81h0M86 12h0M3 97h0M65 64h0M64 19h0M-1 40h0M100 72h0M108 7h0M89 100h0M111 102h0M78 108h0M32 60h0M110 101h0M54 33h0M53 21h0M52 95h0M12 83h0M51 70h0M94 60h0M91 25h0M72 5h0M89 54h0M44 23h0M0 26h0M48 110h0M100 78h0M27 85h0M113 69h0M40 48h0M78 53h0M36 23h0M51 56h0M71 17h0M52 33h0M37 64h0M23 -2h0M41 41h0M78 67h0M55 8h0M104 33h0M45 39h0M71 107h0M20 23h0M17 103h0M26 6h0M10 38h0M84 8h0M75 100h0M35 84h0M58 72h0M92 8h0M5 107h0M30 107h0M43 16h0M93 20h0M11 55h0M82 21h0M75 108h0M57 111h0M79 104h0M-2 59h0M60 56h0M86 86h0M111 12h0M17 69h0M2 0h0M34 106h0M107 2h0M90 11h0M103 8h0M62 105h0M3 108h0M25 41h0M29 7h0M72 49h0M50 96h0M12 39h0M66 47h0M46 66h0M62 11h0M50 100h0M65 82h0M30 -1h0M91 23h0M58 15h0M84 95h0" stroke="#c8bab8" stroke-width="3.7" stroke-linecap="round"/><path d="M0 99h0M67 81h0M22 96h0M20 85h0M54 56h0M37 104h0M17 42h0M61 14h0M19 71h0M36 10h0M5 103h0M95 88h0M86 36h0M28 38h0M40 5h0M80 100h0M53 44h0M79 85h0M37 84h0M100 25h0M48 25h0M103 105h0M105 61h0M87 25h0M63 30h0M98 74h0M57 49h0M78 1h0M103 -1h0M19 100h0M46 97h0M31 109h0M14 62h0M17 27h0M39 74h0M17 55h0M40 96h0M59 63h0M67 27h0M24 83h0M3 62h0M104 111h0M82 80h0M37 51h0M46 43h0M78 47h0M55 9h0M100 4h0M107 61h0M36 111h0M103 3h0M80 45h0M55 104h0M74 13h0M96 60h0M89 4h0" stroke="#7a4a30" stroke-width="2.4" stroke-linecap="round"/><path d="M112 62h0M16 111h0M53 16h0M101 6h0M85 18h0M0 14h0M88 67h0M10 97h0M79 102h0M64 66h0M65 96h0M9 102h0M84 81h0M63 103h0M76 36h0M49 33h0M-2 69h0M65 90h0M88 14h0M12 12h0M85 6h0M112 30h0M66 96h0M107 35h0M68 62h0M63 63h0M112 47h0M33 92h0M71 30h0M102 -1h0M52 30h0M92 73h0M55 65h0M39 85h0M71 5h0M2 22h0M86 7h0M23 8h0M2 34h0M112 26h0M107 18h0M69 36h0M4 35h0M50 73h0M78 19h0M111 61h0M60 101h0M82 3h0M31 56h0M27 101h0M57 59h0M34 67h0M96 24h0M56 50h0M49 106h0M81 78h0" stroke="#7a4a30" stroke-width="2.9" stroke-linecap="round"/><path d="M43 33h0M42 107h0M18 74h0M12 58h0M15 110h0M88 1h0M93 64h0M59 92h0M33 5h0M106 21h0M67 24h0M83 12h0M108 17h0M9 -2h0M94 26h0M0 36h0M102 79h0M111 50h0M16 99h0M28 17h0M96 82h0M27 26h0M1 35h0M69 44h0M9 0h0M95 14h0M19 40h0M32 22h0M106 80h0M29 35h0M27 67h0M28 97h0M52 19h0M103 104h0M104 99h0M61 106h0M1 94h0M74 62h0M11 12h0M113 103h0M48 17h0M101 62h0M49 -2h0M80 -2h0M-1 51h0M2 85h0M43 9h0M100 -2h0M71 101h0M59 80h0M14 82h0M64 105h0M8 44h0M26 74h0M2 97h0M53 35h0" stroke="#7a4a30" stroke-width="3.4" stroke-linecap="round"/><path d="M111 8h0M27 85h0M95 14h0M27 27h0M46 61h0M92 107h0M93 34h0M12 49h0M76 48h0M106 105h0M53 67h0M112 76h0M40 88h0M31 50h0M77 27h0M88 68h0M17 73h0M4 57h0M54 87h0M96 89h0M100 29h0M50 87h0M8 14h0M59 63h0M9 97h0M93 104h0M111 35h0M73 1h0M37 76h0M90 11h0M101 59h0M90 21h0M44 39h0M88 27h0M100 22h0M109 77h0M59 112h0M108 60h0M71 25h0M102 2h0M49 16h0M53 47h0M23 38h0M35 52h0M23 27h0M34 21h0M85 83h0M90 60h0M66 58h0M38 19h0M58 45h0M43 112h0M17 9h0M54 84h0M76 65h0M29 35h0M29 16h0M40 79h0M28 21h0M67 27h0M25 3h0M49 18h0M18 88h0M2 89h0M106 29h0M8 46h0M105 73h0M30 77h0M43 22h0M60 68h0" stroke="#33200f" stroke-width="2.7" stroke-linecap="round"/><path d="M14 89h0M76 44h0M90 67h0M26 83h0M110 93h0M49 19h0M54 60h0M85 83h0M61 18h0M51 82h0M82 23h0M24 39h0M41 33h0M81 42h0M54 56h0M70 79h0M42 27h0M80 92h0M102 77h0M43 41h0M22 29h0M61 28h0M87 92h0M28 102h0M23 41h0M45 6h0M49 100h0M33 82h0M77 44h0M63 105h0M32 111h0M-1 50h0M63 85h0M32 15h0M0 107h0M105 54h0M64 112h0M95 105h0M2 88h0M112 75h0M76 95h0M113 41h0M107 10h0M37 27h0M32 98h0M24 78h0M83 1h0M106 66h0M90 30h0M102 44h0M75 83h0M63 60h0M59 84h0M18 70h0M91 26h0M12 108h0M61 23h0M33 1h0M84 18h0M9 68h0M21 104h0M58 33h0M86 37h0M107 103h0M101 65h0M67 17h0M31 8h0M1 98h0M67 62h0M106 20h0" stroke="#33200f" stroke-width="3.3" stroke-linecap="round"/><path d="M108 18h0M92 105h0M62 26h0M61 95h0M33 110h0M21 21h0M96 15h0M53 61h0M68 53h0M80 57h0M37 17h0M42 32h0M65 32h0M99 51h0M13 76h0M50 105h0M96 88h0M62 85h0M36 112h0M83 9h0M79 2h0M38 66h0M58 10h0M95 35h0M0 72h0M65 21h0M34 9h0M92 106h0M37 21h0M99 110h0M103 20h0M56 96h0M82 95h0M56 10h0M91 11h0M26 35h0M53 20h0M91 15h0M27 96h0M92 26h0M43 83h0M31 77h0M8 -2h0M84 79h0M62 98h0M76 42h0M19 45h0M103 3h0M65 112h0M45 95h0M41 67h0M105 55h0M63 60h0M71 96h0M22 16h0M85 73h0M3 92h0M9 99h0M13 13h0M20 29h0M7 92h0M40 100h0M44 92h0M26 107h0M69 51h0M27 91h0M91 91h0M23 76h0M98 62h0M100 3h0" stroke="#33200f" stroke-width="3.9" stroke-linecap="round"/></g></g>
<rect x="406.8" y="239.5" width="54.8" height="54.4" fill="none" stroke="#3c3c3c" stroke-width="0.9"/>
<clipPath id="c8"><rect x="464.2" y="239.1" width="56.3" height="55.3"/></clipPath>
<g clip-path="url(#c8)"><rect x="464.2" y="239.1" width="56.3" height="55.3" fill="#dcd6e2"/><rect x="464.2" y="239.1" width="56.3" height="55.3" filter="url(#spG)"/><g filter="url(#bl3)" opacity="0.35"><circle cx="499.9" cy="244.2" r="7.3" fill="#b7b5cc"/><circle cx="489.6" cy="272.3" r="8.6" fill="#b7b5cc"/><circle cx="514.1" cy="282.5" r="6.1" fill="#b7b5cc"/><circle cx="492.3" cy="245.9" r="8.4" fill="#b7b5cc"/><circle cx="504.2" cy="260.6" r="8.4" fill="#b7b5cc"/><circle cx="502.2" cy="267.7" r="8" fill="#b7b5cc"/><circle cx="498.7" cy="251.2" r="6.9" fill="#b7b5cc"/><circle cx="466.8" cy="293.9" r="6.3" fill="#b7b5cc"/></g><g filter="url(#bl2)" transform="translate(464.2,239.1) scale(0.5)"><path d="M66 90h0M27 40h0M90 45h0M55 88h0M74 106h0M91 112h0M57 66h0M108 81h0M40 0h0M96 47h0M13 97h0M88 28h0M45 -2h0M56 44h0M35 8h0M24 77h0M110 36h0M7 103h0M92 27h0M37 36h0M114 43h0M52 106h0M76 31h0M102 2h0M67 64h0M89 71h0M24 23h0M97 67h0M94 36h0M88 28h0M101 -1h0M108 17h0M97 16h0M58 46h0M29 85h0M16 6h0M83 65h0M11 97h0M14 81h0M21 20h0M63 103h0M114 77h0M11 25h0M111 110h0M74 102h0M50 36h0M48 58h0M73 44h0M59 55h0M106 5h0M76 22h0M28 58h0M11 6h0M50 42h0M68 15h0M44 12h0M35 99h0M31 44h0M-1 50h0M15 23h0M85 71h0M73 106h0M25 73h0M49 108h0M33 75h0M41 32h0M68 107h0M5 10h0M59 13h0M12 98h0M28 106h0M60 3h0M11 26h0M100 67h0M25 48h0M42 69h0M108 88h0M83 51h0M46 110h0M27 49h0M17 86h0M35 0h0M71 55h0M2 13h0M114 102h0M22 97h0M39 103h0M73 1h0M53 49h0M17 78h0M95 57h0M3 92h0M92 72h0M113 46h0M30 83h0M25 89h0M71 84h0M72 78h0M29 58h0M7 11h0M104 112h0M112 46h0M104 47h0M62 86h0M20 26h0M66 73h0" stroke="#aaa0bc" stroke-width="2.7" stroke-linecap="round"/><path d="M33 66h0M27 56h0M24 100h0M16 104h0M50 91h0M47 88h0M12 78h0M19 84h0M80 105h0M110 98h0M13 4h0M67 102h0M31 108h0M23 99h0M12 40h0M42 80h0M77 74h0M71 11h0M112 23h0M92 2h0M58 56h0M-1 55h0M28 56h0M104 84h0M38 25h0M103 54h0M16 54h0M97 40h0M84 48h0M87 20h0M57 -1h0M41 80h0M29 84h0M52 87h0M26 111h0M14 68h0M84 79h0M16 35h0M76 76h0M1 3h0M95 80h0M89 89h0M76 53h0M92 21h0M64 79h0M62 113h0M80 59h0M50 70h0M47 70h0M34 97h0M77 0h0M29 9h0M112 65h0M107 75h0M111 35h0M19 16h0M15 74h0M26 76h0M93 75h0M36 90h0M112 62h0M36 107h0M9 70h0M25 103h0M16 39h0M111 37h0M60 100h0M110 27h0M104 46h0M41 86h0M71 8h0M90 41h0M48 95h0M64 87h0M71 34h0M59 105h0M2 4h0M97 112h0M86 23h0M85 81h0M94 -2h0M16 24h0M78 34h0M17 112h0M106 100h0M29 79h0M101 86h0M37 48h0M0 106h0M57 105h0M83 16h0M4 70h0M65 38h0M35 35h0M97 111h0M18 90h0M110 75h0M102 21h0M99 38h0M34 45h0M91 47h0M57 105h0M4 106h0M57 106h0M19 2h0M7 13h0" stroke="#aaa0bc" stroke-width="3.2" stroke-linecap="round"/><path d="M47 70h0M84 61h0M47 51h0M56 40h0M99 55h0M93 29h0M52 4h0M83 80h0M38 54h0M37 34h0M18 11h0M101 10h0M23 101h0M61 8h0M38 80h0M39 41h0M27 103h0M69 15h0M62 80h0M39 45h0M93 17h0M110 35h0M99 43h0M111 57h0M0 80h0M41 15h0M94 22h0M15 41h0M41 99h0M27 33h0M60 51h0M11 109h0M55 29h0M109 24h0M57 48h0M0 94h0M107 11h0M38 22h0M62 86h0M73 107h0M81 18h0M35 52h0M39 29h0M7 65h0M74 26h0M97 19h0M32 112h0M28 80h0M30 20h0M45 67h0M29 38h0M55 2h0M70 80h0M2 33h0M28 0h0M13 71h0M105 50h0M34 52h0M42 105h0M67 61h0M54 73h0M11 49h0M48 65h0M85 7h0M70 84h0M40 49h0M75 26h0M87 35h0M5 25h0M100 61h0M38 56h0M24 79h0M20 103h0M27 97h0M4 58h0M77 111h0M83 10h0M71 66h0M75 -2h0M7 93h0M4 107h0M69 3h0M15 0h0M87 77h0M89 83h0M112 44h0M103 32h0M97 36h0M84 79h0M1 65h0M56 17h0M80 76h0M5 18h0M6 30h0M97 81h0M5 86h0M58 19h0M21 63h0M105 103h0M26 65h0M48 10h0M95 108h0M107 101h0M1 78h0M100 64h0M57 41h0" stroke="#aaa0bc" stroke-width="3.7" stroke-linecap="round"/><path d="M94 23h0M106 21h0M56 71h0M106 19h0M70 107h0M112 71h0M35 10h0M88 3h0M75 65h0M73 33h0M70 77h0M37 102h0M5 17h0M84 36h0M27 53h0M82 28h0M93 17h0M82 98h0M105 58h0M45 39h0M88 13h0M25 51h0M97 49h0M28 76h0M105 21h0M6 94h0M65 47h0M4 0h0M4 52h0M29 59h0M68 111h0M58 47h0M90 25h0M79 29h0M90 52h0M33 20h0M9 29h0M56 73h0M108 16h0M38 33h0M103 105h0M3 67h0M109 102h0M29 81h0M82 99h0M89 1h0M28 68h0M96 109h0M-1 40h0M20 95h0M21 50h0M96 16h0M10 53h0M17 56h0M14 104h0M95 67h0M12 46h0M2 -2h0M16 24h0M113 57h0M19 87h0M9 35h0M1 98h0M113 96h0M103 20h0M41 89h0M78 34h0M24 78h0M28 80h0M102 8h0" stroke="#8a6060" stroke-width="2.4" stroke-linecap="round"/><path d="M84 75h0M104 46h0M81 80h0M63 29h0M112 67h0M110 85h0M86 84h0M91 72h0M54 43h0M109 99h0M4 101h0M5 20h0M63 31h0M73 70h0M99 60h0M21 88h0M50 106h0M64 19h0M48 36h0M114 46h0M69 99h0M60 98h0M52 63h0M82 103h0M82 40h0M23 92h0M17 102h0M76 93h0M65 25h0M25 110h0M44 92h0M36 35h0M100 73h0M71 110h0M102 53h0M42 20h0M113 7h0M92 105h0M45 106h0M4 50h0M18 105h0M88 106h0M43 70h0M41 54h0M12 19h0M32 34h0M111 72h0M5 25h0M45 77h0M98 59h0M6 17h0M85 17h0M35 5h0M109 83h0M113 2h0M45 25h0M47 73h0M9 71h0M2 35h0M60 23h0M12 89h0M18 45h0M36 83h0M9 68h0M111 67h0M69 20h0M90 67h0M77 78h0M73 93h0M78 111h0" stroke="#8a6060" stroke-width="2.9" stroke-linecap="round"/><path d="M3 12h0M52 66h0M35 80h0M8 95h0M104 50h0M19 83h0M60 106h0M55 10h0M97 51h0M48 29h0M34 74h0M68 67h0M35 51h0M113 35h0M0 59h0M84 20h0M95 54h0M18 25h0M35 5h0M10 35h0M40 97h0M68 54h0M68 81h0M7 59h0M76 103h0M70 93h0M12 101h0M80 110h0M34 49h0M45 5h0M34 90h0M16 112h0M76 76h0M6 74h0M58 37h0M47 92h0M19 105h0M18 41h0M16 64h0M77 102h0M29 25h0M86 109h0M50 48h0M105 109h0M109 70h0M40 19h0M67 96h0M7 96h0M87 44h0M20 64h0M68 54h0M114 98h0M1 15h0M55 29h0M48 29h0M41 12h0M34 71h0M-1 2h0M34 97h0M-1 51h0M9 69h0M63 69h0M28 99h0M95 103h0M70 75h0M43 82h0M66 1h0M107 104h0M40 15h0M60 2h0" stroke="#8a6060" stroke-width="3.4" stroke-linecap="round"/><path d="M41 22h0M32 30h0M86 89h0M4 84h0M-1 47h0M95 36h0M38 51h0M108 76h0M49 43h0M106 55h0M67 86h0M-1 5h0M19 40h0M105 19h0M77 5h0" stroke="#33200f" stroke-width="2.7" stroke-linecap="round"/><path d="M34 73h0M41 91h0M14 56h0M42 104h0M14 35h0M61 11h0M4 13h0M60 16h0M3 7h0M30 107h0M76 24h0M105 72h0M39 91h0M90 35h0M25 43h0" stroke="#33200f" stroke-width="3.2" stroke-linecap="round"/><path d="M78 85h0M21 37h0M39 66h0M8 88h0M76 47h0M60 94h0M62 79h0M42 43h0M20 30h0M65 32h0M35 105h0M41 6h0M13 51h0M40 18h0M73 87h0" stroke="#33200f" stroke-width="3.7" stroke-linecap="round"/></g></g>
<rect x="464.6" y="239.5" width="55.4" height="54.4" fill="none" stroke="#3c3c3c" stroke-width="0.9"/>
<text transform="translate(435.3,321.5) scale(1,1.1)" font-size="9" text-anchor="middle">Vehicle</text>
<text transform="translate(492.9,321.5) scale(1,1.1)" font-size="9" text-anchor="middle">Ribociclib</text>
<text transform="translate(435.6,444.6) scale(1,1.1)" font-size="9" text-anchor="middle">Binimetinib</text>
<text transform="translate(493.1,444.6) scale(1,1.1)" font-size="9" text-anchor="middle">Combo</text>
<clipPath id="c9"><rect x="406" y="324.1" width="55.8" height="55.5"/></clipPath>
<g clip-path="url(#c9)"><rect x="406" y="324.1" width="55.8" height="55.5" fill="#945e40"/><rect x="406" y="324.1" width="55.8" height="55.5" filter="url(#spB)"/><g filter="url(#bl2)" transform="translate(406,324.1) scale(0.5)"><path d="M48 6h0M92 69h0M86 76h0M87 50h0M79 7h0M90 95h0M110 5h0M-1 101h0M55 62h0M26 104h0M1 43h0M91 33h0M71 44h0M11 19h0M14 99h0M3 4h0M32 40h0M99 5h0M36 24h0M43 68h0M74 36h0M48 62h0M25 27h0M9 96h0M62 34h0M93 48h0M43 83h0M45 0h0M31 63h0M75 37h0M83 27h0M47 5h0M82 43h0M101 46h0M62 47h0M9 108h0M9 58h0M83 4h0M26 106h0M7 106h0M2 78h0M73 49h0M69 66h0M68 22h0M44 34h0M46 64h0M22 34h0M21 31h0M85 18h0M6 99h0M36 45h0M41 79h0M28 8h0M2 52h0M110 48h0M28 111h0M52 93h0M7 95h0M90 66h0M59 113h0M37 4h0M35 -1h0M16 44h0M110 58h0M45 103h0M68 0h0M7 35h0M38 43h0M83 16h0M77 14h0M40 10h0M31 112h0M106 112h0M42 33h0M111 38h0M63 110h0M82 34h0M59 57h0M21 87h0M12 14h0M30 2h0M24 22h0M55 96h0M107 101h0M70 100h0M28 105h0M4 79h0M20 92h0M105 15h0M101 12h0M11 32h0M102 92h0M45 79h0M43 64h0M95 102h0M18 79h0M42 89h0M14 51h0M82 104h0M107 59h0M80 80h0M73 12h0M100 16h0M74 24h0M8 47h0M100 97h0M31 49h0M13 60h0M41 87h0M44 61h0M87 22h0M63 91h0M53 50h0M47 7h0M82 54h0M112 100h0M19 38h0M15 107h0M34 65h0M21 2h0M97 94h0M67 21h0M97 108h0M65 100h0M5 45h0M106 96h0M46 28h0M50 41h0M82 73h0M12 98h0M83 60h0M97 108h0M1 30h0M71 58h0M101 65h0M2 92h0M6 79h0M23 107h0M24 111h0M7 4h0M61 44h0M91 85h0M77 52h0M85 49h0M-1 44h0M64 38h0M43 12h0M6 13h0M96 39h0M101 66h0M23 43h0M79 31h0M62 7h0M45 64h0M101 99h0M13 74h0M76 5h0M40 18h0M110 45h0M-1 105h0M66 50h0M94 51h0M73 74h0M100 36h0M24 93h0M76 9h0M105 112h0M55 22h0M31 89h0M77 6h0M58 105h0M97 13h0M16 5h0M34 39h0M27 102h0M67 75h0M58 46h0M65 78h0M63 75h0M25 112h0M69 42h0M79 20h0M17 35h0M82 -1h0M25 83h0M5 113h0M30 84h0M32 -2h0M12 77h0M113 66h0M72 18h0M78 -1h0M101 92h0" stroke="#e0c4ae" stroke-width="2.1" stroke-linecap="round"/><path d="M56 108h0M63 60h0M2 110h0M67 80h0M10 112h0M10 46h0M21 111h0M51 52h0M88 26h0M38 23h0M71 50h0M48 105h0M109 74h0M70 8h0M65 98h0M22 8h0M73 40h0M16 54h0M60 95h0M16 23h0M46 81h0M36 41h0M3 0h0M35 86h0M56 5h0M32 108h0M82 34h0M69 54h0M88 80h0M35 50h0M113 47h0M73 71h0M19 9h0M69 61h0M59 9h0M19 107h0M19 73h0M101 113h0M12 65h0M59 72h0M33 14h0M88 81h0M81 62h0M108 96h0M30 100h0M47 42h0M70 27h0M10 101h0M38 9h0M44 99h0M26 37h0M22 0h0M30 30h0M53 31h0M85 27h0M93 42h0M50 34h0M106 24h0M94 106h0M110 7h0M99 17h0M27 27h0M76 55h0M111 21h0M88 51h0M-1 67h0M1 39h0M30 21h0M13 94h0M93 23h0M13 82h0M4 53h0M104 39h0M38 50h0M86 109h0M107 67h0M113 40h0M99 79h0M58 68h0M37 81h0M82 75h0M59 77h0M43 92h0M9 6h0M104 45h0M-1 25h0M112 26h0M111 60h0M33 40h0M51 38h0M104 95h0M85 24h0M40 37h0M37 74h0M33 3h0M8 58h0M111 104h0M108 87h0M2 87h0M41 61h0M6 26h0M15 85h0M106 27h0M66 94h0M42 48h0M47 32h0M40 94h0M12 71h0M77 87h0M93 113h0M9 66h0M28 46h0M52 73h0M38 97h0M95 85h0M89 82h0M9 83h0M90 103h0M4 31h0M75 40h0M57 29h0M45 41h0M10 89h0M50 49h0M33 100h0M107 11h0M60 14h0M44 42h0M113 42h0M45 45h0M106 60h0M-2 68h0M63 0h0M94 93h0M54 85h0M97 73h0M58 101h0M109 3h0M48 12h0M61 93h0M2 1h0M23 90h0M62 54h0M88 47h0M52 34h0M59 3h0M105 91h0M112 75h0M60 47h0M32 59h0M90 81h0M0 57h0M98 14h0M60 64h0M44 18h0M77 77h0M38 47h0M17 107h0M59 9h0M58 78h0M72 96h0M19 10h0M61 61h0M81 89h0M102 0h0M96 98h0M61 52h0M31 36h0M65 30h0M109 62h0M39 64h0M54 18h0M62 94h0M4 21h0M84 44h0M90 2h0M66 42h0M71 8h0M27 27h0M47 72h0M20 29h0M5 13h0M37 58h0M76 26h0M87 58h0M101 21h0M29 30h0M4 48h0M7 25h0M36 22h0M64 44h0M37 -1h0M36 20h0" stroke="#e0c4ae" stroke-width="2.6" stroke-linecap="round"/><path d="M98 79h0M2 87h0M26 39h0M61 -1h0M55 73h0M103 103h0M67 78h0M0 32h0M8 20h0M22 29h0M10 71h0M6 59h0M94 41h0M73 25h0M71 84h0M2 78h0M68 44h0M111 96h0M101 106h0M45 109h0M112 9h0M43 25h0M13 32h0M-2 5h0M95 99h0M86 15h0M107 15h0M59 19h0M78 2h0M12 27h0M42 37h0M33 35h0M70 51h0M24 91h0M75 56h0M91 -1h0M64 90h0M37 39h0M110 87h0M64 67h0M72 17h0M25 40h0M69 67h0M15 23h0M35 41h0M100 112h0M83 25h0M24 23h0M18 61h0M15 83h0M65 57h0M109 30h0M113 16h0M88 91h0M33 86h0M49 113h0M62 38h0M39 106h0M73 58h0M37 106h0M82 68h0M69 57h0M37 33h0M48 83h0M81 92h0M8 11h0M44 67h0M42 94h0M5 74h0M-1 16h0M55 75h0M91 45h0M35 66h0M5 8h0M113 33h0M110 38h0M84 86h0M53 105h0M28 23h0M32 96h0M72 50h0M-1 95h0M42 30h0M83 34h0M17 87h0M109 15h0M61 56h0M75 57h0M61 32h0M20 82h0M23 20h0M82 27h0M85 55h0M90 106h0M113 49h0M24 50h0M23 14h0M66 37h0M0 109h0M40 68h0M74 46h0M82 22h0M27 85h0M89 21h0M19 50h0M35 30h0M35 106h0M16 42h0M104 80h0M12 43h0M24 110h0M68 64h0M70 36h0M86 64h0M75 12h0M94 54h0M79 25h0M92 74h0M44 89h0M41 100h0M21 66h0M39 71h0M50 7h0M41 52h0M11 10h0M98 76h0M2 87h0M68 14h0M100 88h0M19 76h0M86 99h0M35 56h0M109 41h0M82 52h0M60 64h0M21 105h0M14 5h0M69 23h0M99 105h0M91 14h0M30 43h0M84 89h0M43 53h0M51 17h0M3 46h0M34 31h0M102 1h0M83 0h0M46 28h0M45 68h0M58 80h0M27 44h0M79 77h0M19 71h0M4 80h0M90 48h0M71 37h0M13 47h0M35 41h0M112 7h0M11 87h0M1 23h0M81 76h0M7 1h0M61 110h0M57 75h0M89 54h0M15 94h0M81 46h0M24 5h0M16 73h0M82 20h0M23 59h0M38 55h0M-2 73h0M36 55h0M49 110h0M25 54h0M86 44h0M100 84h0M27 112h0M94 103h0M47 57h0M63 22h0M7 48h0M72 66h0M67 31h0M4 91h0M102 0h0M47 3h0M25 80h0M39 109h0M9 99h0" stroke="#e0c4ae" stroke-width="3.1" stroke-linecap="round"/><path d="M74 71h0M28 61h0M73 81h0M83 57h0M11 12h0M24 42h0M35 112h0M105 68h0M19 61h0M43 55h0M23 84h0M109 3h0M101 113h0M13 102h0M105 15h0M57 103h0M40 4h0M96 73h0M80 41h0M51 39h0M73 107h0M64 71h0M7 29h0M28 109h0M33 9h0M28 96h0M46 26h0M105 18h0M79 56h0M56 45h0M37 52h0M13 12h0M95 17h0M27 93h0M56 42h0M39 28h0M71 88h0M97 28h0M39 34h0M31 34h0M0 67h0M72 3h0M8 107h0M81 77h0M24 109h0M61 14h0M50 49h0M1 1h0M67 80h0M68 59h0M42 74h0M93 0h0M94 81h0M-1 22h0M2 51h0M103 70h0M107 28h0M6 28h0M103 76h0M9 16h0M113 103h0M49 107h0M31 105h0M10 82h0M6 28h0M17 97h0" stroke="#7c4c2e" stroke-width="2.3" stroke-linecap="round"/><path d="M101 42h0M56 98h0M82 105h0M20 70h0M17 97h0M108 94h0M87 75h0M3 15h0M101 24h0M105 112h0M59 107h0M105 97h0M47 49h0M19 40h0M37 33h0M102 68h0M82 93h0M66 86h0M106 83h0M84 40h0M57 99h0M90 27h0M84 97h0M77 19h0M71 63h0M53 66h0M100 52h0M78 112h0M33 108h0M24 34h0M34 43h0M78 63h0M105 37h0M15 14h0M4 99h0M43 40h0M29 -1h0M43 36h0M72 83h0M74 23h0M86 62h0M63 113h0M60 81h0M40 100h0M57 79h0M25 96h0M7 55h0M86 112h0M78 60h0M63 91h0M74 110h0M95 83h0M57 73h0M91 61h0M92 57h0M110 6h0M96 93h0M64 56h0M96 98h0M54 42h0M3 60h0M53 57h0M35 72h0M66 27h0M88 111h0M92 11h0" stroke="#7c4c2e" stroke-width="2.8" stroke-linecap="round"/><path d="M68 20h0M10 58h0M76 28h0M38 40h0M108 51h0M9 28h0M78 68h0M16 100h0M62 29h0M47 12h0M107 15h0M34 71h0M33 40h0M88 73h0M56 94h0M114 59h0M35 92h0M72 29h0M102 81h0M110 19h0M76 40h0M16 13h0M92 18h0M79 61h0M65 94h0M55 98h0M49 78h0M48 110h0M42 25h0M29 51h0M32 90h0M23 54h0M67 -1h0M108 30h0M50 99h0M12 76h0M68 28h0M69 11h0M83 13h0M21 32h0M29 19h0M49 72h0M100 31h0M39 91h0M50 78h0M103 46h0M40 79h0M7 46h0M68 36h0M43 6h0M59 35h0M90 60h0M13 104h0M9 69h0M78 82h0M1 93h0M74 2h0M112 46h0M80 24h0M28 55h0M43 33h0M64 82h0M42 92h0M21 110h0M100 101h0M100 67h0" stroke="#7c4c2e" stroke-width="3.3" stroke-linecap="round"/><path d="M39 49h0M92 104h0M69 94h0M109 -2h0M72 8h0M56 54h0M40 8h0M70 37h0M103 26h0M91 3h0M95 100h0M73 86h0M77 56h0M56 107h0M28 38h0M66 101h0M3 91h0M86 87h0M42 81h0M38 54h0M62 14h0M52 6h0M20 101h0M5 61h0M46 107h0M63 26h0M16 77h0M16 47h0M111 4h0M54 32h0M108 51h0M18 34h0M92 90h0M14 59h0M104 61h0M106 40h0M42 101h0M33 10h0M70 70h0M34 28h0M24 110h0M37 105h0M57 15h0M94 69h0M68 13h0M9 75h0M43 18h0M26 93h0M108 62h0M-1 105h0M25 86h0M54 26h0M80 14h0" stroke="#40200f" stroke-width="2.7" stroke-linecap="round"/><path d="M54 76h0M77 49h0M19 50h0M66 37h0M25 13h0M92 33h0M110 19h0M19 107h0M8 93h0M111 78h0M24 75h0M39 19h0M21 1h0M59 103h0M91 16h0M90 49h0M68 49h0M34 88h0M28 13h0M75 79h0M46 48h0M10 84h0M98 2h0M8 11h0M77 13h0M19 47h0M71 90h0M46 88h0M42 47h0M94 52h0M56 61h0M35 85h0M2 35h0M93 34h0M19 40h0M60 19h0M109 19h0M109 7h0M92 -2h0M56 108h0M80 75h0M15 53h0M64 56h0M26 16h0M39 109h0M62 47h0M2 34h0M105 39h0M57 23h0M61 59h0M77 37h0M45 98h0M81 59h0" stroke="#40200f" stroke-width="3.2" stroke-linecap="round"/><path d="M70 51h0M58 1h0M64 26h0M111 93h0M3 12h0M43 11h0M89 104h0M67 49h0M90 5h0M46 56h0M46 13h0M51 104h0M40 75h0M49 92h0M65 95h0M33 55h0M79 39h0M95 48h0M58 3h0M60 58h0M61 19h0M107 38h0M79 42h0M57 72h0M83 98h0M58 33h0M-1 16h0M103 4h0M7 84h0M22 43h0M103 21h0M30 43h0M83 55h0M6 80h0M87 0h0M5 102h0M39 92h0M111 95h0M3 11h0M19 70h0M43 95h0M65 81h0M87 103h0M71 95h0M48 68h0M104 0h0M48 108h0M96 26h0M45 33h0M84 102h0M3 112h0M73 58h0M29 62h0" stroke="#40200f" stroke-width="3.7" stroke-linecap="round"/></g></g>
<rect x="406.4" y="324.6" width="54.9" height="54.6" fill="none" stroke="#3c3c3c" stroke-width="0.9"/>
<clipPath id="c10"><rect x="463.3" y="324.1" width="57.2" height="55.5"/></clipPath>
<g clip-path="url(#c10)"><rect x="463.3" y="324.1" width="57.2" height="55.5" fill="#a26c4c"/><rect x="463.3" y="324.1" width="57.2" height="55.5" filter="url(#spB)"/><g filter="url(#bl2)" transform="translate(463.3,324.1) scale(0.5)"><path d="M46 -1h0M76 20h0M58 46h0M25 71h0M12 99h0M61 103h0M69 50h0M86 80h0M6 88h0M18 -2h0M112 88h0M65 24h0M21 70h0M59 46h0M10 86h0M36 19h0M76 86h0M0 77h0M45 81h0M11 65h0M87 29h0M91 81h0M27 33h0M28 105h0M41 4h0M9 107h0M108 100h0M107 13h0M11 81h0M112 49h0M97 107h0M14 97h0M68 6h0M102 87h0M35 59h0M63 42h0M85 83h0M4 55h0M66 43h0M78 55h0M108 33h0M80 94h0M73 94h0M-1 19h0M19 28h0M43 23h0M1 15h0M37 32h0M81 65h0M23 34h0M78 16h0M64 104h0M31 90h0M111 106h0M50 8h0M1 81h0M17 17h0M55 12h0M105 60h0M108 57h0M41 54h0M57 103h0M8 5h0M6 44h0M73 48h0M63 90h0M17 57h0M30 45h0M18 14h0M69 110h0M115 27h0M21 6h0M62 52h0M73 14h0M86 17h0M26 69h0M17 46h0M110 78h0M73 7h0M60 77h0M115 80h0M103 107h0M43 87h0M69 42h0M97 77h0M105 88h0M47 68h0M42 76h0M9 78h0M68 20h0M31 59h0M80 66h0M79 76h0M71 98h0M36 57h0M-1 39h0M94 79h0M96 107h0M87 85h0M1 59h0M72 2h0M19 59h0M16 62h0M9 107h0M51 34h0M70 56h0M42 56h0M87 96h0M102 86h0M81 27h0M95 59h0M47 90h0M35 66h0M72 86h0M77 61h0M59 59h0M11 34h0M6 68h0M85 56h0M57 60h0M-1 66h0M68 89h0M28 26h0M23 73h0M58 35h0M41 28h0M108 81h0M108 74h0M2 25h0M69 15h0M13 2h0M56 94h0M88 12h0M94 51h0M105 78h0M15 66h0M21 43h0M4 108h0M65 54h0M104 0h0M81 92h0M18 15h0M19 82h0M70 84h0M90 64h0M66 38h0M70 25h0M47 39h0M97 55h0M70 113h0M77 60h0M51 36h0M85 37h0M94 62h0M106 50h0M114 12h0M32 20h0M20 109h0M53 41h0M99 27h0M1 110h0M71 53h0M2 -1h0M90 101h0M45 67h0M9 112h0M44 23h0M2 48h0M102 4h0M88 93h0M2 107h0M93 8h0M1 75h0M19 14h0M31 50h0M33 71h0M115 86h0M98 87h0M67 75h0M38 82h0M113 60h0M95 23h0M82 51h0M88 64h0M49 54h0M33 88h0M21 19h0M5 102h0M37 33h0M95 34h0M99 90h0M114 16h0M0 105h0M78 89h0M-1 23h0M100 92h0M34 5h0M104 48h0M109 71h0M16 3h0M1 70h0M32 12h0M92 7h0M26 54h0M77 61h0M61 108h0M106 44h0M102 35h0M101 30h0M56 42h0" stroke="#e6ccb6" stroke-width="2.1" stroke-linecap="round"/><path d="M111 50h0M60 86h0M59 27h0M26 73h0M94 9h0M105 44h0M114 88h0M115 86h0M20 66h0M105 110h0M96 108h0M85 67h0M70 63h0M70 93h0M64 6h0M85 102h0M24 46h0M21 24h0M96 37h0M66 100h0M1 101h0M12 39h0M59 82h0M114 73h0M59 64h0M77 20h0M42 81h0M23 83h0M87 46h0M103 11h0M21 107h0M27 109h0M69 73h0M89 76h0M106 113h0M101 88h0M6 102h0M97 2h0M62 92h0M67 85h0M12 10h0M50 2h0M19 19h0M11 3h0M50 0h0M113 105h0M5 27h0M93 30h0M85 75h0M80 71h0M59 62h0M-1 85h0M15 16h0M16 86h0M101 54h0M61 90h0M85 80h0M87 51h0M114 23h0M44 45h0M94 12h0M104 75h0M68 17h0M16 24h0M38 71h0M114 25h0M36 23h0M101 4h0M89 98h0M42 98h0M70 40h0M62 39h0M29 18h0M26 51h0M26 37h0M20 25h0M96 75h0M64 100h0M55 66h0M110 15h0M105 65h0M94 14h0M77 103h0M33 85h0M110 68h0M108 7h0M75 4h0M54 2h0M62 104h0M52 106h0M18 18h0M115 45h0M36 105h0M12 112h0M20 58h0M68 97h0M70 74h0M87 2h0M18 41h0M33 19h0M111 52h0M80 45h0M112 50h0M53 108h0M32 28h0M64 102h0M74 47h0M22 84h0M6 33h0M54 31h0M91 81h0M15 102h0M7 2h0M31 103h0M71 27h0M65 48h0M109 112h0M89 60h0M99 93h0M69 23h0M107 71h0M-1 48h0M10 45h0M96 53h0M48 108h0M50 94h0M79 3h0M72 -1h0M6 28h0M50 99h0M60 54h0M20 97h0M77 100h0M89 79h0M100 36h0M25 15h0M39 100h0M2 52h0M1 95h0M104 29h0M43 109h0M67 65h0M55 74h0M81 89h0M12 100h0M24 57h0M77 58h0M77 87h0M10 106h0M99 18h0M80 89h0M60 70h0M76 64h0M98 50h0M6 55h0M92 33h0M106 106h0M89 79h0M116 65h0M31 46h0M107 78h0M108 7h0M86 32h0M14 84h0M61 82h0M61 104h0M114 109h0M71 46h0M3 82h0M44 45h0M10 95h0M61 31h0M44 96h0M14 2h0M6 100h0M36 35h0M20 90h0M61 59h0M111 105h0M92 92h0M102 1h0M39 46h0M0 90h0M79 90h0M37 1h0M101 101h0M81 62h0M36 113h0M91 44h0M45 40h0M6 86h0M50 38h0M29 7h0M26 28h0M78 64h0M74 40h0M70 94h0M80 9h0M20 69h0M112 93h0M34 12h0M109 87h0M31 53h0M8 92h0M35 42h0M25 8h0M85 56h0M42 76h0M115 67h0M100 6h0" stroke="#e6ccb6" stroke-width="2.6" stroke-linecap="round"/><path d="M25 34h0M48 14h0M73 99h0M29 8h0M63 25h0M72 5h0M61 109h0M106 57h0M27 71h0M60 25h0M9 87h0M42 28h0M23 41h0M9 89h0M65 76h0M106 27h0M96 22h0M32 33h0M102 59h0M64 103h0M39 65h0M41 16h0M109 111h0M103 92h0M102 94h0M55 59h0M34 96h0M33 22h0M2 85h0M34 110h0M15 74h0M103 104h0M33 35h0M103 17h0M75 80h0M45 48h0M86 79h0M24 53h0M116 19h0M8 73h0M75 51h0M107 61h0M15 23h0M2 8h0M114 104h0M99 34h0M114 109h0M40 37h0M91 1h0M108 100h0M85 11h0M33 84h0M12 19h0M75 62h0M29 43h0M67 34h0M26 97h0M30 66h0M82 73h0M78 95h0M17 30h0M111 65h0M80 54h0M83 65h0M47 110h0M50 13h0M20 37h0M102 84h0M82 103h0M9 76h0M13 35h0M79 72h0M30 5h0M84 84h0M78 3h0M28 0h0M102 66h0M62 108h0M113 26h0M93 75h0M3 74h0M38 52h0M77 14h0M13 70h0M94 72h0M39 103h0M28 110h0M31 104h0M43 106h0M96 68h0M94 0h0M38 87h0M52 3h0M63 40h0M17 111h0M59 112h0M16 92h0M102 102h0M106 95h0M51 44h0M48 62h0M115 21h0M82 105h0M102 23h0M20 54h0M19 55h0M84 9h0M5 50h0M94 19h0M52 37h0M116 7h0M80 31h0M61 40h0M35 31h0M116 91h0M19 105h0M107 74h0M29 7h0M41 93h0M39 91h0M61 99h0M4 44h0M45 60h0M63 61h0M111 80h0M94 113h0M3 73h0M86 112h0M103 77h0M74 72h0M80 90h0M43 23h0M58 25h0M107 -1h0M6 29h0M58 0h0M107 -2h0M108 20h0M40 102h0M111 9h0M53 18h0M48 52h0M7 4h0M111 8h0M-1 85h0M43 69h0M21 47h0M6 49h0M76 104h0M36 85h0M54 2h0M48 -1h0M53 3h0M105 96h0M59 102h0M4 28h0M0 26h0M29 97h0M4 98h0M37 62h0M23 17h0M1 7h0M59 52h0M67 37h0M11 0h0M47 85h0M91 76h0M104 75h0M55 102h0M45 -1h0M88 106h0M50 62h0M13 71h0M36 9h0M97 99h0M63 14h0M22 84h0M53 12h0M33 70h0M107 4h0M100 13h0M20 93h0M22 23h0M27 83h0M35 25h0M43 83h0M77 20h0M26 84h0M20 113h0M18 13h0M24 16h0M101 71h0M63 69h0M20 43h0M85 100h0M107 84h0M112 32h0M80 83h0M40 75h0M58 86h0M80 26h0M59 51h0M47 101h0M59 100h0M79 22h0M46 50h0M68 74h0M101 44h0M103 112h0M42 38h0" stroke="#e6ccb6" stroke-width="3.1" stroke-linecap="round"/><path d="M29 27h0M101 99h0M67 38h0M33 34h0M64 14h0M115 34h0M48 62h0M66 12h0M12 94h0M114 55h0M7 110h0M18 91h0M72 61h0M73 107h0M96 46h0M3 64h0M63 60h0M113 78h0M19 51h0M110 104h0M72 32h0M87 113h0M92 75h0M115 33h0M96 113h0M90 87h0M24 68h0M-1 51h0M13 8h0M55 99h0M47 39h0M87 26h0M90 101h0M78 83h0M69 24h0M89 24h0M108 14h0M19 100h0M108 0h0M114 99h0M48 23h0M46 42h0M61 35h0M116 109h0M13 57h0M0 113h0M82 63h0M21 96h0M44 88h0M55 11h0M11 47h0M114 47h0M62 60h0M107 74h0M16 91h0M102 58h0M61 2h0M46 74h0M74 63h0M2 28h0M84 26h0M23 20h0M101 58h0M99 37h0M94 51h0M21 68h0" stroke="#80502e" stroke-width="2.3" stroke-linecap="round"/><path d="M30 96h0M15 45h0M85 29h0M18 30h0M67 82h0M97 12h0M22 108h0M56 59h0M116 61h0M84 66h0M74 49h0M12 30h0M79 72h0M77 39h0M14 110h0M76 52h0M9 38h0M0 71h0M73 43h0M48 54h0M58 78h0M89 47h0M63 5h0M4 74h0M108 77h0M78 112h0M70 75h0M-1 13h0M112 61h0M49 84h0M46 12h0M110 105h0M115 28h0M93 26h0M99 0h0M104 75h0M52 37h0M106 44h0M82 82h0M45 83h0M14 93h0M103 46h0M76 28h0M48 78h0M105 17h0M50 71h0M67 94h0M26 61h0M76 61h0M41 87h0M56 55h0M51 1h0M88 28h0M52 62h0M18 101h0M16 83h0M98 33h0M116 23h0M21 30h0M11 41h0M42 65h0M36 44h0M92 56h0M103 10h0M89 106h0M25 78h0" stroke="#80502e" stroke-width="2.8" stroke-linecap="round"/><path d="M20 74h0M107 86h0M11 7h0M36 0h0M51 100h0M3 53h0M88 98h0M59 9h0M77 62h0M39 7h0M19 57h0M24 63h0M74 38h0M13 72h0M25 89h0M36 78h0M91 24h0M90 109h0M28 77h0M60 81h0M71 101h0M64 49h0M4 33h0M76 38h0M43 4h0M70 37h0M13 69h0M60 15h0M105 16h0M107 94h0M111 12h0M97 18h0M81 88h0M30 20h0M54 34h0M101 28h0M13 41h0M50 21h0M55 51h0M71 86h0M114 102h0M17 28h0M109 86h0M47 36h0M12 68h0M98 63h0M116 45h0M102 19h0M37 43h0M86 91h0M14 103h0M20 53h0M26 99h0M18 61h0M7 21h0M88 65h0M26 110h0M18 73h0M53 81h0M91 31h0M5 104h0M1 32h0M91 68h0M94 0h0M44 21h0M62 79h0" stroke="#80502e" stroke-width="3.3" stroke-linecap="round"/><path d="M38 15h0M76 89h0M23 19h0M8 76h0M102 109h0M76 7h0M81 34h0M73 27h0M45 33h0M69 90h0M31 44h0M5 70h0M54 88h0M29 40h0M112 45h0M41 67h0M24 27h0M23 47h0M31 43h0M71 20h0M61 61h0M31 58h0M87 72h0M93 70h0M103 14h0M93 72h0M90 3h0M29 2h0M60 10h0M28 77h0M81 27h0M79 46h0M89 77h0M94 26h0M55 36h0" stroke="#40200f" stroke-width="2.7" stroke-linecap="round"/><path d="M69 2h0M69 111h0M79 96h0M26 107h0M7 26h0M52 6h0M78 58h0M8 27h0M23 39h0M0 22h0M81 111h0M77 5h0M101 71h0M31 53h0M17 49h0M106 105h0M109 105h0M92 9h0M94 28h0M34 -1h0M16 22h0M90 36h0M109 95h0M71 65h0M67 110h0M71 94h0M103 94h0M40 15h0M114 25h0M41 3h0M94 112h0M61 51h0M116 88h0M51 46h0M66 82h0" stroke="#40200f" stroke-width="3.2" stroke-linecap="round"/><path d="M20 95h0M62 30h0M34 100h0M18 78h0M1 73h0M98 59h0M116 43h0M44 12h0M10 49h0M78 96h0M38 71h0M57 97h0M34 110h0M31 25h0M46 -1h0M25 58h0M36 35h0M21 88h0M47 39h0M79 9h0M0 84h0M78 59h0M116 79h0M64 28h0M19 55h0M80 56h0M98 101h0M4 79h0M64 3h0M1 81h0M19 54h0M110 20h0M38 100h0M107 33h0M18 89h0" stroke="#40200f" stroke-width="3.7" stroke-linecap="round"/></g></g>
<rect x="463.8" y="324.6" width="56.3" height="54.6" fill="none" stroke="#3c3c3c" stroke-width="0.9"/>
<clipPath id="c11"><rect x="406" y="381.4" width="55.8" height="55.8"/></clipPath>
<g clip-path="url(#c11)"><rect x="406" y="381.4" width="55.8" height="55.8" fill="#986246"/><rect x="406" y="381.4" width="55.8" height="55.8" filter="url(#spB)"/><g filter="url(#bl3)" opacity="0.5"><circle cx="444" cy="415.5" r="3.7" fill="#b4b0bc"/><circle cx="445.2" cy="392.4" r="3.6" fill="#b4b0bc"/><circle cx="458.9" cy="394.2" r="4" fill="#b4b0bc"/><circle cx="424.4" cy="427.2" r="4.5" fill="#b4b0bc"/><circle cx="456.1" cy="412" r="4" fill="#b4b0bc"/><circle cx="425.7" cy="411.8" r="3.7" fill="#b4b0bc"/></g><g filter="url(#bl2)" transform="translate(406,381.4) scale(0.5)"><path d="M56 48h0M72 50h0M101 43h0M67 36h0M19 58h0M51 39h0M95 74h0M68 107h0M58 61h0M38 26h0M74 28h0M50 104h0M12 24h0M71 82h0M76 95h0M111 42h0M1 47h0M-1 78h0M19 65h0M51 91h0M52 99h0M46 19h0M52 34h0M70 26h0M45 74h0M81 69h0M3 57h0M47 16h0M97 44h0M93 18h0M59 109h0M20 4h0M97 -2h0M65 105h0M58 30h0M60 37h0M43 5h0M100 108h0M101 73h0M54 104h0M74 49h0M105 95h0M21 99h0M72 66h0M67 4h0M88 111h0M73 82h0M12 73h0M30 106h0M-1 36h0M100 82h0M53 65h0M29 7h0M97 79h0M3 48h0M78 89h0M99 12h0M86 42h0M32 0h0M27 70h0M-2 61h0M94 19h0M27 72h0M29 44h0M81 27h0M111 58h0M41 24h0M89 110h0M60 24h0M12 52h0M51 52h0M82 46h0M57 98h0M6 7h0M76 14h0M95 8h0M57 25h0M61 42h0M20 105h0M77 100h0M53 31h0M98 20h0M109 92h0M11 40h0M2 103h0M62 102h0M68 106h0M31 22h0M37 46h0M68 95h0M16 46h0M38 106h0M42 9h0M61 26h0M42 51h0M68 113h0M17 37h0M95 98h0M15 56h0M76 88h0M76 2h0M62 35h0M57 94h0M8 40h0M112 36h0M16 89h0M27 70h0M79 79h0M49 69h0M100 10h0M97 90h0M93 21h0M26 34h0M86 48h0M3 15h0M46 3h0M71 -1h0M47 94h0M80 90h0M37 44h0M90 65h0M71 79h0M34 74h0M72 79h0M27 72h0M61 47h0M104 105h0M55 106h0M17 67h0M79 45h0M22 10h0M22 15h0M84 6h0M48 48h0M36 11h0M106 90h0M49 54h0M101 104h0M45 112h0M81 100h0M54 67h0M112 77h0M105 41h0M7 38h0M54 21h0M96 86h0M76 77h0M110 15h0M72 54h0M67 40h0M105 99h0M107 78h0M22 38h0M97 1h0M96 83h0M87 78h0M56 82h0M59 70h0M71 61h0M57 8h0M28 1h0M98 82h0M72 34h0M71 72h0M73 98h0M27 43h0M51 45h0M83 58h0M72 38h0M-2 79h0M6 98h0M47 93h0M66 28h0M94 62h0M41 62h0M4 5h0M76 101h0M108 47h0M16 9h0M89 51h0M66 57h0M74 91h0M92 11h0M6 56h0M107 62h0M109 58h0M50 92h0M80 37h0M12 6h0M62 15h0M51 16h0M65 88h0M3 17h0M78 95h0M3 95h0M98 79h0" stroke="#e0c6b2" stroke-width="2.1" stroke-linecap="round"/><path d="M66 16h0M107 95h0M18 21h0M99 12h0M87 65h0M2 69h0M60 113h0M41 79h0M13 41h0M49 45h0M8 60h0M74 87h0M103 103h0M105 94h0M94 10h0M52 97h0M5 47h0M80 8h0M7 26h0M82 100h0M114 110h0M111 38h0M111 47h0M76 113h0M102 51h0M95 3h0M111 91h0M39 113h0M3 99h0M75 55h0M91 33h0M74 79h0M112 68h0M19 96h0M63 88h0M11 89h0M2 58h0M5 101h0M52 56h0M113 99h0M67 102h0M102 52h0M53 2h0M48 21h0M23 68h0M4 111h0M20 2h0M67 10h0M55 83h0M57 20h0M51 52h0M71 103h0M83 50h0M17 100h0M52 92h0M23 85h0M42 12h0M104 85h0M19 85h0M110 89h0M76 85h0M50 27h0M17 61h0M53 45h0M33 31h0M23 85h0M12 107h0M70 44h0M32 73h0M91 96h0M17 83h0M109 0h0M90 79h0M81 107h0M0 103h0M107 40h0M45 47h0M49 67h0M110 112h0M-1 80h0M93 50h0M50 42h0M62 26h0M54 76h0M53 8h0M14 98h0M88 19h0M48 64h0M75 48h0M1 70h0M66 33h0M25 74h0M102 85h0M95 33h0M94 19h0M52 57h0M31 108h0M86 28h0M24 6h0M41 17h0M30 49h0M83 108h0M109 38h0M27 5h0M41 43h0M12 27h0M105 46h0M95 93h0M28 34h0M53 17h0M14 44h0M48 17h0M77 112h0M111 107h0M32 110h0M20 -2h0M51 104h0M113 89h0M41 112h0M6 86h0M99 96h0M78 106h0M33 9h0M98 8h0M18 21h0M26 103h0M64 40h0M29 12h0M68 32h0M15 41h0M108 40h0M95 81h0M95 47h0M16 43h0M22 87h0M55 85h0M107 14h0M112 48h0M2 103h0M95 36h0M81 103h0M65 89h0M87 98h0M30 11h0M66 65h0M95 109h0M53 93h0M53 15h0M110 12h0M101 112h0M63 70h0M15 110h0M83 113h0M14 62h0M85 96h0M14 87h0M74 6h0M20 86h0M63 40h0M43 39h0M112 41h0M61 45h0M77 34h0M24 22h0M80 82h0M113 75h0M23 3h0M1 112h0M102 60h0M87 3h0M19 38h0M1 53h0M17 3h0M70 22h0M95 106h0M12 10h0M58 5h0M57 20h0M23 22h0M100 42h0M25 86h0M40 62h0M51 29h0M100 24h0M63 79h0M26 32h0M3 102h0M51 112h0M50 65h0M101 5h0M78 87h0M66 54h0M31 54h0M88 19h0M91 112h0M74 32h0" stroke="#e0c6b2" stroke-width="2.6" stroke-linecap="round"/><path d="M107 38h0M61 31h0M11 86h0M96 89h0M112 40h0M-2 77h0M75 37h0M72 110h0M11 71h0M74 22h0M17 70h0M75 48h0M13 72h0M107 93h0M15 31h0M101 15h0M111 23h0M74 51h0M47 26h0M43 101h0M24 42h0M36 112h0M88 81h0M39 46h0M85 37h0M82 76h0M57 35h0M0 82h0M34 20h0M24 5h0M48 16h0M103 75h0M62 -1h0M-2 80h0M77 104h0M71 82h0M68 11h0M98 97h0M105 84h0M39 69h0M72 18h0M100 7h0M72 5h0M110 105h0M74 89h0M60 60h0M1 0h0M4 81h0M16 69h0M108 37h0M3 53h0M103 8h0M86 13h0M26 96h0M1 62h0M109 81h0M48 29h0M12 17h0M80 12h0M88 1h0M46 102h0M111 71h0M70 21h0M24 91h0M31 87h0M62 103h0M74 58h0M81 64h0M67 91h0M44 38h0M53 112h0M41 101h0M111 94h0M29 87h0M85 58h0M110 85h0M92 3h0M112 79h0M82 60h0M104 76h0M103 50h0M75 62h0M36 101h0M77 91h0M36 112h0M15 -2h0M62 4h0M99 89h0M7 -1h0M20 3h0M91 38h0M84 84h0M78 66h0M72 83h0M72 52h0M11 97h0M13 52h0M105 15h0M16 33h0M70 0h0M84 12h0M92 79h0M71 25h0M97 15h0M63 72h0M30 82h0M2 72h0M31 70h0M22 107h0M107 109h0M95 82h0M51 51h0M54 87h0M90 73h0M-2 23h0M59 24h0M57 101h0M107 4h0M23 95h0M73 32h0M109 41h0M88 19h0M56 1h0M51 109h0M49 104h0M105 78h0M32 55h0M107 103h0M28 74h0M71 0h0M6 66h0M112 6h0M30 49h0M47 71h0M58 5h0M18 107h0M99 101h0M98 1h0M104 47h0M21 71h0M113 89h0M61 5h0M90 1h0M7 93h0M15 68h0M95 104h0M55 2h0M66 64h0M69 85h0M53 75h0M56 68h0M67 107h0M64 54h0M34 35h0M69 62h0M50 31h0M24 97h0M46 2h0M0 56h0M2 46h0M59 34h0M109 9h0M110 7h0M0 71h0M19 99h0M97 36h0M89 12h0M93 67h0M83 98h0M25 58h0M87 75h0M98 71h0M54 13h0M42 32h0M62 74h0M113 35h0M8 90h0M12 34h0M3 68h0M90 69h0M86 104h0M31 18h0M102 100h0M35 60h0M32 40h0M36 11h0M107 49h0M38 101h0M15 77h0M113 68h0M15 47h0M0 42h0M14 113h0M70 68h0M-2 95h0M66 113h0" stroke="#e0c6b2" stroke-width="3.1" stroke-linecap="round"/><path d="M101 77h0M38 35h0M14 113h0M104 103h0M6 85h0M101 50h0M85 16h0M56 66h0M40 108h0M92 83h0M82 50h0M13 74h0M53 79h0M99 65h0M68 82h0M7 99h0M32 16h0M113 71h0M4 92h0M50 110h0M24 91h0M43 99h0M95 1h0M53 106h0M112 7h0M12 0h0M18 96h0M89 30h0M8 89h0M62 99h0M20 41h0M20 67h0M97 53h0M20 49h0M18 39h0M49 102h0M51 90h0M48 44h0M73 87h0M88 16h0M18 27h0M76 -2h0M71 51h0M107 112h0M73 53h0M76 82h0M9 38h0M31 68h0M43 19h0M12 93h0M91 4h0M67 22h0M51 92h0M108 104h0M87 68h0M97 34h0M8 57h0M4 53h0M54 97h0M13 39h0M10 72h0M59 108h0M78 56h0M107 79h0M72 112h0M27 6h0" stroke="#7c4c2e" stroke-width="2.3" stroke-linecap="round"/><path d="M73 109h0M89 112h0M60 13h0M13 53h0M91 58h0M-1 31h0M66 67h0M51 54h0M30 8h0M20 76h0M26 13h0M43 109h0M46 96h0M53 19h0M99 107h0M66 78h0M62 0h0M111 63h0M60 24h0M76 97h0M13 96h0M82 82h0M85 103h0M29 69h0M77 55h0M1 12h0M66 16h0M21 74h0M9 67h0M10 52h0M88 62h0M21 89h0M5 110h0M10 92h0M75 81h0M107 78h0M51 48h0M69 55h0M34 36h0M103 86h0M63 43h0M55 108h0M78 112h0M0 95h0M84 31h0M34 9h0M97 14h0M32 40h0M106 4h0M20 44h0M107 13h0M29 19h0M34 24h0M77 44h0M5 46h0M9 61h0M8 112h0M74 84h0M111 64h0M1 39h0M59 71h0M105 19h0M90 26h0M81 39h0M8 90h0M63 86h0" stroke="#7c4c2e" stroke-width="2.8" stroke-linecap="round"/><path d="M14 110h0M28 78h0M99 86h0M13 73h0M50 11h0M92 107h0M2 7h0M63 78h0M110 90h0M43 84h0M61 30h0M58 29h0M12 68h0M27 44h0M15 66h0M34 1h0M87 76h0M97 40h0M109 64h0M51 3h0M10 81h0M55 85h0M-2 100h0M33 55h0M88 101h0M79 77h0M46 95h0M31 110h0M13 86h0M101 99h0M17 102h0M0 34h0M47 49h0M6 35h0M104 55h0M22 7h0M32 4h0M21 30h0M92 89h0M62 62h0M32 52h0M4 50h0M63 43h0M81 109h0M59 99h0M108 96h0M58 10h0M55 61h0M47 -1h0M106 100h0M31 68h0M43 3h0M78 27h0M-2 15h0M111 112h0M52 21h0M108 41h0M92 49h0M80 31h0M86 46h0M47 66h0M87 -1h0M66 113h0M50 48h0M14 53h0M20 48h0" stroke="#7c4c2e" stroke-width="3.3" stroke-linecap="round"/><path d="M31 5h0M42 111h0M103 42h0M38 5h0M45 31h0M34 85h0M16 65h0M72 30h0M88 0h0M3 63h0M6 16h0M30 25h0M89 72h0M23 65h0M78 58h0M42 27h0M30 48h0M22 61h0M98 29h0M86 66h0M105 93h0M73 16h0M96 37h0M65 79h0M10 107h0M0 38h0M35 32h0M82 94h0M108 40h0M61 84h0M61 61h0M71 99h0M78 4h0M77 55h0M19 76h0M111 86h0M21 35h0M47 55h0M19 111h0M78 5h0M37 110h0M33 25h0M111 98h0" stroke="#40200f" stroke-width="2.7" stroke-linecap="round"/><path d="M30 9h0M109 110h0M43 90h0M32 38h0M58 36h0M80 49h0M100 94h0M84 41h0M87 9h0M34 0h0M59 76h0M29 87h0M-2 61h0M98 66h0M43 68h0M5 26h0M58 15h0M49 77h0M25 57h0M59 8h0M78 88h0M72 78h0M95 2h0M66 29h0M17 52h0M23 38h0M59 48h0M105 105h0M4 112h0M8 16h0M54 64h0M21 110h0M61 -1h0M81 16h0M105 107h0M107 104h0M30 25h0M67 0h0M38 24h0M2 97h0M80 86h0M24 91h0M75 111h0" stroke="#40200f" stroke-width="3.2" stroke-linecap="round"/><path d="M25 52h0M108 95h0M2 103h0M27 83h0M24 109h0M90 21h0M48 66h0M85 80h0M54 0h0M95 44h0M17 67h0M95 19h0M95 28h0M42 8h0M10 77h0M80 80h0M51 67h0M60 5h0M47 4h0M63 44h0M6 69h0M43 90h0M70 79h0M72 5h0M84 64h0M23 46h0M52 97h0M9 20h0M100 31h0M6 80h0M25 33h0M3 44h0M17 94h0M53 63h0M99 88h0M1 56h0M99 60h0M48 31h0M105 34h0M76 12h0M12 31h0M34 20h0M51 42h0" stroke="#40200f" stroke-width="3.7" stroke-linecap="round"/></g></g>
<rect x="406.4" y="381.8" width="54.9" height="54.9" fill="none" stroke="#3c3c3c" stroke-width="0.9"/>
<clipPath id="c12"><rect x="463.3" y="381.4" width="57.2" height="55.8"/></clipPath>
<g clip-path="url(#c12)"><rect x="463.3" y="381.4" width="57.2" height="55.8" fill="#926450"/><rect x="463.3" y="381.4" width="57.2" height="55.8" filter="url(#spB)"/><g filter="url(#bl3)" opacity="0.55"><circle cx="502.9" cy="423.4" r="5.1" fill="#b4b0bc"/><circle cx="479.9" cy="420.3" r="5.4" fill="#b4b0bc"/><circle cx="489.8" cy="424.3" r="4.1" fill="#b4b0bc"/><circle cx="471.5" cy="396.1" r="5" fill="#b4b0bc"/><circle cx="513.4" cy="429.1" r="5.3" fill="#b4b0bc"/><circle cx="508.9" cy="389.5" r="5.2" fill="#b4b0bc"/><circle cx="473.2" cy="401.2" r="3.5" fill="#b4b0bc"/><circle cx="516.8" cy="426.1" r="5.5" fill="#b4b0bc"/><circle cx="512.5" cy="386.5" r="3" fill="#b4b0bc"/></g><g filter="url(#bl2)" transform="translate(463.3,381.4) scale(0.5)"><path d="M97 87h0M75 24h0M26 45h0M109 105h0M105 20h0M104 94h0M59 52h0M51 17h0M-1 21h0M37 103h0M63 53h0M107 35h0M102 10h0M49 14h0M83 59h0M104 23h0M70 52h0M76 101h0M65 90h0M70 33h0M29 25h0M113 64h0M64 22h0M18 33h0M79 36h0M33 30h0M107 51h0M70 21h0M115 79h0M12 50h0M21 4h0M50 97h0M65 113h0M92 50h0M78 20h0M9 113h0M98 73h0M72 30h0M10 46h0M75 62h0M105 64h0M1 95h0M13 76h0M87 57h0M51 47h0M50 19h0M85 53h0M87 63h0M39 3h0M23 62h0M45 62h0M26 55h0M-1 5h0M37 15h0M52 53h0M26 31h0M115 11h0M10 1h0M38 52h0M105 65h0M93 111h0M89 38h0M84 57h0M105 5h0M68 51h0M34 113h0M104 2h0M55 17h0M79 30h0M8 88h0M23 102h0M55 40h0M84 106h0M63 48h0M104 51h0M1 26h0M10 51h0M72 39h0M19 80h0M103 68h0M67 16h0M76 6h0M45 14h0M32 101h0M116 41h0M89 33h0M109 94h0M86 6h0M50 14h0M64 72h0M62 54h0M111 11h0M93 60h0M42 11h0M17 12h0M64 60h0M15 77h0M88 57h0M52 57h0M49 48h0M15 0h0M100 108h0M16 88h0M81 106h0M9 22h0M72 33h0M89 6h0M101 26h0M84 41h0M15 90h0M70 8h0M9 89h0M3 51h0M2 91h0M50 58h0M70 22h0M31 70h0M47 51h0M58 40h0M99 67h0M50 33h0M23 37h0M92 108h0M53 56h0M84 44h0M79 20h0M6 51h0M66 76h0M87 34h0M97 86h0M38 8h0M23 110h0M92 1h0M63 44h0M73 20h0M2 -1h0M55 69h0M5 74h0M51 85h0M52 67h0M39 55h0M110 74h0M90 0h0M79 59h0M50 47h0M91 86h0M48 32h0M79 89h0M38 91h0M6 24h0M92 57h0M116 77h0M62 56h0M59 18h0M6 11h0M36 44h0M85 53h0M27 20h0M1 112h0M40 97h0M105 43h0M24 15h0M0 78h0M89 98h0M83 34h0M22 53h0M71 59h0M13 109h0M42 42h0M94 27h0M64 49h0M12 16h0M25 111h0M38 92h0M90 35h0M102 106h0M83 47h0M103 10h0M7 102h0M10 100h0M47 2h0M27 3h0M54 35h0M16 3h0M87 112h0M103 94h0M60 104h0M49 93h0M78 91h0M49 10h0M25 55h0M84 19h0M80 31h0M31 92h0M53 94h0M109 18h0" stroke="#dec6b4" stroke-width="2.1" stroke-linecap="round"/><path d="M106 18h0M67 86h0M56 54h0M52 9h0M60 50h0M41 108h0M47 11h0M90 75h0M82 53h0M2 47h0M40 46h0M-1 21h0M97 74h0M2 47h0M50 24h0M106 43h0M79 7h0M73 63h0M114 10h0M1 36h0M55 25h0M0 98h0M28 95h0M65 53h0M25 100h0M111 34h0M84 71h0M8 42h0M49 5h0M115 104h0M15 57h0M60 11h0M75 33h0M-2 7h0M36 84h0M40 84h0M57 66h0M84 71h0M7 110h0M23 77h0M87 56h0M4 32h0M36 69h0M109 32h0M-2 94h0M5 75h0M5 32h0M88 2h0M70 7h0M28 88h0M71 23h0M87 93h0M85 1h0M114 56h0M83 15h0M45 67h0M59 43h0M62 50h0M104 60h0M116 71h0M33 66h0M38 109h0M5 6h0M113 94h0M106 17h0M15 79h0M107 77h0M9 74h0M34 8h0M5 72h0M86 81h0M47 59h0M63 0h0M80 2h0M16 9h0M98 68h0M44 42h0M62 24h0M115 72h0M63 24h0M23 2h0M105 93h0M59 46h0M43 5h0M34 19h0M66 30h0M23 57h0M35 28h0M18 78h0M84 112h0M4 11h0M87 31h0M61 85h0M27 68h0M95 19h0M94 41h0M55 2h0M102 113h0M43 53h0M11 52h0M18 87h0M99 -1h0M52 88h0M16 106h0M96 47h0M113 70h0M48 98h0M0 63h0M110 14h0M72 7h0M12 62h0M1 99h0M93 74h0M75 90h0M91 30h0M116 57h0M110 8h0M101 0h0M1 105h0M46 94h0M14 92h0M55 41h0M34 51h0M2 30h0M110 28h0M52 89h0M29 110h0M54 46h0M33 107h0M96 56h0M6 65h0M22 24h0M20 32h0M62 86h0M103 72h0M58 111h0M36 32h0M97 104h0M64 113h0M80 78h0M45 96h0M96 87h0M81 13h0M18 28h0M41 30h0M44 7h0M76 12h0M107 24h0M105 69h0M85 52h0M44 108h0M97 98h0M27 44h0M61 38h0M108 39h0M61 18h0M92 17h0M65 104h0M2 110h0M12 101h0M95 62h0M79 72h0M17 7h0M96 15h0M71 48h0M23 71h0M9 78h0M67 25h0M4 -1h0M67 -1h0M14 82h0M52 35h0M71 4h0M26 46h0M51 56h0M36 -1h0M61 11h0M55 19h0M51 19h0M83 12h0M81 57h0M37 75h0M3 82h0M84 14h0M18 81h0M89 41h0M53 65h0M100 69h0M111 13h0M12 69h0M68 99h0M21 53h0M105 8h0M6 20h0M0 36h0M83 55h0" stroke="#dec6b4" stroke-width="2.6" stroke-linecap="round"/><path d="M32 100h0M116 39h0M110 66h0M75 38h0M77 7h0M71 64h0M106 68h0M12 51h0M104 34h0M54 81h0M107 77h0M64 66h0M98 51h0M17 85h0M7 33h0M88 90h0M5 88h0M70 34h0M6 55h0M62 1h0M51 34h0M116 83h0M17 -1h0M58 54h0M48 37h0M64 47h0M14 9h0M21 107h0M75 98h0M83 55h0M20 3h0M0 45h0M52 113h0M27 47h0M43 22h0M61 67h0M61 101h0M3 22h0M11 42h0M12 67h0M30 1h0M101 86h0M89 91h0M26 63h0M14 1h0M31 28h0M35 27h0M28 -1h0M17 27h0M15 74h0M23 74h0M26 55h0M10 17h0M65 9h0M24 33h0M35 59h0M7 79h0M96 82h0M84 7h0M98 112h0M50 77h0M85 52h0M59 48h0M88 5h0M68 16h0M63 100h0M58 40h0M49 107h0M55 30h0M21 63h0M41 42h0M59 50h0M38 99h0M90 28h0M-1 105h0M43 101h0M95 84h0M90 53h0M90 47h0M98 33h0M96 52h0M18 40h0M-1 47h0M93 99h0M15 81h0M41 101h0M-1 78h0M41 87h0M32 99h0M88 77h0M94 73h0M-2 74h0M68 113h0M17 42h0M39 91h0M76 56h0M102 76h0M54 52h0M116 21h0M93 18h0M12 45h0M40 28h0M44 105h0M114 48h0M107 35h0M56 7h0M97 6h0M73 94h0M64 62h0M89 24h0M57 92h0M-2 25h0M74 23h0M61 19h0M115 38h0M23 73h0M9 50h0M22 73h0M2 94h0M64 1h0M114 108h0M24 90h0M89 51h0M39 55h0M75 44h0M0 58h0M85 58h0M5 9h0M115 80h0M28 55h0M13 84h0M12 0h0M26 26h0M113 66h0M63 52h0M14 91h0M110 73h0M53 16h0M81 102h0M89 19h0M89 61h0M102 91h0M74 93h0M82 110h0M67 106h0M62 11h0M32 1h0M115 77h0M55 4h0M111 49h0M0 24h0M21 1h0M12 20h0M19 48h0M83 94h0M51 50h0M116 6h0M35 52h0M12 69h0M29 76h0M41 83h0M78 101h0M48 102h0M22 75h0M60 55h0M21 95h0M64 40h0M65 110h0M72 76h0M17 19h0M94 111h0M0 31h0M34 8h0M76 108h0M69 10h0M96 58h0M78 23h0M59 106h0M32 3h0M82 9h0M82 26h0M106 24h0M44 -2h0M87 72h0M59 109h0M110 39h0M94 29h0M58 6h0M85 48h0M107 65h0M42 52h0M90 82h0M74 73h0M36 55h0M98 106h0M18 76h0" stroke="#dec6b4" stroke-width="3.1" stroke-linecap="round"/><path d="M70 38h0M99 91h0M112 109h0M66 81h0M31 2h0M57 51h0M53 59h0M9 71h0M61 75h0M98 32h0M85 49h0M2 60h0M77 59h0M9 -1h0M110 111h0M106 68h0M116 13h0M54 73h0M24 95h0M44 95h0M66 33h0M30 105h0M1 95h0M43 58h0M54 18h0M57 56h0M0 63h0M6 8h0M36 7h0M53 67h0M19 13h0M66 101h0M89 72h0M35 95h0M49 44h0M107 77h0M63 80h0M0 58h0M111 101h0M12 52h0M34 51h0M3 39h0M101 47h0M37 76h0M67 112h0M65 97h0M28 15h0M52 29h0M68 22h0M96 63h0M66 57h0M73 81h0M51 108h0M14 103h0M95 42h0M76 33h0M81 31h0M40 89h0M100 14h0M80 23h0M84 8h0M30 84h0M25 113h0M101 48h0M113 89h0M94 22h0" stroke="#7c4c2e" stroke-width="2.3" stroke-linecap="round"/><path d="M3 96h0M6 23h0M22 45h0M43 5h0M85 100h0M41 24h0M109 57h0M79 56h0M90 33h0M72 59h0M56 105h0M21 62h0M116 57h0M76 76h0M90 36h0M31 46h0M17 87h0M10 46h0M32 59h0M31 113h0M31 39h0M103 78h0M52 40h0M116 1h0M48 24h0M100 102h0M14 71h0M76 1h0M31 3h0M21 7h0M20 69h0M36 34h0M47 44h0M81 105h0M114 6h0M51 63h0M28 2h0M68 21h0M88 111h0M18 90h0M80 0h0M98 77h0M114 35h0M61 80h0M-2 74h0M3 46h0M75 23h0M18 103h0M84 76h0M68 53h0M13 85h0M16 52h0M7 33h0M114 28h0M68 42h0M3 72h0M61 81h0M110 4h0M75 5h0M41 28h0M67 96h0M29 18h0M52 74h0M50 79h0M75 17h0M8 64h0" stroke="#7c4c2e" stroke-width="2.8" stroke-linecap="round"/><path d="M-1 4h0M42 39h0M43 27h0M113 72h0M75 33h0M73 48h0M59 105h0M43 18h0M50 22h0M94 53h0M67 44h0M6 94h0M44 11h0M94 79h0M110 41h0M84 77h0M61 63h0M109 59h0M24 7h0M102 110h0M92 6h0M56 66h0M104 8h0M22 15h0M1 2h0M42 107h0M76 70h0M9 79h0M29 54h0M115 43h0M63 53h0M87 68h0M13 49h0M25 38h0M102 5h0M14 50h0M75 50h0M96 37h0M71 61h0M23 2h0M35 108h0M12 7h0M104 41h0M11 72h0M43 97h0M100 7h0M16 57h0M17 60h0M77 60h0M59 79h0M1 30h0M113 53h0M51 1h0M27 30h0M28 93h0M59 19h0M29 52h0M89 33h0M4 16h0M50 99h0M36 60h0M28 113h0M93 43h0M111 28h0M24 27h0M41 -2h0" stroke="#7c4c2e" stroke-width="3.3" stroke-linecap="round"/><path d="M34 11h0M34 100h0M84 66h0M13 91h0M56 34h0M9 44h0M58 38h0M76 67h0M17 26h0M31 48h0M87 92h0M78 105h0M67 12h0M-1 78h0M3 34h0M29 14h0M22 10h0M34 63h0M49 22h0M85 36h0M86 102h0M81 12h0M64 50h0M85 82h0M84 50h0M43 27h0M107 31h0M55 97h0M56 108h0M45 99h0M53 54h0M52 67h0M24 62h0M62 57h0M5 10h0M16 18h0M88 76h0M63 23h0M9 36h0M115 52h0M114 5h0M41 109h0M99 50h0M9 62h0M1 46h0M84 0h0" stroke="#40200f" stroke-width="2.7" stroke-linecap="round"/><path d="M56 30h0M99 8h0M94 35h0M113 109h0M50 3h0M79 92h0M24 93h0M27 1h0M85 86h0M105 31h0M82 30h0M111 0h0M96 3h0M54 16h0M27 27h0M50 95h0M6 59h0M31 37h0M99 25h0M104 55h0M21 9h0M36 25h0M41 107h0M58 20h0M58 53h0M59 56h0M26 111h0M74 32h0M92 63h0M67 33h0M35 42h0M51 92h0M83 34h0M37 28h0M16 64h0M91 13h0M99 80h0M13 4h0M101 28h0M91 53h0M109 46h0M103 33h0M61 52h0M113 59h0M30 17h0M11 54h0" stroke="#40200f" stroke-width="3.2" stroke-linecap="round"/><path d="M104 107h0M84 48h0M114 110h0M49 40h0M99 113h0M101 66h0M15 4h0M88 5h0M77 40h0M8 42h0M116 34h0M115 99h0M66 12h0M84 30h0M29 10h0M94 26h0M37 13h0M69 84h0M56 112h0M48 46h0M52 76h0M2 57h0M60 48h0M106 66h0M73 72h0M33 24h0M74 66h0M3 75h0M12 55h0M58 83h0M67 72h0M99 80h0M108 62h0M52 67h0M112 7h0M36 -2h0M37 106h0M54 88h0M5 100h0M12 90h0M68 62h0M113 11h0M49 46h0M1 16h0M108 110h0M88 107h0" stroke="#40200f" stroke-width="3.7" stroke-linecap="round"/></g></g>
<rect x="463.8" y="381.8" width="56.3" height="54.9" fill="none" stroke="#3c3c3c" stroke-width="0.9"/>
<text transform="translate(435.3,463.4) scale(1,1.1)" font-size="9" text-anchor="middle">Vehicle</text>
<text transform="translate(492.9,463.4) scale(1,1.1)" font-size="9" text-anchor="middle">Ribociclib</text>
<text transform="translate(435.6,588.5) scale(1,1.1)" font-size="9" text-anchor="middle">Binimetinib</text>
<text transform="translate(493.1,588.5) scale(1,1.1)" font-size="9" text-anchor="middle">Combo</text>
<clipPath id="c13"><rect x="405.3" y="468" width="55.9" height="56.4"/></clipPath>
<g clip-path="url(#c13)"><rect x="405.3" y="468" width="55.9" height="56.4" fill="#efdfd4"/><rect x="405.3" y="468" width="55.9" height="56.4" filter="url(#spT)"/><g filter="url(#bl2)" transform="translate(405.3,468) scale(0.5)"><path d="M109 54h0M12 17h0M27 44h0M62 57h0M56 1h0M73 70h0M25 22h0M78 102h0M110 59h0M74 104h0M94 113h0M26 21h0M5 92h0M10 82h0M-2 26h0M33 103h0M87 13h0M88 29h0M43 43h0M71 72h0M84 49h0M94 102h0M47 39h0M76 10h0M24 31h0M40 17h0M24 87h0M75 29h0M82 61h0M68 55h0M104 32h0M91 36h0M113 78h0M51 8h0M82 17h0M62 104h0M34 39h0M48 73h0M59 62h0M21 86h0M89 76h0M69 42h0M86 25h0M4 46h0M15 105h0M87 85h0M7 59h0M1 96h0M0 1h0M6 68h0M26 81h0M80 1h0M16 111h0M77 23h0M54 108h0M68 92h0M71 52h0M4 71h0M54 43h0M32 82h0M66 13h0M5 26h0M15 60h0M20 7h0M20 6h0M63 6h0M95 105h0M83 80h0M35 67h0M6 50h0M88 35h0M45 101h0M50 10h0" stroke="#d8bca8" stroke-width="2.2" stroke-linecap="round"/><path d="M75 18h0M99 95h0M99 113h0M42 59h0M102 30h0M19 76h0M22 53h0M49 91h0M87 100h0M100 90h0M28 65h0M89 73h0M62 12h0M30 2h0M41 88h0M57 56h0M38 53h0M35 76h0M0 58h0M42 17h0M19 101h0M1 58h0M8 78h0M104 61h0M84 109h0M9 33h0M14 111h0M75 46h0M110 73h0M50 63h0M65 19h0M71 31h0M1 13h0M50 27h0M98 35h0M97 74h0M100 69h0M1 75h0M-2 74h0M25 75h0M99 96h0M62 61h0M43 112h0M75 4h0M71 88h0M70 0h0M31 28h0M90 23h0M50 77h0M25 114h0M23 76h0M30 26h0M23 24h0M106 22h0M99 31h0M92 84h0M78 19h0M51 35h0M76 17h0M53 54h0M75 95h0M17 115h0M22 45h0M40 11h0M108 8h0M83 -1h0M27 60h0M-1 73h0M14 75h0M84 8h0M48 64h0M8 54h0M18 0h0" stroke="#d8bca8" stroke-width="2.7" stroke-linecap="round"/><path d="M70 59h0M12 46h0M66 45h0M64 28h0M23 27h0M83 88h0M75 31h0M30 60h0M97 18h0M85 111h0M91 12h0M102 84h0M64 25h0M29 12h0M40 80h0M20 82h0M57 72h0M108 39h0M57 12h0M101 82h0M67 90h0M79 44h0M55 58h0M25 52h0M0 86h0M95 17h0M10 39h0M108 114h0M113 41h0M28 39h0M27 52h0M44 51h0M61 -1h0M47 112h0M92 27h0M73 51h0M112 108h0M91 88h0M23 82h0M17 17h0M101 36h0M106 47h0M32 9h0M29 48h0M78 30h0M95 26h0M81 42h0M5 10h0M2 36h0M6 51h0M4 62h0M10 78h0M70 63h0M60 74h0M41 46h0M93 34h0M96 112h0M63 72h0M92 23h0M108 27h0M3 110h0M111 78h0M26 30h0M15 39h0M109 6h0M10 110h0M109 73h0M54 28h0M88 70h0M107 49h0M43 2h0M87 11h0M103 -1h0" stroke="#d8bca8" stroke-width="3.2" stroke-linecap="round"/><path d="M57 39h0M15 68h0M56 103h0M0 88h0M48 32h0M36 108h0M12 51h0M82 104h0M94 6h0M16 114h0M80 91h0M56 10h0M46 41h0M14 2h0M14 64h0M19 62h0M97 55h0M7 42h0M21 77h0M40 80h0M109 40h0M5 68h0M12 38h0M58 6h0M50 44h0M87 33h0M75 4h0M43 72h0M114 1h0M23 29h0M85 13h0M68 86h0M60 35h0M94 29h0M18 42h0M37 30h0M-1 94h0M24 112h0M65 81h0M30 33h0M24 107h0M50 52h0M19 101h0M-1 77h0M86 54h0M105 59h0M65 114h0M85 73h0M21 30h0M56 70h0M47 0h0M91 94h0M71 90h0M70 5h0M30 3h0M75 72h0M6 12h0M-1 69h0M77 48h0M15 47h0M92 16h0M76 76h0M46 103h0M50 86h0M25 114h0M68 114h0M55 38h0M88 2h0M68 19h0M28 16h0M57 26h0M15 100h0M80 98h0M28 88h0M54 111h0M36 83h0M76 35h0M90 48h0M16 42h0M27 69h0M13 9h0M17 19h0M9 105h0M37 66h0M68 77h0M89 34h0M52 95h0M40 102h0M30 23h0M54 9h0M24 1h0M9 20h0M109 97h0M64 4h0M104 40h0M91 78h0M109 94h0M36 45h0M38 107h0M36 88h0M8 79h0M39 7h0M111 111h0M97 80h0M25 60h0M1 4h0M24 105h0M53 65h0M82 7h0M75 110h0M63 62h0M81 72h0M30 81h0M27 30h0M17 112h0M111 10h0M81 100h0M103 111h0M23 91h0M75 77h0M37 52h0M3 0h0M17 103h0M76 105h0M102 61h0M63 80h0M31 62h0M79 35h0M23 19h0M80 14h0M105 64h0M56 68h0M27 115h0M67 94h0M14 84h0M96 37h0M16 73h0M46 102h0M95 67h0M93 90h0M100 95h0M48 56h0M25 23h0M74 92h0M51 115h0M110 81h0M99 43h0M103 104h0M95 67h0M55 112h0M18 78h0M48 82h0M81 96h0M32 10h0M111 109h0M83 -1h0M44 33h0M71 109h0M8 0h0M17 62h0M75 30h0M57 101h0M55 95h0M52 9h0M48 1h0M102 21h0M28 1h0M16 80h0M1 42h0M49 84h0M5 112h0M100 91h0M69 87h0M79 54h0M7 97h0M-2 59h0M22 67h0M66 44h0M40 113h0M64 34h0" stroke="#8c5028" stroke-width="2.3" stroke-linecap="round"/><path d="M44 75h0M94 35h0M60 68h0M65 95h0M38 79h0M1 45h0M33 65h0M34 41h0M25 27h0M76 0h0M49 91h0M91 62h0M-2 19h0M87 2h0M10 10h0M52 8h0M2 78h0M25 78h0M95 90h0M98 49h0M96 26h0M110 68h0M108 77h0M101 86h0M99 17h0M53 94h0M66 70h0M96 99h0M101 38h0M95 5h0M46 68h0M82 1h0M102 63h0M-1 47h0M31 51h0M24 112h0M110 110h0M55 86h0M8 8h0M75 114h0M47 74h0M102 2h0M96 111h0M5 113h0M14 53h0M3 5h0M32 75h0M99 64h0M87 89h0M68 20h0M51 59h0M17 99h0M23 102h0M20 -1h0M36 27h0M21 110h0M69 9h0M3 3h0M40 105h0M53 34h0M73 86h0M43 103h0M92 56h0M54 62h0M30 47h0M89 82h0M89 42h0M55 24h0M63 83h0M112 85h0M-2 27h0M65 78h0M27 91h0M111 12h0M31 48h0M17 65h0M35 111h0M86 111h0M73 108h0M79 71h0M47 75h0M71 47h0M108 5h0M33 14h0M18 106h0M67 16h0M58 43h0M60 104h0M87 82h0M86 106h0M82 89h0M36 30h0M63 87h0M1 33h0M91 82h0M104 14h0M24 113h0M71 17h0M55 86h0M3 67h0M101 56h0M0 38h0M99 56h0M34 106h0M61 94h0M81 113h0M41 56h0M82 50h0M59 16h0M96 50h0M68 17h0M25 109h0M2 90h0M19 36h0M87 20h0M85 112h0M80 36h0M70 53h0M19 8h0M5 67h0M29 115h0M1 5h0M99 56h0M36 51h0M74 14h0M59 9h0M39 14h0M88 1h0M90 68h0M14 4h0M74 69h0M28 73h0M42 88h0M86 54h0M4 56h0M1 90h0M19 5h0M1 113h0M87 112h0M97 64h0M4 43h0M53 83h0M41 41h0M40 45h0M88 102h0M81 38h0M8 26h0M13 101h0M75 58h0M49 57h0M39 110h0M22 75h0M73 41h0M88 73h0M110 86h0M43 22h0M88 74h0M112 101h0M63 3h0M99 27h0M2 74h0M76 98h0M62 44h0M108 17h0M44 39h0M74 80h0M11 54h0M52 63h0M70 38h0M89 84h0M62 35h0M73 71h0M45 25h0M107 0h0M75 34h0M102 113h0M70 36h0M31 108h0M0 7h0M107 108h0" stroke="#8c5028" stroke-width="2.8" stroke-linecap="round"/><path d="M70 97h0M95 86h0M83 20h0M30 36h0M82 44h0M59 7h0M54 -2h0M70 110h0M2 17h0M88 88h0M47 81h0M48 55h0M65 107h0M77 104h0M3 13h0M23 43h0M36 7h0M85 53h0M5 54h0M86 67h0M34 35h0M104 102h0M103 88h0M12 15h0M57 102h0M75 33h0M16 37h0M78 114h0M56 45h0M65 98h0M98 50h0M90 57h0M107 81h0M61 55h0M34 69h0M91 2h0M89 20h0M63 65h0M20 80h0M27 69h0M0 24h0M65 113h0M96 53h0M5 24h0M25 20h0M96 34h0M55 64h0M25 100h0M42 40h0M38 103h0M108 16h0M8 77h0M11 16h0M38 96h0M96 58h0M15 70h0M95 111h0M3 63h0M14 66h0M26 73h0M99 17h0M97 28h0M-1 -2h0M31 98h0M105 11h0M50 78h0M9 78h0M104 82h0M108 105h0M113 10h0M70 57h0M11 80h0M60 32h0M21 77h0M45 25h0M10 19h0M81 105h0M85 110h0M111 54h0M23 32h0M41 39h0M36 27h0M49 19h0M107 77h0M46 76h0M53 95h0M65 103h0M64 90h0M110 74h0M19 82h0M38 37h0M63 44h0M80 87h0M17 4h0M66 95h0M78 15h0M102 57h0M25 59h0M38 5h0M80 104h0M6 74h0M26 13h0M37 57h0M5 10h0M99 29h0M62 104h0M102 17h0M1 49h0M73 32h0M10 75h0M14 69h0M86 63h0M8 56h0M63 85h0M39 92h0M2 6h0M90 63h0M25 106h0M7 40h0M33 17h0M21 90h0M72 6h0M10 88h0M58 61h0M45 72h0M78 113h0M102 31h0M102 93h0M105 35h0M79 102h0M80 88h0M16 14h0M112 65h0M100 3h0M19 54h0M55 30h0M32 5h0M100 108h0M93 20h0M6 109h0M100 85h0M75 18h0M108 45h0M20 92h0M78 80h0M102 5h0M98 62h0M10 78h0M0 109h0M80 87h0M48 35h0M45 85h0M24 108h0M4 68h0M18 33h0M47 51h0M84 16h0M113 113h0M110 67h0M16 -1h0M101 103h0M66 109h0M66 65h0M111 89h0M82 22h0M26 65h0M83 50h0M92 67h0M91 75h0M34 16h0M98 91h0M102 104h0M51 53h0M51 15h0M70 51h0M46 8h0M7 93h0M41 32h0M18 86h0M45 37h0" stroke="#8c5028" stroke-width="3.3" stroke-linecap="round"/><path d="M100 75h0M63 53h0M56 14h0M75 17h0M69 83h0M22 94h0M96 90h0M110 92h0M85 101h0M85 42h0M14 110h0M11 112h0M20 83h0M43 52h0M73 11h0M13 21h0M113 77h0M46 69h0M51 67h0M16 105h0M1 107h0M36 92h0M7 57h0M66 66h0M92 15h0M96 112h0M7 24h0M64 26h0M32 4h0M20 10h0M104 4h0M89 95h0M57 8h0M32 68h0M86 75h0M76 80h0M84 101h0M99 91h0M40 49h0M40 52h0M82 43h0M50 80h0M51 75h0M68 72h0M44 57h0M55 73h0M3 0h0M113 93h0M91 74h0M94 5h0M66 97h0M5 83h0M84 98h0M62 102h0M52 55h0M100 101h0M20 17h0M19 112h0M61 85h0M109 82h0M57 29h0M65 41h0M95 90h0M80 63h0M59 49h0M85 113h0M76 59h0M5 43h0M15 1h0M70 26h0M84 77h0M85 95h0M39 6h0M106 66h0M58 51h0M93 108h0M11 16h0M46 56h0M5 23h0M22 2h0M57 81h0M34 112h0M79 22h0M51 102h0M5 91h0M45 9h0M62 48h0M73 4h0M90 96h0M65 50h0M98 36h0M6 76h0M38 111h0M-1 55h0M41 24h0M44 74h0M29 87h0M6 30h0M39 19h0M38 49h0M57 65h0M78 106h0M49 78h0M54 86h0M31 62h0M72 49h0M39 19h0M89 95h0M87 -1h0M80 15h0M103 36h0M72 27h0M113 67h0M15 24h0M13 72h0M55 32h0M81 42h0M18 55h0M36 5h0M21 13h0M1 100h0M28 109h0M9 14h0M75 48h0M77 60h0M94 24h0M8 88h0M34 18h0M18 96h0M74 104h0M93 6h0M52 90h0M26 31h0" stroke="#4a2412" stroke-width="2.5" stroke-linecap="round"/><path d="M9 45h0M104 10h0M43 3h0M108 58h0M63 30h0M66 0h0M45 72h0M60 23h0M107 49h0M63 101h0M91 91h0M35 0h0M105 44h0M60 4h0M3 101h0M1 62h0M-1 28h0M62 28h0M50 28h0M23 81h0M0 43h0M63 49h0M62 6h0M106 45h0M74 26h0M107 96h0M108 5h0M13 43h0M111 30h0M107 0h0M48 105h0M59 25h0M74 37h0M10 92h0M60 83h0M24 103h0M8 17h0M34 98h0M101 82h0M69 78h0M1 78h0M78 4h0M92 3h0M30 73h0M105 32h0M51 95h0M21 37h0M42 56h0M18 10h0M46 25h0M-1 80h0M32 93h0M67 41h0M8 6h0M88 103h0M13 66h0M50 2h0M29 56h0M16 33h0M19 101h0M37 13h0M47 114h0M85 66h0M107 77h0M46 26h0M24 57h0M52 100h0M68 112h0M24 49h0M55 91h0M100 89h0M1 60h0M42 73h0M30 21h0M55 54h0M54 73h0M79 73h0M12 101h0M57 11h0M4 60h0M13 36h0M31 105h0M106 97h0M57 86h0M59 109h0M52 -1h0M112 52h0M106 45h0M110 75h0M30 36h0M96 31h0M73 84h0M75 45h0M52 0h0M32 40h0M64 20h0M84 98h0M101 108h0M52 20h0M4 56h0M92 37h0M97 58h0M113 17h0M39 54h0M95 65h0M47 104h0M70 66h0M9 -2h0M89 61h0M30 17h0M94 64h0M89 48h0M45 66h0M25 96h0M84 35h0M27 40h0M55 12h0M87 95h0M43 113h0M71 38h0M98 2h0M72 64h0M85 72h0M101 100h0M107 7h0M39 23h0M8 46h0M39 54h0M9 112h0M113 49h0M10 54h0M25 69h0M3 83h0" stroke="#4a2412" stroke-width="3" stroke-linecap="round"/><path d="M73 54h0M84 19h0M101 38h0M93 70h0M33 102h0M31 87h0M90 54h0M30 1h0M74 106h0M99 30h0M111 103h0M53 85h0M9 91h0M89 69h0M32 79h0M3 110h0M97 40h0M11 111h0M111 43h0M13 73h0M72 92h0M95 53h0M86 11h0M69 6h0M64 103h0M18 106h0M15 94h0M-1 89h0M69 74h0M41 57h0M23 17h0M101 25h0M83 32h0M30 96h0M91 102h0M48 78h0M94 24h0M24 84h0M8 4h0M58 83h0M84 66h0M74 73h0M97 37h0M39 52h0M37 112h0M50 70h0M53 86h0M40 41h0M96 40h0M0 60h0M96 72h0M51 33h0M49 70h0M9 7h0M107 60h0M9 110h0M44 70h0M91 89h0M33 11h0M68 105h0M79 68h0M81 88h0M64 80h0M52 100h0M98 114h0M112 76h0M41 18h0M38 9h0M89 101h0M110 80h0M85 78h0M37 82h0M89 55h0M36 94h0M29 50h0M101 80h0M85 71h0M13 87h0M81 40h0M63 112h0M82 -1h0M38 49h0M89 30h0M17 33h0M26 96h0M81 8h0M97 10h0M72 29h0M82 49h0M31 47h0M106 69h0M23 98h0M102 2h0M41 91h0M80 5h0M29 97h0M12 102h0M45 54h0M61 10h0M23 33h0M9 98h0M45 37h0M16 23h0M58 11h0M79 23h0M70 78h0M7 78h0M6 97h0M100 79h0M96 21h0M85 33h0M41 59h0M15 32h0M102 44h0M100 21h0M28 59h0M6 31h0M81 38h0M1 96h0M84 80h0M81 106h0M24 15h0M68 69h0M110 9h0M42 94h0M10 24h0M11 102h0M100 49h0M77 70h0M8 66h0M27 12h0M39 89h0M11 5h0" stroke="#4a2412" stroke-width="3.5" stroke-linecap="round"/></g></g>
<rect x="405.8" y="468.4" width="55" height="55.5" fill="none" stroke="#3c3c3c" stroke-width="0.9"/>
<clipPath id="c14"><rect x="462.9" y="468" width="57.6" height="56.4"/></clipPath>
<g clip-path="url(#c14)"><rect x="462.9" y="468" width="57.6" height="56.4" fill="#ecdfd8"/><rect x="462.9" y="468" width="57.6" height="56.4" filter="url(#spG)"/><g filter="url(#bl3)" opacity="0.6"><circle cx="481.8" cy="500.7" r="5.5" fill="#c8cde0"/><circle cx="508.2" cy="494.3" r="5.5" fill="#c8cde0"/><circle cx="519.3" cy="491.5" r="4.3" fill="#c8cde0"/><circle cx="471.2" cy="521.3" r="5.4" fill="#c8cde0"/><circle cx="489.9" cy="520.2" r="4.7" fill="#c8cde0"/><circle cx="477.4" cy="508.3" r="4.1" fill="#c8cde0"/></g><g filter="url(#bl2)" transform="translate(462.9,468) scale(0.5)"><path d="M6 10h0M104 87h0M117 82h0M12 3h0M70 72h0M88 101h0M2 61h0M96 8h0M14 76h0M117 22h0M92 1h0M40 12h0M53 22h0M67 110h0M6 21h0M27 18h0M75 44h0M-2 53h0M55 81h0M67 69h0M45 88h0M94 35h0M62 -2h0M0 77h0M83 15h0M-2 92h0M92 65h0M86 2h0M67 78h0M24 34h0M4 64h0M101 58h0M16 40h0M84 22h0M111 79h0M70 -1h0M66 90h0M27 37h0M61 24h0M17 9h0M78 72h0M97 13h0M92 34h0M93 61h0M51 42h0M4 49h0M87 89h0M116 13h0M104 -1h0M65 80h0M104 89h0M86 102h0M47 24h0M15 101h0M9 29h0M85 106h0M99 22h0M0 114h0M109 70h0M54 103h0M59 43h0M47 42h0M102 21h0M88 89h0M97 0h0M50 21h0M78 75h0M28 26h0M56 29h0M100 39h0M0 92h0M18 69h0M105 75h0" stroke="#d8c0b0" stroke-width="2.2" stroke-linecap="round"/><path d="M102 113h0M39 40h0M116 12h0M48 69h0M100 84h0M46 22h0M87 78h0M82 20h0M7 59h0M68 96h0M98 41h0M58 81h0M10 2h0M89 98h0M21 47h0M10 71h0M24 71h0M43 44h0M78 60h0M3 106h0M5 57h0M28 47h0M99 99h0M32 25h0M69 58h0M107 33h0M31 36h0M25 78h0M67 112h0M75 67h0M106 102h0M97 9h0M69 95h0M82 34h0M91 61h0M101 33h0M28 112h0M71 65h0M19 87h0M24 85h0M27 66h0M7 55h0M51 44h0M11 52h0M109 19h0M59 71h0M36 35h0M106 80h0M45 92h0M9 73h0M12 84h0M45 94h0M101 65h0M48 49h0M65 108h0M72 39h0M101 11h0M117 2h0M61 10h0M81 18h0M11 13h0M38 83h0M101 73h0M38 102h0M50 22h0M19 108h0M40 98h0M16 21h0M79 94h0M68 10h0M29 110h0M0 47h0M76 14h0" stroke="#d8c0b0" stroke-width="2.7" stroke-linecap="round"/><path d="M66 110h0M84 109h0M61 11h0M72 48h0M61 107h0M18 48h0M27 7h0M9 69h0M88 51h0M113 37h0M76 73h0M2 110h0M76 87h0M38 1h0M3 42h0M50 94h0M46 50h0M60 24h0M70 65h0M71 32h0M91 43h0M25 62h0M24 85h0M44 23h0M106 56h0M0 102h0M65 57h0M109 66h0M67 15h0M52 51h0M56 55h0M112 100h0M38 11h0M59 113h0M70 104h0M80 86h0M91 7h0M100 16h0M116 94h0M35 22h0M16 15h0M12 84h0M100 75h0M53 0h0M84 33h0M102 62h0M110 2h0M32 -1h0M117 61h0M54 11h0M6 56h0M9 12h0M94 34h0M36 0h0M71 76h0M30 13h0M13 63h0M60 30h0M70 85h0M98 45h0M40 42h0M47 23h0M103 17h0M90 5h0M33 9h0M90 100h0M102 32h0M81 74h0M13 0h0M34 100h0M3 95h0M34 95h0M68 27h0" stroke="#d8c0b0" stroke-width="3.2" stroke-linecap="round"/><path d="M101 26h0M68 2h0M117 101h0M28 15h0M100 113h0M78 35h0M36 14h0M94 70h0M27 68h0M97 9h0M15 91h0M107 18h0M73 51h0M0 48h0M67 110h0M113 26h0M68 56h0M11 97h0M53 73h0M45 38h0M49 48h0M65 66h0M57 11h0M71 40h0M55 76h0M85 41h0M73 18h0M1 5h0M22 59h0M7 14h0M47 36h0M9 57h0M114 52h0M66 85h0M68 83h0M4 30h0M12 31h0M29 89h0M59 100h0M100 44h0M32 97h0M36 51h0M14 92h0M70 23h0M97 19h0M96 106h0M98 29h0M51 90h0M6 18h0M33 41h0M79 62h0M85 73h0M16 46h0M18 87h0M114 89h0M77 72h0M77 57h0M103 50h0M81 102h0M37 89h0M65 69h0M58 68h0M67 17h0M47 52h0M26 1h0M80 48h0M67 113h0M114 104h0M96 89h0M95 47h0M7 11h0M59 38h0M80 67h0M37 66h0M2 103h0M74 64h0M100 16h0M61 66h0M86 90h0M24 54h0M74 8h0M14 29h0M50 32h0M112 75h0M84 32h0M100 78h0M109 89h0M99 6h0M87 95h0M50 78h0M40 11h0M35 84h0M34 35h0M13 49h0M27 43h0M56 9h0M83 15h0M70 72h0M78 92h0M95 56h0M74 97h0M76 72h0M82 83h0M78 88h0M94 94h0M60 18h0M112 57h0M21 38h0M87 9h0M-1 41h0M112 109h0M65 110h0M61 44h0M4 -1h0M72 9h0M8 103h0M62 23h0M66 98h0M-1 -2h0M78 15h0M92 74h0M77 62h0M112 108h0M106 100h0M11 17h0M79 50h0M68 22h0M3 111h0M8 6h0M107 39h0M112 75h0M115 65h0M50 42h0M84 98h0M21 69h0M4 67h0M83 81h0M34 5h0M72 89h0M105 77h0M22 28h0M38 33h0M108 30h0M73 51h0M73 50h0M102 12h0" stroke="#8c5028" stroke-width="2.3" stroke-linecap="round"/><path d="M33 50h0M33 44h0M112 86h0M7 115h0M101 32h0M38 37h0M14 68h0M108 81h0M33 110h0M25 106h0M117 111h0M79 4h0M100 97h0M77 31h0M67 50h0M71 91h0M6 56h0M65 25h0M75 20h0M24 110h0M101 97h0M107 0h0M48 76h0M90 16h0M59 93h0M60 60h0M53 3h0M16 44h0M97 75h0M55 53h0M32 31h0M115 4h0M10 52h0M46 27h0M83 38h0M31 109h0M31 60h0M50 64h0M83 17h0M68 19h0M104 94h0M84 76h0M11 97h0M7 32h0M8 28h0M35 86h0M86 24h0M38 104h0M7 57h0M2 66h0M106 108h0M61 50h0M26 3h0M9 39h0M108 114h0M30 79h0M117 44h0M106 92h0M77 1h0M72 23h0M18 44h0M109 65h0M84 29h0M20 9h0M34 39h0M73 49h0M17 56h0M30 57h0M49 95h0M28 89h0M54 61h0M44 101h0M112 2h0M24 22h0M19 106h0M8 62h0M95 7h0M9 -2h0M106 8h0M115 39h0M24 44h0M37 6h0M82 7h0M98 98h0M60 20h0M95 22h0M26 99h0M22 18h0M64 96h0M9 52h0M103 55h0M113 87h0M102 114h0M21 78h0M68 115h0M110 78h0M68 36h0M113 27h0M66 64h0M65 2h0M64 111h0M22 58h0M109 60h0M24 74h0M6 70h0M90 95h0M48 101h0M18 46h0M46 105h0M87 35h0M13 45h0M77 20h0M85 13h0M22 70h0M115 96h0M25 7h0M-1 45h0M27 40h0M28 8h0M74 84h0M43 88h0M77 104h0M1 13h0M54 51h0M74 102h0M105 92h0M13 23h0M83 93h0M21 106h0M94 22h0M116 67h0M86 1h0M95 108h0M113 28h0M7 45h0M1 67h0M36 39h0M98 97h0M46 77h0M73 43h0M6 36h0M42 85h0M57 73h0M65 20h0M62 44h0M56 23h0" stroke="#8c5028" stroke-width="2.8" stroke-linecap="round"/><path d="M8 91h0M1 24h0M35 14h0M86 36h0M59 11h0M105 109h0M11 87h0M5 75h0M45 22h0M4 42h0M109 105h0M10 49h0M74 75h0M96 79h0M115 6h0M80 72h0M83 64h0M45 81h0M26 10h0M68 27h0M89 16h0M90 79h0M81 10h0M52 63h0M95 64h0M49 55h0M57 50h0M88 18h0M102 87h0M91 59h0M41 4h0M100 35h0M101 10h0M5 51h0M66 14h0M84 114h0M19 38h0M70 96h0M1 48h0M20 10h0M20 94h0M43 55h0M88 91h0M46 6h0M112 61h0M88 6h0M20 54h0M114 110h0M50 46h0M104 79h0M60 115h0M44 95h0M116 74h0M65 24h0M34 111h0M75 84h0M-1 16h0M77 34h0M28 114h0M107 21h0M3 17h0M10 85h0M37 49h0M79 63h0M20 47h0M70 63h0M16 12h0M91 65h0M105 28h0M50 64h0M62 50h0M67 53h0M75 66h0M33 45h0M111 109h0M91 12h0M18 33h0M55 73h0M7 99h0M58 67h0M114 100h0M84 0h0M114 3h0M83 9h0M4 19h0M51 6h0M97 67h0M60 0h0M15 15h0M88 111h0M75 35h0M105 68h0M64 36h0M37 93h0M75 87h0M35 10h0M99 42h0M34 27h0M3 18h0M23 5h0M65 109h0M62 74h0M29 4h0M105 78h0M65 55h0M75 28h0M112 97h0M41 24h0M85 85h0M0 66h0M21 84h0M35 87h0M12 94h0M48 39h0M58 13h0M94 103h0M23 12h0M36 43h0M18 88h0M4 18h0M109 94h0M85 50h0M19 93h0M92 89h0M77 99h0M75 33h0M67 35h0M43 4h0M58 24h0M11 6h0M9 9h0M-1 31h0M20 55h0M15 34h0M86 26h0M101 58h0M45 24h0M61 38h0M60 25h0M76 115h0M2 27h0M103 0h0M107 67h0M82 98h0M56 58h0M51 47h0" stroke="#8c5028" stroke-width="3.3" stroke-linecap="round"/><path d="M84 23h0M94 -1h0M14 68h0M52 50h0M35 92h0M42 85h0M75 62h0M116 33h0M60 45h0M6 29h0M103 28h0M21 8h0M92 76h0M-2 51h0M42 59h0M68 50h0M0 29h0M84 24h0M52 10h0M15 62h0M90 80h0M16 4h0M97 22h0M3 48h0M115 78h0M107 108h0M54 55h0M111 47h0M114 -2h0M114 86h0M31 87h0M43 9h0M117 107h0M49 108h0M58 64h0M91 66h0M76 16h0M110 7h0M100 32h0M59 37h0M25 10h0M50 41h0M94 54h0M58 94h0M26 24h0M88 107h0M78 8h0M75 24h0M60 40h0M101 97h0M19 78h0M115 101h0M7 92h0M113 75h0M114 9h0M30 91h0M34 9h0M93 38h0M78 80h0M57 20h0M82 75h0M41 84h0M39 41h0M99 63h0M74 94h0M34 109h0M48 71h0M37 110h0M46 57h0M111 29h0M71 98h0M110 57h0M101 29h0M25 98h0M11 18h0M49 67h0M83 3h0M42 107h0M75 27h0M64 86h0M37 44h0M14 88h0M110 12h0M22 73h0M22 63h0M105 81h0M6 87h0M16 94h0M9 115h0M90 66h0M113 101h0M77 7h0M57 53h0M117 59h0M117 91h0M107 7h0M109 22h0M27 59h0M65 105h0M50 71h0" stroke="#4a2412" stroke-width="2.5" stroke-linecap="round"/><path d="M14 67h0M38 9h0M115 30h0M27 33h0M23 94h0M103 62h0M0 34h0M92 110h0M61 7h0M5 32h0M6 79h0M80 30h0M60 84h0M2 68h0M65 31h0M20 77h0M76 14h0M63 12h0M30 -2h0M6 8h0M90 5h0M68 29h0M29 91h0M66 87h0M81 108h0M62 41h0M25 75h0M86 70h0M84 32h0M57 28h0M48 68h0M62 33h0M63 53h0M39 17h0M54 28h0M7 80h0M101 70h0M108 13h0M68 24h0M68 25h0M54 24h0M2 1h0M101 11h0M12 113h0M21 57h0M117 108h0M50 2h0M24 84h0M97 53h0M89 26h0M23 7h0M84 55h0M27 28h0M45 12h0M67 84h0M61 38h0M33 42h0M34 90h0M51 30h0M-1 68h0M57 67h0M62 22h0M74 6h0M1 21h0M53 42h0M27 17h0M86 1h0M7 57h0M111 61h0M26 100h0M102 54h0M52 93h0M39 57h0M103 108h0M86 108h0M65 36h0M101 96h0M13 13h0M99 43h0M8 88h0M-2 58h0M51 7h0M23 10h0M12 81h0M99 -2h0M33 57h0M17 45h0M17 8h0M5 8h0M0 27h0M30 105h0M69 59h0M75 62h0M100 62h0M113 108h0M13 83h0M0 53h0M14 42h0M54 41h0M24 27h0" stroke="#4a2412" stroke-width="3" stroke-linecap="round"/><path d="M101 103h0M82 7h0M114 107h0M95 31h0M-2 113h0M76 101h0M106 88h0M116 17h0M62 58h0M7 5h0M47 95h0M81 110h0M5 48h0M52 114h0M56 59h0M101 106h0M61 29h0M117 21h0M28 23h0M27 81h0M43 9h0M4 26h0M59 38h0M-1 27h0M107 21h0M104 18h0M85 73h0M0 13h0M12 18h0M82 0h0M71 54h0M25 58h0M75 32h0M4 39h0M19 49h0M78 4h0M90 0h0M39 19h0M65 99h0M10 51h0M61 58h0M72 92h0M8 70h0M88 83h0M29 60h0M70 57h0M21 29h0M112 75h0M96 62h0M75 -1h0M0 71h0M89 87h0M32 48h0M81 104h0M19 35h0M6 34h0M78 34h0M1 32h0M71 38h0M4 34h0M44 57h0M92 3h0M53 20h0M68 102h0M70 2h0M18 24h0M9 33h0M20 11h0M14 113h0M71 16h0M105 22h0M115 106h0M76 10h0M65 72h0M75 20h0M47 46h0M33 48h0M104 69h0M81 32h0M108 110h0M64 38h0M40 25h0M6 92h0M24 19h0M73 15h0M78 30h0M30 3h0M79 25h0M82 19h0M96 7h0M29 97h0M67 4h0M2 26h0M32 90h0M90 2h0M81 61h0M99 29h0M45 46h0M57 72h0M104 87h0" stroke="#4a2412" stroke-width="3.5" stroke-linecap="round"/></g></g>
<rect x="463.3" y="468.4" width="56.7" height="55.5" fill="none" stroke="#3c3c3c" stroke-width="0.9"/>
<clipPath id="c15"><rect x="405.3" y="524.4" width="55.9" height="55.8"/></clipPath>
<g clip-path="url(#c15)"><rect x="405.3" y="524.4" width="55.9" height="55.8" fill="#ecdfd8"/><rect x="405.3" y="524.4" width="55.9" height="55.8" filter="url(#spG)"/><g filter="url(#bl3)" opacity="0.6"><circle cx="432.2" cy="564.8" r="4.7" fill="#c8cde0"/><circle cx="449.6" cy="568.2" r="6.8" fill="#c8cde0"/><circle cx="424.2" cy="543.3" r="6.9" fill="#c8cde0"/><circle cx="429.2" cy="576" r="4.8" fill="#c8cde0"/><circle cx="452.8" cy="543" r="4.9" fill="#c8cde0"/></g><g filter="url(#bl2)" transform="translate(405.3,524.4) scale(0.5)"><path d="M30 74h0M113 21h0M71 55h0M92 2h0M40 39h0M110 24h0M100 90h0M89 22h0M13 27h0M25 61h0M36 57h0M70 101h0M77 78h0M114 22h0M6 12h0M25 52h0M81 98h0M74 94h0M89 27h0M22 34h0M15 53h0M89 5h0M15 90h0M72 31h0M43 62h0M14 14h0M-2 67h0M41 85h0M89 55h0M58 41h0M86 -1h0M109 109h0M22 30h0M3 31h0M11 93h0M81 89h0M99 65h0M89 78h0M8 105h0M50 15h0M105 1h0M36 7h0M62 109h0M58 57h0M74 53h0M40 80h0M104 54h0M91 3h0M102 57h0M78 67h0M5 64h0M34 16h0M83 3h0M25 96h0M27 109h0M38 55h0M56 70h0M22 69h0M102 25h0M84 93h0M24 112h0M40 93h0M54 54h0M91 90h0M111 21h0M11 98h0M41 71h0M100 77h0M103 83h0M5 77h0M-1 73h0M26 35h0M1 29h0" stroke="#d8c0b0" stroke-width="2.2" stroke-linecap="round"/><path d="M36 99h0M86 72h0M90 -1h0M5 7h0M24 34h0M68 79h0M83 4h0M30 -1h0M71 107h0M98 37h0M1 44h0M42 5h0M11 0h0M69 64h0M88 7h0M22 19h0M60 97h0M49 90h0M88 50h0M52 39h0M105 29h0M-2 51h0M40 112h0M101 21h0M103 99h0M42 102h0M100 52h0M79 1h0M24 15h0M32 73h0M50 48h0M94 33h0M14 6h0M109 110h0M90 110h0M109 17h0M77 40h0M112 19h0M75 54h0M30 112h0M113 96h0M19 38h0M51 57h0M70 85h0M49 70h0M55 112h0M4 93h0M27 23h0M110 26h0M61 94h0M18 30h0M28 5h0M106 37h0M53 26h0M95 70h0M101 114h0M94 65h0M47 2h0M112 59h0M88 62h0M98 104h0M19 50h0M10 84h0M32 99h0M66 66h0M112 52h0M95 4h0M30 14h0M60 56h0M17 14h0M18 71h0M65 24h0M107 71h0" stroke="#d8c0b0" stroke-width="2.7" stroke-linecap="round"/><path d="M5 31h0M109 43h0M16 21h0M38 13h0M92 108h0M56 14h0M32 23h0M0 74h0M100 28h0M38 17h0M104 6h0M105 107h0M102 94h0M0 89h0M96 57h0M26 44h0M104 63h0M113 65h0M29 8h0M0 107h0M-1 39h0M63 6h0M104 16h0M57 96h0M20 105h0M70 62h0M81 76h0M10 8h0M7 64h0M20 36h0M100 60h0M105 28h0M4 19h0M53 21h0M8 16h0M40 66h0M67 31h0M70 45h0M16 98h0M5 10h0M106 35h0M7 104h0M-1 26h0M16 73h0M35 28h0M31 111h0M100 84h0M35 74h0M13 46h0M36 68h0M100 24h0M67 52h0M77 9h0M41 53h0M18 49h0M27 29h0M113 58h0M97 74h0M2 50h0M64 60h0M94 4h0M104 108h0M84 58h0M13 92h0M43 63h0M54 55h0M41 75h0M70 2h0M22 26h0M41 0h0M3 94h0M65 103h0M21 5h0" stroke="#d8c0b0" stroke-width="3.2" stroke-linecap="round"/><path d="M112 7h0M25 18h0M42 23h0M42 14h0M96 27h0M36 96h0M36 67h0M107 4h0M86 52h0M81 31h0M24 12h0M93 83h0M80 35h0M71 104h0M68 105h0M64 95h0M10 98h0M-1 51h0M60 25h0M37 81h0M85 78h0M111 30h0M0 41h0M72 21h0M46 51h0M4 79h0M64 102h0M53 83h0M61 5h0M102 51h0M107 31h0M29 2h0M63 77h0M18 30h0M23 43h0M104 18h0M106 10h0M36 106h0M77 102h0M83 45h0M43 99h0M44 44h0M89 113h0M70 21h0M102 10h0M106 48h0M15 90h0M16 62h0M78 17h0M48 10h0M23 105h0M111 82h0M70 109h0M54 62h0M72 37h0M29 86h0M59 89h0M13 47h0M76 113h0M29 87h0M21 65h0M25 6h0M33 11h0M4 13h0M36 19h0M89 62h0M113 106h0M72 78h0M50 13h0M54 35h0M55 18h0M64 65h0M31 20h0M78 36h0M-1 77h0M40 97h0M103 77h0M87 10h0M11 15h0M0 96h0M56 63h0M92 16h0M19 110h0M74 29h0M76 5h0M30 19h0M16 7h0M44 77h0M34 99h0M104 65h0M72 68h0M81 21h0M88 52h0M1 59h0M31 66h0M10 52h0M34 36h0M6 56h0M109 29h0M74 104h0M98 20h0M22 68h0M86 34h0M62 21h0M77 101h0M29 74h0M71 29h0M59 102h0M17 32h0M48 53h0M63 38h0M52 96h0M26 88h0M20 109h0M76 29h0M52 35h0M25 61h0M85 31h0M45 92h0M113 33h0M40 6h0M28 47h0M37 31h0M92 17h0M28 93h0M69 10h0M28 19h0M11 63h0M84 39h0M105 1h0M46 68h0M14 43h0M71 47h0M76 51h0M67 20h0M89 61h0M41 22h0M1 60h0M48 62h0M40 92h0M60 32h0M45 26h0M19 52h0M4 90h0M104 70h0M56 7h0M25 48h0M102 18h0M0 10h0M110 56h0" stroke="#8c5028" stroke-width="2.3" stroke-linecap="round"/><path d="M12 7h0M19 34h0M65 47h0M23 112h0M36 19h0M25 81h0M86 56h0M17 75h0M27 109h0M96 66h0M4 72h0M80 34h0M33 95h0M103 16h0M53 69h0M33 48h0M3 113h0M9 102h0M72 39h0M59 82h0M37 -1h0M11 45h0M36 5h0M27 79h0M107 81h0M100 10h0M58 28h0M50 20h0M47 27h0M18 92h0M65 68h0M17 36h0M57 99h0M39 12h0M42 87h0M42 57h0M74 79h0M4 40h0M25 0h0M111 73h0M39 35h0M25 112h0M19 74h0M64 63h0M64 94h0M77 52h0M107 41h0M51 68h0M79 69h0M113 112h0M112 79h0M41 12h0M56 61h0M52 58h0M75 35h0M34 72h0M45 78h0M60 59h0M18 26h0M75 0h0M7 65h0M74 99h0M99 9h0M76 71h0M61 43h0M32 94h0M17 4h0M90 45h0M88 102h0M13 25h0M77 75h0M20 98h0M70 4h0M16 87h0M36 109h0M11 89h0M40 88h0M14 66h0M61 25h0M68 83h0M45 17h0M47 15h0M4 95h0M66 65h0M10 50h0M87 50h0M5 84h0M57 14h0M95 17h0M64 48h0M110 49h0M73 -1h0M108 86h0M109 21h0M26 24h0M68 51h0M62 109h0M5 28h0M4 110h0M57 100h0M113 64h0M96 12h0M24 57h0M12 36h0M42 47h0M38 110h0M83 50h0M108 32h0M41 4h0M69 67h0M81 12h0M75 102h0M7 108h0M50 26h0M69 43h0M3 45h0M71 99h0M18 25h0M53 28h0M66 51h0M26 80h0M57 19h0M36 81h0M11 18h0M43 55h0M111 31h0M92 104h0M5 112h0M86 104h0M41 49h0M104 59h0M101 17h0M18 98h0M30 72h0M105 96h0M0 111h0M85 90h0M78 45h0M54 94h0M104 31h0M109 8h0M44 22h0M7 53h0M72 89h0M107 5h0M28 84h0M106 87h0M94 12h0M69 35h0M5 47h0" stroke="#8c5028" stroke-width="2.8" stroke-linecap="round"/><path d="M97 59h0M36 85h0M20 16h0M81 35h0M84 102h0M7 7h0M105 58h0M51 50h0M83 13h0M38 60h0M10 16h0M67 109h0M33 91h0M86 31h0M89 12h0M29 79h0M39 81h0M52 59h0M21 53h0M39 -1h0M70 36h0M27 100h0M103 63h0M9 12h0M10 62h0M1 36h0M75 10h0M77 27h0M33 93h0M46 39h0M14 24h0M42 11h0M4 15h0M50 67h0M98 57h0M70 66h0M83 102h0M6 54h0M13 11h0M46 21h0M59 57h0M93 63h0M4 104h0M73 71h0M59 29h0M44 7h0M95 7h0M51 97h0M11 14h0M45 0h0M33 51h0M95 11h0M7 31h0M48 26h0M13 47h0M111 11h0M108 19h0M72 51h0M10 33h0M100 91h0M111 46h0M22 43h0M30 0h0M36 97h0M54 -2h0M68 76h0M45 83h0M0 98h0M57 25h0M16 58h0M9 -2h0M44 14h0M44 83h0M100 63h0M21 37h0M111 81h0M33 87h0M-2 20h0M44 67h0M1 69h0M39 29h0M28 25h0M67 7h0M95 30h0M107 8h0M78 93h0M91 4h0M8 98h0M32 4h0M49 48h0M109 9h0M89 50h0M29 7h0M6 109h0M0 0h0M99 66h0M25 76h0M-1 109h0M23 71h0M-1 12h0M16 18h0M41 10h0M30 73h0M44 66h0M55 7h0M104 51h0M71 91h0M52 16h0M27 4h0M21 54h0M21 103h0M44 9h0M72 67h0M20 19h0M52 8h0M14 66h0M37 71h0M38 95h0M19 19h0M2 62h0M26 10h0M9 21h0M92 18h0M74 106h0M75 113h0M62 49h0M107 86h0M53 93h0M48 61h0M80 6h0M95 66h0M45 78h0M40 3h0M109 16h0M101 70h0M15 48h0M109 45h0M26 62h0M64 113h0M59 52h0M90 3h0M56 51h0M12 2h0M33 60h0M92 25h0M34 53h0M65 37h0M37 55h0M88 23h0M31 71h0" stroke="#8c5028" stroke-width="3.3" stroke-linecap="round"/><path d="M38 55h0M93 108h0M7 76h0M102 81h0M58 51h0M58 85h0M55 11h0M91 111h0M27 60h0M75 106h0M63 42h0M81 57h0M46 86h0M25 77h0M1 104h0M90 30h0M103 58h0M109 77h0M78 35h0M36 87h0M19 55h0M45 73h0M59 19h0M16 10h0M17 77h0M25 8h0M111 41h0M69 12h0M97 39h0M109 12h0M113 47h0M15 47h0M17 107h0M18 87h0M21 86h0M67 113h0M9 88h0M93 7h0M1 93h0M90 55h0M83 50h0M63 26h0M5 34h0M52 44h0M3 106h0M95 64h0M66 88h0M36 113h0M6 107h0M97 50h0M19 58h0M101 -1h0M76 107h0M54 8h0M10 111h0M72 38h0M70 39h0M108 93h0M78 40h0M11 8h0M103 99h0M14 53h0M57 69h0M95 0h0M70 12h0M71 107h0M62 14h0M101 25h0M112 38h0M46 60h0M68 22h0M30 109h0M58 60h0M4 103h0M112 88h0M99 112h0M12 87h0M87 100h0M15 88h0M68 68h0M24 23h0M81 22h0M77 40h0M57 32h0M12 70h0M28 58h0M105 111h0M83 95h0M20 95h0M16 80h0M113 85h0M6 2h0M55 68h0M78 60h0M9 83h0M58 50h0M72 62h0M37 110h0M76 14h0M49 8h0M32 82h0M17 72h0M63 78h0" stroke="#4a2412" stroke-width="2.5" stroke-linecap="round"/><path d="M73 49h0M94 39h0M23 -1h0M93 18h0M69 21h0M31 13h0M83 7h0M82 100h0M51 28h0M104 108h0M37 10h0M70 94h0M95 51h0M102 5h0M1 93h0M5 70h0M73 65h0M85 59h0M0 8h0M93 1h0M95 -1h0M58 20h0M86 55h0M20 37h0M50 108h0M57 0h0M0 49h0M28 49h0M41 14h0M78 56h0M11 68h0M63 103h0M50 57h0M52 55h0M93 63h0M4 111h0M102 93h0M105 0h0M110 22h0M4 78h0M28 108h0M107 31h0M47 71h0M87 23h0M63 77h0M-2 44h0M71 94h0M56 51h0M72 17h0M18 18h0M50 67h0M1 35h0M104 21h0M11 64h0M26 4h0M3 84h0M25 13h0M3 77h0M100 31h0M47 88h0M7 20h0M62 90h0M63 57h0M1 78h0M42 74h0M39 105h0M68 67h0M96 36h0M70 53h0M65 94h0M60 78h0M-1 40h0M7 60h0M37 103h0M17 80h0M89 79h0M43 103h0M62 46h0M82 108h0M59 101h0M13 63h0M89 67h0M39 80h0M99 63h0M107 -2h0M75 17h0M14 1h0M19 101h0M3 78h0M65 89h0M27 79h0M21 54h0M96 77h0M86 8h0M25 57h0M96 97h0M34 113h0M24 49h0M88 56h0M110 18h0M39 48h0M59 65h0M109 97h0" stroke="#4a2412" stroke-width="3" stroke-linecap="round"/><path d="M59 107h0M70 99h0M84 52h0M48 72h0M65 111h0M62 101h0M63 24h0M55 36h0M70 71h0M24 10h0M97 -1h0M78 5h0M67 37h0M83 104h0M110 73h0M79 66h0M20 16h0M113 91h0M11 70h0M9 25h0M78 24h0M15 63h0M111 68h0M36 1h0M67 82h0M100 70h0M56 23h0M73 79h0M14 58h0M111 48h0M102 85h0M86 48h0M86 -1h0M89 67h0M68 102h0M16 73h0M83 7h0M25 46h0M113 90h0M106 3h0M3 45h0M103 23h0M33 102h0M93 23h0M109 26h0M16 19h0M58 57h0M81 50h0M95 62h0M66 38h0M14 40h0M39 55h0M66 19h0M51 32h0M102 105h0M84 42h0M114 62h0M46 15h0M110 -1h0M2 26h0M92 50h0M19 78h0M71 50h0M56 108h0M26 1h0M21 53h0M103 105h0M35 97h0M44 62h0M109 90h0M88 111h0M92 106h0M5 46h0M4 30h0M39 93h0M3 58h0M0 106h0M8 64h0M85 74h0M38 75h0M38 24h0M62 57h0M13 54h0M113 1h0M33 28h0M68 7h0M44 82h0M86 54h0M59 84h0M87 2h0M111 71h0M44 59h0M16 46h0M83 71h0M101 22h0M99 66h0M110 69h0M33 71h0M107 72h0M98 92h0M80 15h0M11 83h0M71 94h0" stroke="#4a2412" stroke-width="3.5" stroke-linecap="round"/></g></g>
<rect x="405.8" y="524.9" width="55" height="54.9" fill="none" stroke="#3c3c3c" stroke-width="0.9"/>
<clipPath id="c16"><rect x="462.9" y="524.4" width="57.6" height="55.8"/></clipPath>
<g clip-path="url(#c16)"><rect x="462.9" y="524.4" width="57.6" height="55.8" fill="#ecdfd8"/><rect x="462.9" y="524.4" width="57.6" height="55.8" filter="url(#spG)"/><g filter="url(#bl3)" opacity="0.6"><circle cx="504.3" cy="544.9" r="5" fill="#c8cde0"/><circle cx="473.9" cy="578.6" r="6.3" fill="#c8cde0"/><circle cx="489.9" cy="537.1" r="4.8" fill="#c8cde0"/><circle cx="503.9" cy="549.5" r="5.9" fill="#c8cde0"/><circle cx="500.8" cy="549.4" r="5.4" fill="#c8cde0"/><circle cx="518.4" cy="535" r="5.5" fill="#c8cde0"/></g><g filter="url(#bl2)" transform="translate(462.9,524.4) scale(0.5)"><path d="M73 18h0M12 6h0M37 74h0M15 7h0M2 17h0M5 102h0M42 0h0M36 70h0M89 111h0M28 105h0M40 10h0M67 112h0M102 47h0M112 113h0M34 25h0M17 35h0M64 92h0M36 53h0M17 15h0M79 3h0M103 3h0M48 108h0M57 39h0M6 83h0M13 39h0M68 8h0M77 69h0M105 55h0M39 72h0M108 58h0M24 54h0M73 29h0M91 94h0M15 75h0M95 84h0M30 16h0M96 60h0M112 61h0M17 57h0M87 93h0M112 34h0M14 6h0M10 18h0M25 41h0M108 10h0M3 60h0M108 13h0M20 71h0M86 72h0M101 3h0M105 63h0M110 -1h0M6 89h0M74 103h0M58 100h0M34 41h0M66 53h0M39 90h0M41 64h0M25 91h0M103 33h0M104 75h0M52 106h0M38 12h0M55 78h0M96 22h0M64 36h0M92 81h0M16 36h0M61 52h0M38 113h0M16 77h0M97 11h0" stroke="#d8c0b0" stroke-width="2.2" stroke-linecap="round"/><path d="M-2 61h0M115 73h0M94 80h0M88 112h0M10 7h0M99 6h0M32 95h0M25 111h0M28 95h0M96 10h0M103 1h0M48 70h0M88 94h0M100 39h0M94 19h0M11 42h0M104 108h0M80 6h0M39 26h0M9 33h0M106 66h0M86 72h0M83 21h0M21 77h0M38 25h0M111 73h0M41 92h0M4 17h0M88 110h0M67 93h0M56 16h0M107 53h0M61 90h0M87 96h0M7 78h0M36 15h0M107 -1h0M4 55h0M98 5h0M10 36h0M56 38h0M70 106h0M81 16h0M57 15h0M84 63h0M65 64h0M24 39h0M21 73h0M73 21h0M74 32h0M3 105h0M108 108h0M49 82h0M21 26h0M66 15h0M95 19h0M32 -1h0M54 38h0M78 18h0M90 0h0M77 108h0M49 85h0M58 71h0M25 38h0M52 9h0M23 33h0M102 32h0M50 107h0M78 63h0M47 90h0M23 91h0M75 93h0M14 11h0" stroke="#d8c0b0" stroke-width="2.7" stroke-linecap="round"/><path d="M35 90h0M93 7h0M78 65h0M30 86h0M116 50h0M39 104h0M44 8h0M95 48h0M94 15h0M44 70h0M110 92h0M82 16h0M72 71h0M16 33h0M43 3h0M52 66h0M7 67h0M115 41h0M12 99h0M70 92h0M42 28h0M42 98h0M39 40h0M37 16h0M44 34h0M70 105h0M88 110h0M78 72h0M7 82h0M62 43h0M67 61h0M80 20h0M43 39h0M41 62h0M14 19h0M80 6h0M52 20h0M108 78h0M76 45h0M6 8h0M78 70h0M115 57h0M97 52h0M87 104h0M30 24h0M115 59h0M27 48h0M58 63h0M109 46h0M14 63h0M111 33h0M4 64h0M43 -1h0M89 61h0M93 108h0M89 96h0M10 21h0M35 13h0M77 14h0M106 106h0M65 90h0M116 103h0M105 32h0M47 -1h0M0 43h0M26 65h0M58 37h0M35 42h0M43 111h0M17 11h0M90 89h0M55 95h0M75 90h0" stroke="#d8c0b0" stroke-width="3.2" stroke-linecap="round"/><path d="M95 71h0M73 96h0M1 60h0M99 43h0M74 80h0M57 55h0M12 84h0M97 17h0M42 7h0M77 65h0M19 54h0M106 113h0M26 88h0M69 90h0M42 90h0M78 106h0M62 94h0M116 36h0M53 92h0M62 101h0M48 87h0M50 109h0M21 17h0M90 75h0M99 33h0M86 28h0M41 12h0M40 110h0M94 17h0M55 42h0M61 75h0M33 82h0M33 79h0M28 13h0M116 41h0M11 95h0M50 59h0M56 61h0M55 109h0M38 23h0M70 72h0M77 112h0M21 19h0M70 1h0M99 -2h0M66 90h0M107 61h0M13 38h0M117 31h0M47 41h0M88 92h0M56 35h0M82 100h0M99 52h0M56 86h0M44 47h0M43 0h0M29 46h0M18 38h0M114 46h0M27 34h0M85 44h0M106 35h0M23 10h0M27 90h0M28 63h0M27 76h0M8 71h0M105 112h0M85 8h0M57 7h0M13 16h0M39 90h0M68 8h0M111 75h0M90 1h0M98 61h0M111 36h0M30 15h0M57 72h0M1 3h0M19 44h0M50 103h0M22 19h0M2 45h0M22 101h0M44 107h0M16 69h0M90 67h0M13 95h0M67 82h0M74 96h0M29 27h0M64 2h0M96 26h0M91 21h0M36 69h0M26 106h0M50 61h0M9 84h0M41 53h0M70 4h0M99 32h0M42 36h0M14 87h0M29 44h0M68 106h0M59 81h0M105 2h0M67 89h0M98 24h0M76 27h0M97 98h0M40 105h0M102 104h0M115 76h0M52 77h0M79 71h0M9 75h0M90 45h0M65 58h0M108 76h0M92 30h0M1 69h0M81 65h0M19 18h0M6 10h0M72 76h0M20 10h0M54 105h0M108 98h0M79 83h0M-1 59h0M70 21h0M57 66h0M109 39h0M73 93h0M24 50h0M74 16h0M34 58h0M55 112h0M32 12h0M55 8h0M104 113h0M9 110h0M7 90h0" stroke="#8c5028" stroke-width="2.3" stroke-linecap="round"/><path d="M32 24h0M56 73h0M47 45h0M6 55h0M11 93h0M36 26h0M38 27h0M102 0h0M32 96h0M3 58h0M17 68h0M18 40h0M69 62h0M35 111h0M105 104h0M61 51h0M99 105h0M55 109h0M0 32h0M89 102h0M58 43h0M48 50h0M44 34h0M93 28h0M94 15h0M53 7h0M28 79h0M13 32h0M99 12h0M103 44h0M106 47h0M0 6h0M14 27h0M85 74h0M114 7h0M13 38h0M95 39h0M116 99h0M8 109h0M74 22h0M95 91h0M21 77h0M62 1h0M50 79h0M58 74h0M72 91h0M22 28h0M86 105h0M2 58h0M117 87h0M106 102h0M89 22h0M44 37h0M51 95h0M9 13h0M73 14h0M58 101h0M67 21h0M113 110h0M85 91h0M8 73h0M33 68h0M68 41h0M86 81h0M109 50h0M15 48h0M115 74h0M67 104h0M79 58h0M87 88h0M43 107h0M68 4h0M2 94h0M88 65h0M0 8h0M54 8h0M70 3h0M98 27h0M31 57h0M64 20h0M83 88h0M25 85h0M8 41h0M38 61h0M68 113h0M57 3h0M46 10h0M108 90h0M60 28h0M34 54h0M109 92h0M117 55h0M69 91h0M36 15h0M113 6h0M1 39h0M89 52h0M75 28h0M70 73h0M87 63h0M112 75h0M84 82h0M43 107h0M34 40h0M107 70h0M112 -1h0M48 42h0M80 55h0M80 110h0M72 98h0M99 66h0M51 111h0M32 57h0M48 106h0M88 13h0M20 15h0M72 30h0M116 21h0M46 12h0M33 11h0M63 31h0M24 53h0M40 100h0M112 63h0M25 10h0M70 24h0M117 56h0M85 21h0M67 105h0M15 80h0M84 90h0M49 108h0M50 6h0M33 70h0M38 8h0M48 84h0M99 56h0M22 15h0M32 28h0M32 77h0M54 60h0M18 0h0M56 41h0M83 107h0M99 11h0M7 61h0" stroke="#8c5028" stroke-width="2.8" stroke-linecap="round"/><path d="M86 76h0M115 48h0M25 94h0M66 1h0M62 32h0M45 45h0M71 92h0M54 110h0M31 100h0M91 94h0M38 8h0M29 2h0M64 24h0M40 53h0M92 9h0M104 92h0M50 46h0M55 91h0M42 108h0M1 78h0M85 8h0M20 39h0M33 97h0M81 106h0M103 11h0M25 17h0M71 109h0M94 22h0M35 111h0M101 93h0M87 28h0M62 12h0M5 45h0M82 106h0M55 38h0M40 74h0M116 109h0M45 97h0M116 0h0M29 60h0M18 29h0M31 65h0M95 24h0M36 105h0M25 92h0M7 56h0M44 11h0M42 1h0M-1 49h0M13 19h0M65 73h0M70 46h0M93 78h0M3 40h0M15 36h0M66 63h0M50 52h0M35 74h0M41 77h0M21 -1h0M34 21h0M6 69h0M99 65h0M72 26h0M112 21h0M52 42h0M72 110h0M1 3h0M41 103h0M47 107h0M14 22h0M30 46h0M14 14h0M63 76h0M16 9h0M87 90h0M5 44h0M13 21h0M96 38h0M38 92h0M28 27h0M82 17h0M61 67h0M111 92h0M80 106h0M57 28h0M3 31h0M53 54h0M48 3h0M105 68h0M94 103h0M9 88h0M69 105h0M1 107h0M55 104h0M31 81h0M55 72h0M19 92h0M88 68h0M60 63h0M40 20h0M12 81h0M1 17h0M59 50h0M58 7h0M75 87h0M80 55h0M41 113h0M109 91h0M42 100h0M-1 36h0M49 48h0M90 79h0M49 71h0M84 97h0M30 79h0M15 58h0M106 99h0M54 94h0M15 6h0M8 51h0M79 62h0M1 70h0M27 86h0M51 77h0M1 102h0M3 53h0M66 113h0M44 58h0M43 28h0M61 88h0M19 72h0M82 57h0M44 99h0M2 -1h0M106 81h0M1 21h0M52 65h0M24 11h0M93 95h0M58 17h0M70 72h0M99 45h0M6 3h0M37 85h0M20 46h0" stroke="#8c5028" stroke-width="3.3" stroke-linecap="round"/><path d="M54 105h0M14 58h0M16 6h0M20 17h0M61 98h0M1 43h0M100 108h0M99 106h0M44 48h0M7 40h0M40 59h0M19 72h0M109 17h0M13 14h0M57 14h0M62 103h0M16 95h0M35 27h0M11 11h0M79 90h0M80 24h0M84 76h0M101 23h0M28 107h0M42 19h0M77 27h0M70 95h0M49 69h0M9 105h0M34 4h0M103 2h0M111 40h0M85 91h0M72 8h0M11 15h0M18 -2h0M114 95h0M85 88h0M98 94h0M10 106h0M98 111h0M80 23h0M63 93h0M115 3h0M101 101h0M11 96h0M95 45h0M25 13h0M72 79h0M80 4h0M31 17h0M35 74h0M109 90h0M11 21h0M58 92h0M4 97h0M70 107h0M39 21h0M61 110h0M59 78h0M38 11h0M46 68h0M10 2h0M65 100h0M61 90h0M19 4h0M100 38h0M47 58h0M103 4h0M106 81h0M51 90h0M11 59h0M10 23h0M55 8h0M56 89h0M-1 64h0M113 83h0M62 0h0M10 36h0M4 109h0M42 55h0M64 82h0M46 83h0M26 108h0M111 53h0M48 39h0M32 17h0M81 13h0M22 25h0M45 46h0M28 9h0M93 64h0M75 108h0M17 19h0M2 77h0M8 71h0M76 67h0M96 72h0M100 8h0M7 78h0M73 14h0M55 98h0M68 35h0" stroke="#4a2412" stroke-width="2.5" stroke-linecap="round"/><path d="M37 110h0M44 5h0M48 0h0M59 96h0M52 44h0M47 14h0M13 -2h0M111 108h0M16 83h0M75 93h0M21 20h0M101 77h0M107 3h0M82 23h0M101 69h0M95 90h0M18 4h0M83 72h0M18 87h0M3 40h0M33 54h0M43 4h0M58 62h0M87 85h0M15 10h0M4 20h0M115 3h0M35 55h0M73 94h0M84 80h0M99 46h0M2 40h0M82 57h0M45 55h0M94 14h0M2 91h0M26 66h0M94 32h0M112 58h0M42 26h0M78 67h0M85 5h0M23 31h0M64 73h0M80 72h0M96 75h0M98 19h0M67 36h0M38 34h0M103 79h0M67 80h0M2 15h0M71 15h0M3 79h0M65 95h0M38 42h0M29 92h0M49 59h0M82 103h0M61 59h0M26 35h0M55 109h0M17 26h0M113 2h0M-2 37h0M103 5h0M45 23h0M37 94h0M71 39h0M116 23h0M64 12h0M27 49h0M65 14h0M46 10h0M47 -1h0M92 71h0M41 112h0M93 9h0M59 44h0M35 73h0M84 106h0M2 42h0M68 13h0M36 48h0M59 84h0M54 100h0M90 55h0M2 36h0M88 37h0M111 83h0M88 77h0M51 74h0M14 54h0M104 57h0M115 103h0M113 59h0M32 92h0M84 36h0M58 12h0M88 101h0M11 44h0M58 92h0M27 95h0" stroke="#4a2412" stroke-width="3" stroke-linecap="round"/><path d="M84 86h0M47 96h0M46 110h0M61 93h0M40 60h0M80 -1h0M64 37h0M116 42h0M1 112h0M70 71h0M84 108h0M11 12h0M13 113h0M4 38h0M72 106h0M0 33h0M23 43h0M19 56h0M70 18h0M99 77h0M101 55h0M95 7h0M18 72h0M25 111h0M33 77h0M63 112h0M108 57h0M97 36h0M107 91h0M112 49h0M87 6h0M64 4h0M68 6h0M97 28h0M42 97h0M104 14h0M52 42h0M3 16h0M116 4h0M22 69h0M91 92h0M4 7h0M75 51h0M51 51h0M102 60h0M10 41h0M4 76h0M6 93h0M70 -1h0M86 105h0M80 96h0M45 113h0M77 23h0M52 39h0M49 10h0M31 86h0M0 -1h0M95 62h0M16 87h0M12 13h0M42 81h0M41 26h0M22 10h0M16 13h0M81 75h0M111 89h0M63 76h0M97 39h0M107 37h0M19 55h0M10 92h0M18 34h0M46 0h0M104 16h0M70 110h0M96 85h0M9 110h0M85 4h0M70 37h0M10 20h0M115 76h0M60 1h0M6 29h0M15 54h0M68 30h0M13 71h0M48 82h0M38 34h0M56 56h0M62 80h0M7 106h0M62 8h0M105 100h0M48 110h0M54 64h0M77 75h0M4 62h0M49 111h0M111 43h0M15 109h0M6 48h0M7 74h0M96 0h0" stroke="#4a2412" stroke-width="3.5" stroke-linecap="round"/></g></g>
<rect x="463.3" y="524.9" width="56.7" height="54.9" fill="none" stroke="#3c3c3c" stroke-width="0.9"/>
</svg></body></html>
